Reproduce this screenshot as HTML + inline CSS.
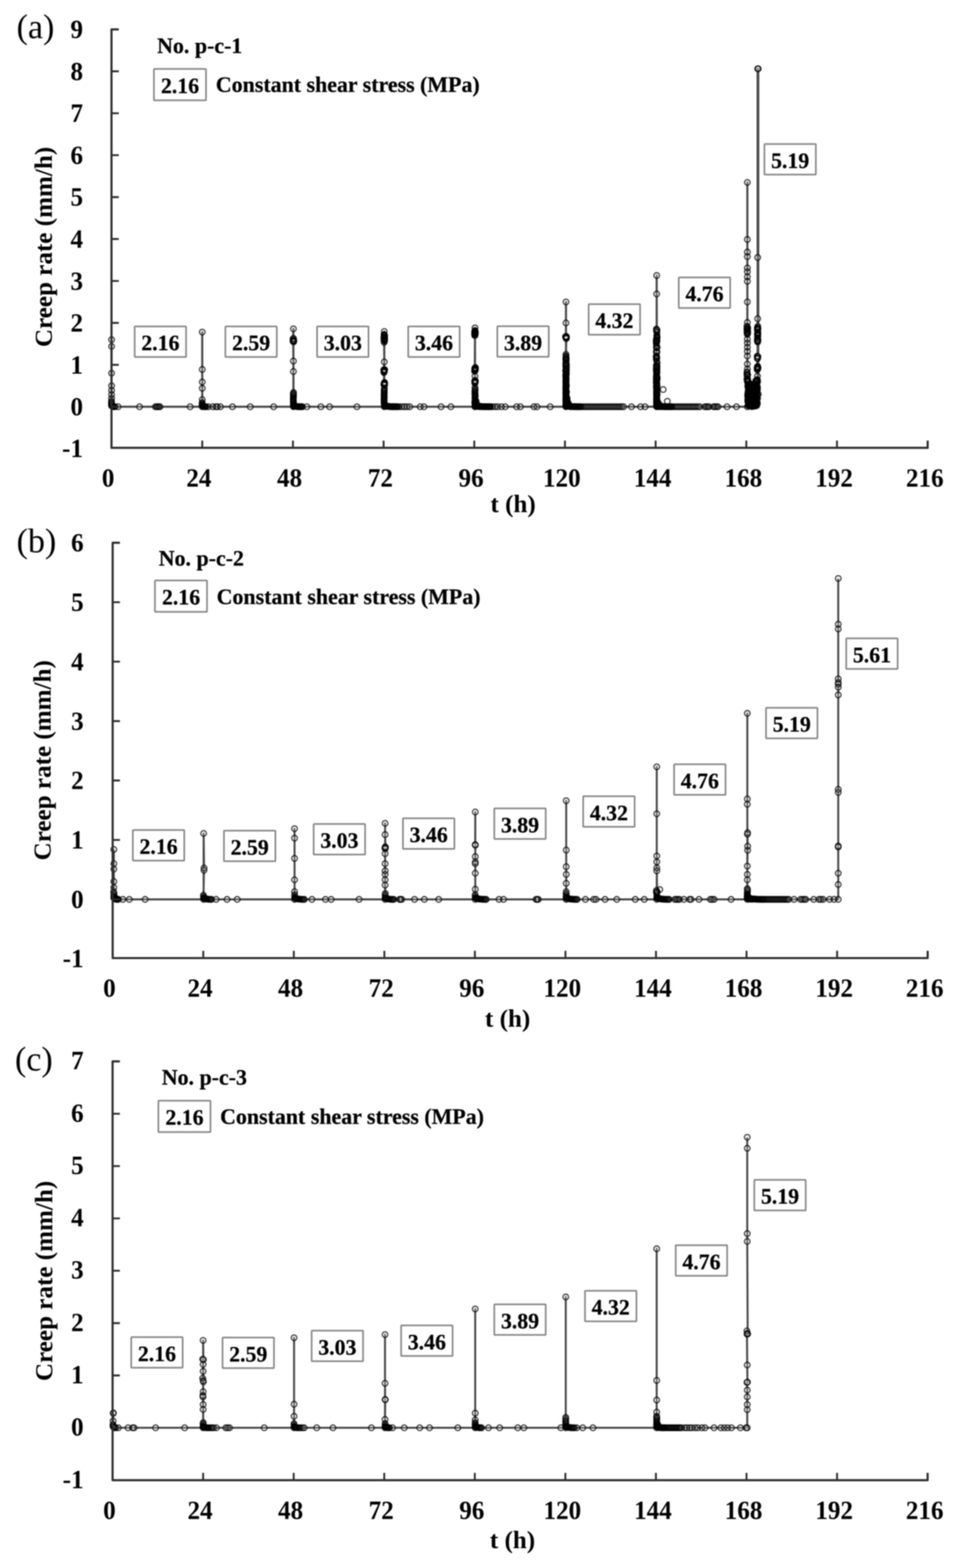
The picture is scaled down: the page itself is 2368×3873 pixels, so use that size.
<!DOCTYPE html>
<html lang="en"><head><meta charset="utf-8"><title>Creep rate curves</title>
<style>html,body{margin:0;padding:0;background:#fff}body{width:2368px;height:3873px;overflow:hidden}svg{display:block;filter:blur(1.35px);font-family:"Liberation Serif","DejaVu Serif",serif;fill:#000}.an{stroke:#000;stroke-width:0.5px}</style>
</head><body>
<svg width="2368" height="3873" viewBox="0 0 2368 3873">
<defs><filter id="db" x="-5%" y="-5%" width="110%" height="110%"><feGaussianBlur stdDeviation="0.7"/></filter></defs>
<rect width="2368" height="3873" fill="#fff"/>
<text transform="translate(205 1128.7) scale(1 1.05)" font-size="62" font-weight="bold" text-anchor="end">-1</text>
<text transform="translate(205 1026.2) scale(1 1.05)" font-size="62" font-weight="bold" text-anchor="end">0</text>
<text transform="translate(205 922.6) scale(1 1.05)" font-size="62" font-weight="bold" text-anchor="end">1</text>
<text transform="translate(205 819.1) scale(1 1.05)" font-size="62" font-weight="bold" text-anchor="end">2</text>
<text transform="translate(205 715.5) scale(1 1.05)" font-size="62" font-weight="bold" text-anchor="end">3</text>
<text transform="translate(205 611.9) scale(1 1.05)" font-size="62" font-weight="bold" text-anchor="end">4</text>
<text transform="translate(205 508.4) scale(1 1.05)" font-size="62" font-weight="bold" text-anchor="end">5</text>
<text transform="translate(205 404.8) scale(1 1.05)" font-size="62" font-weight="bold" text-anchor="end">6</text>
<text transform="translate(205 301.2) scale(1 1.05)" font-size="62" font-weight="bold" text-anchor="end">7</text>
<text transform="translate(205 197.6) scale(1 1.05)" font-size="62" font-weight="bold" text-anchor="end">8</text>
<text transform="translate(205 94.1) scale(1 1.05)" font-size="62" font-weight="bold" text-anchor="end">9</text>
<text transform="translate(267 1202) scale(1 1.05)" font-size="62" font-weight="bold" text-anchor="middle">0</text>
<text transform="translate(491.1 1202) scale(1 1.05)" font-size="62" font-weight="bold" text-anchor="middle">24</text>
<text transform="translate(715.1 1202) scale(1 1.05)" font-size="62" font-weight="bold" text-anchor="middle">48</text>
<text transform="translate(939.2 1202) scale(1 1.05)" font-size="62" font-weight="bold" text-anchor="middle">72</text>
<text transform="translate(1163.2 1202) scale(1 1.05)" font-size="62" font-weight="bold" text-anchor="middle">96</text>
<text transform="translate(1387.3 1202) scale(1 1.05)" font-size="62" font-weight="bold" text-anchor="middle">120</text>
<text transform="translate(1611.4 1202) scale(1 1.05)" font-size="62" font-weight="bold" text-anchor="middle">144</text>
<text transform="translate(1835.4 1202) scale(1 1.05)" font-size="62" font-weight="bold" text-anchor="middle">168</text>
<text transform="translate(2059.5 1202) scale(1 1.05)" font-size="62" font-weight="bold" text-anchor="middle">192</text>
<text transform="translate(2283.5 1202) scale(1 1.05)" font-size="62" font-weight="bold" text-anchor="middle">216</text>
<text transform="translate(1267 1265)" font-size="62" font-weight="bold" text-anchor="middle">t (h)</text>
<text transform="translate(128 610) rotate(-90)" font-size="62" font-weight="bold" text-anchor="middle">Creep rate (mm/h)</text>
<text transform="translate(41 94)" font-size="84">(a)</text>
<text class="an" transform="translate(388 131) scale(1 1.02)" font-size="54.099999999999994" font-weight="bold">No. p-c-1</text>
<text class="an" transform="translate(533 227) scale(1 1.02)" font-size="54.099999999999994" font-weight="bold">Constant shear stress (MPa)</text>
<g filter="url(#db)">
<polyline points="275.5,839 275.5,855.6 275.5,921.8 275.5,952.9 275.5,964.3 275.5,974.7 275.5,984 275.3,991.2 275.2,993.9 275.6,996.6 275.1,999.3 275.5,1002 276,1002.5 276.9,1003.3 278.3,1003.9 279.9,1004.4 281.8,1004.6 283.9,1004.7 291.4,1004.7 344.5,1004.7 383.7,1004.7 386.5,1004.7 389.3,1004.7 392.1,1004.7 394.9,1004.7 469.5,1004.7 499.4,1004.7 499.4,820.3 499.4,912.5 499.4,943.6 499.4,959.1 499.4,987.1 499.3,994.3 499,996.9 499.4,999.5 499,1002.1 499.7,1002.3 500.4,1003 501.3,1003.5 502.5,1003.9 503.8,1004.3 505.3,1004.5 506.9,1004.7 508.7,1004.7 514.3,1004.7 525.5,1004.7 533,1004.7 536.7,1004.7 544.2,1004.7 574,1004.7 617.9,1004.7 675.7,1004.7 724.5,1004.7 724.5,812.1 723.5,840.6 724.3,843.8 723.7,837 724.8,842.6 724.7,835.9 725.6,841 725.3,844.3 723.7,842 724.1,843.6 724.5,891.8 724.5,917.7 724.8,969.5 724.2,972 724.6,974.5 724.6,977 724.4,979.5 724.5,982.1 724.1,984.6 724.1,987.1 724.2,989.6 724.7,992.1 724.4,994.6 724.3,997.2 724.6,999.7 724.5,1002.2 724.7,1001.9 725,1002.1 725.4,1002.4 726,1002.6 726.6,1002.8 727.3,1003.1 728,1003.3 728.9,1003.4 729.8,1003.6 730.8,1003.8 731.8,1003.9 732.9,1004.1 734,1004.2 735.2,1004.3 736.5,1004.4 737.8,1004.5 739.1,1004.5 740.5,1004.6 742,1004.6 743.5,1004.7 745,1004.7 746.6,1004.7 757.8,1004.7 792.3,1004.7 813.8,1004.7 881.4,1004.7 948.9,1004.7 948.9,818.8 949.5,829 948.3,826.2 948.9,827.1 949.4,828.2 949.9,832.4 948.7,833.7 948.1,832.4 947.8,834.3 949.5,833 949.7,837 949.3,838.9 949,836.9 949.6,841.2 948.8,837.6 947.9,839.7 949.2,842.7 949.6,840.6 948.6,845.7 948.9,893.9 947.8,915.1 948.1,917 947.9,920.2 948,914.2 948.6,919 947.9,913.2 949,917.1 949.6,913.1 948.4,913.3 948.6,917.5 949.9,913.1 948.1,919.9 948.3,949.7 949.1,947.4 947.8,949.4 948.6,948 949.9,946.6 948.9,945.4 949.3,946.1 949.8,951.4 949.7,944.6 949.1,959.1 948.8,961.7 948.8,964.2 948.5,966.7 949,969.3 948.5,971.8 948.5,974.3 948.6,976.9 948.6,979.4 948.7,981.9 948.4,984.4 948.4,987 948.5,989.5 948.5,992 948.7,994.6 948.4,997.1 949.2,999.6 949,1002.2 949,1001.8 949.2,1001.9 949.5,1002.1 949.9,1002.3 950.4,1002.4 950.9,1002.6 951.5,1002.7 952.1,1002.9 952.8,1003 953.5,1003.2 954.3,1003.3 955.1,1003.4 955.9,1003.5 956.8,1003.6 957.7,1003.7 958.7,1003.8 959.7,1003.9 960.7,1004 961.8,1004.1 962.9,1004.2 964.1,1004.2 965.2,1004.3 966.4,1004.4 967.7,1004.4 968.9,1004.5 970.2,1004.5 971.6,1004.6 972.9,1004.6 974.3,1004.6 975.7,1004.7 977.2,1004.7 978.7,1004.7 980.2,1004.7 981.7,1004.7 985.4,1004.7 992,1004.7 998.5,1004.7 1005,1004.7 1011.6,1004.7 1037.7,1004.7 1047,1004.7 1089,1004.7 1113.2,1004.7 1172.9,1004.7 1172.9,810 1172.3,819.8 1172.6,818.3 1173.6,820 1172.8,816.3 1171.9,819.9 1172.5,822.7 1173.6,824.1 1171.8,824.9 1172.9,819.1 1173,827.6 1172.9,828.4 1173.7,821.5 1172.3,826.2 1172.1,828.6 1172.9,825.6 1172.5,909.9 1173.6,915.1 1173.6,908 1173.6,909.7 1172.2,910.3 1172.5,912.4 1171.8,916.9 1172.3,914.6 1173.9,910.7 1173.8,913 1173.9,908 1172.2,913.8 1172.9,929.1 1172.2,946.1 1173.1,946.3 1173.6,939.9 1173.2,943.8 1171.9,940.8 1173.8,942.1 1172.9,957.1 1173.1,961.2 1173.1,963.8 1172.8,966.3 1172.6,968.9 1173.1,971.4 1172.7,974 1173.1,976.6 1173.3,979.1 1172.8,981.7 1172.8,984.2 1173.3,986.8 1173.1,989.3 1172.5,991.9 1172.5,994.5 1172.5,997 1173.2,999.6 1173.1,1002.1 1173.1,975.2 1184.5,1004.3 1174.3,992.1 1173.1,1004.2 1184.3,1004.3 1176.2,993.7 1175.1,989.6 1181.1,1004.3 1173.6,996 1173.6,986.8 1173,1001.7 1173.2,1001.9 1173.5,1002 1173.8,1002.2 1174.2,1002.3 1174.7,1002.5 1175.2,1002.6 1175.8,1002.7 1176.4,1002.8 1177,1003 1177.7,1003.1 1178.4,1003.2 1179.2,1003.3 1180,1003.4 1180.8,1003.5 1181.7,1003.6 1182.6,1003.7 1183.5,1003.8 1184.5,1003.8 1185.5,1003.9 1186.5,1004 1187.6,1004.1 1188.7,1004.1 1189.8,1004.2 1190.9,1004.3 1192.1,1004.3 1193.3,1004.4 1194.5,1004.4 1195.8,1004.5 1197.1,1004.5 1198.4,1004.5 1199.7,1004.6 1201,1004.6 1202.4,1004.6 1203.8,1004.7 1205.3,1004.7 1206.7,1004.7 1208.2,1004.7 1209.7,1004.7 1211.2,1004.7 1215.9,1004.7 1222.4,1004.7 1228.9,1004.7 1238.3,1004.7 1247.6,1004.7 1275.6,1004.7 1284.9,1004.7 1318.5,1004.7 1325.9,1004.7 1358.6,1004.7 1397.5,1004.7 1397.5,745.8 1397.5,797.6 1397.3,834 1398.4,835.2 1397.4,833.1 1398.4,831 1398.4,832.5 1397.6,831.7 1396.4,831.5 1396.8,832.3 1398.2,836.4 1397.5,875.2 1397.4,882.8 1397.6,878.8 1397.5,881.7 1398.1,885.2 1397.6,888.5 1397,887.4 1397.5,888.8 1398.1,890.3 1397.4,887.8 1397.5,895.1 1397.9,895.9 1397.6,896.3 1398.5,901.3 1398.3,899.7 1397,897.9 1398.5,905.9 1396.7,903.8 1397.4,909.1 1396.9,914.6 1397.9,914.6 1398.4,909.4 1398,919.2 1396.7,915.5 1398.5,913.9 1398.5,923.9 1397.5,922.6 1398.2,918.3 1397.3,929.5 1397.1,926.9 1397.1,929.2 1397.7,923.9 1397.1,925.3 1397.5,926.6 1397.4,928 1397,929.3 1397.3,930.6 1397.6,932 1397.5,933.3 1397.1,934.7 1398,936 1397.8,937.4 1397.9,938.7 1397.1,940.1 1397.3,941.4 1397.1,942.8 1397.8,944.1 1397.3,945.5 1397.2,946.8 1397.4,948.2 1397.9,949.5 1397.8,950.8 1397.3,952.2 1397.2,953.5 1397.9,954.9 1397.6,956.2 1397.7,957.6 1397.1,958.9 1397.1,960.3 1397.7,961.6 1397.4,963 1397.1,964.3 1397.9,965.7 1397.6,967 1397.8,968.3 1397.1,969.7 1397.8,971 1397.1,972.4 1397.8,973.7 1397.5,975.1 1397.3,976.4 1397.5,977.8 1397.9,979.1 1397.3,980.5 1397.2,981.8 1397.5,983.2 1397.3,984.5 1397.1,985.9 1397.2,987.2 1397.1,988.5 1397.2,989.9 1397.3,991.2 1397.3,992.6 1397.7,993.9 1397.3,995.3 1397.5,996.6 1397.2,998 1397.4,999.3 1397,1000.7 1397.3,1002 1397,1003.4 1404,1000.8 1397.9,975.2 1408.1,1004.5 1405.6,1003 1400.5,983.7 1399.4,985.8 1403.2,995.5 1398.9,968.3 1403.6,999.4 1399.5,992.3 1397.5,995.4 1397.6,952 1398.3,995.8 1397.6,945.4 1406.7,1002.9 1398.5,992.2 1398.5,981.7 1397.8,975.6 1398.3,952.9 1409,1004 1398.2,950.5 1398.7,987.6 1397.5,977 1400.2,990.9 1398,973.9 1397.5,985.5 1397.6,976.6 1397.5,1003.1 1398.6,993.4 1401.7,996 1397.6,1001.8 1397.9,1001.9 1398.3,1002.1 1398.7,1002.3 1399.2,1002.4 1399.8,1002.6 1400.4,1002.7 1401.1,1002.9 1401.9,1003 1402.7,1003.2 1403.5,1003.3 1404.4,1003.4 1405.4,1003.5 1406.4,1003.6 1407.4,1003.7 1408.5,1003.8 1409.6,1003.9 1410.8,1004 1411.9,1004.1 1413.2,1004.2 1414.5,1004.2 1415.8,1004.3 1417.1,1004.4 1418.5,1004.4 1419.9,1004.5 1421.4,1004.5 1422.9,1004.6 1424.4,1004.6 1425.9,1004.6 1427.5,1004.7 1429.1,1004.7 1430.8,1004.7 1432.5,1004.7 1434.2,1004.7 1437.9,1004.7 1442.7,1004.7 1447.6,1004.7 1452.4,1004.7 1457.3,1004.7 1462.1,1004.7 1467,1004.7 1471.9,1004.7 1476.7,1004.7 1481.6,1004.7 1486.4,1004.7 1491.3,1004.7 1496.1,1004.7 1501,1004.7 1505.8,1004.7 1510.7,1004.7 1515.5,1004.7 1520.4,1004.7 1525.2,1004.7 1530.1,1004.7 1534.9,1004.7 1539.8,1004.7 1559.2,1004.7 1581.6,1004.7 1592.8,1004.7 1621.5,1004.7 1621.5,680.5 1621.5,726.1 1621.8,814.9 1622.3,815.2 1621.1,818.3 1620.7,812.7 1621.8,815.1 1622.2,821.5 1621.8,828.9 1622.2,830 1621.5,834.4 1622.2,834.6 1622.2,832.4 1622.4,834 1621.9,836.1 1620.4,839.4 1621.2,840.1 1622.2,843.1 1621.8,839.9 1621.9,839.4 1620.4,843.2 1622,841 1621.6,843.1 1620.5,848.2 1620.9,847.6 1621,852.4 1620.8,858 1622.6,858 1621.2,859.7 1621.9,870.2 1621.8,868.1 1620.5,869 1620.9,883 1621.1,878.7 1620.4,879.9 1621,889.7 1621.9,884 1621,884 1621.4,885.4 1620.6,885.9 1620.8,881.9 1622.5,895.6 1621.4,902.6 1622.5,896.7 1621,903.1 1622.5,904.8 1621.7,904.8 1621.5,908.9 1620.7,903 1621.5,904 1621.9,907.1 1622.4,911.9 1620.4,910 1621.5,917.2 1621,913.9 1621.1,916.2 1622.2,918.5 1622,920.8 1620.6,914.7 1622,917.7 1621,917.9 1621.2,921.7 1621.7,923.4 1621.3,928 1620.5,928.7 1622.2,933.6 1622.5,932.3 1621,932.5 1620.8,934.3 1622.5,935.3 1622.2,931.6 1622.4,937.2 1621.6,934.9 1620.5,936.5 1621.4,940.1 1621.8,940 1620.5,943.4 1620.7,942.4 1621.1,945.7 1622,947 1621,945.8 1621,948.1 1621.3,948.8 1620.7,955.3 1622.4,955 1620.9,952.9 1621.9,950.8 1622,951.9 1621.4,953 1621.2,954.1 1621.2,955.2 1621.1,956.2 1621.3,957.3 1621.1,958.4 1621.2,959.5 1621.3,960.5 1621.6,961.6 1621.8,962.7 1621.7,963.8 1621.4,964.8 1621.4,965.9 1621.5,967 1621.4,968.1 1621.3,969.2 1621.1,970.2 1621.3,971.3 1621.9,972.4 1621.1,973.5 1621.5,974.5 1621.6,975.6 1621.8,976.7 1621.2,977.8 1621.3,978.8 1621.3,979.9 1621.4,981 1621.4,982.1 1621.9,983.2 1621.8,984.2 1621.8,985.3 1621,986.4 1621.1,987.5 1621.7,988.5 1621.9,989.6 1621.5,990.7 1621.6,991.8 1621,992.9 1621.4,993.9 1621.9,995 1621.8,996.1 1621.8,997.2 1621.9,998.2 1621.3,999.3 1621.1,1000.4 1621.2,1001.5 1621.5,1002.5 1621.7,1003.6 1632.2,1003.9 1626.6,998.7 1624,993.9 1621.5,967 1622.1,969.4 1626.5,1002.3 1621.7,993.3 1626.4,998.8 1621.6,1001.5 1624.8,996.1 1623.3,999.1 1625.9,1004.6 1622.6,989.6 1632.6,1004.1 1631,1003.9 1622.2,995.3 1632.7,1004.1 1622.6,1004 1624.5,993.6 1623.6,998.9 1626.9,998.2 1622.1,1003.4 1622.9,992.3 1627.1,1003.4 1629.2,1002.4 1624.6,1001.4 1632.9,1004.4 1629.6,1004.1 1622.1,974.9 1622.5,973 1624.5,1001.6 1622.1,988.4 1626.9,997.9 1621.7,987.3 1622,965.9 1621.7,1002.4 1621.5,985.9 1631.3,1003.4 1628,1000 1632,1004.3 1621.6,1001.7 1621.8,1001.9 1622.1,1002 1622.4,1002.2 1622.8,1002.3 1623.3,1002.5 1623.8,1002.6 1624.3,1002.7 1624.9,1002.8 1625.6,1003 1626.2,1003.1 1627,1003.2 1627.7,1003.3 1628.5,1003.4 1629.3,1003.5 1630.1,1003.6 1631,1003.7 1631.9,1003.8 1632.9,1003.8 1633.9,1003.9 1634.9,1004 1635.9,1004.1 1637,1004.1 1638,1004.2 1639.2,1004.3 1640.3,1004.3 1641.5,1004.4 1642.7,1004.4 1643.9,1004.5 1645.2,1004.5 1646.4,1004.5 1647.7,1004.6 1649.1,1004.6 1650.4,1004.6 1651.8,1004.7 1653.2,1004.7 1654.6,1004.7 1656,1004.7 1657.5,1004.7 1659,1004.7 1662.7,1004.7 1667.4,1004.7 1672.1,1004.7 1676.7,1004.7 1681.4,1004.7 1686,1004.7 1690.7,1004.7 1695.4,1004.7 1700,1004.7 1704.7,1004.7 1709.4,1004.7 1714,1004.7 1718.7,1004.7 1723.4,1004.7 1728,1004.7 1740.2,1004.7 1743.9,1004.7 1747.6,1004.7 1750.4,1004.7 1761.6,1004.7 1765.3,1004.7 1769.1,1004.7 1772.8,1004.7 1795.2,1004.7 1818.5,1004.7 1845.4,1004.7 1845.4,450.6 1845.4,591.5 1845.4,622.5 1845.4,633.9 1845.4,661.9 1845.4,671.2 1845.4,683.6 1845.4,695 1845.4,745.8 1845.4,796.5 1846.4,810.2 1844.3,806.1 1845.1,806.7 1845,812.7 1844.3,814.2 1845.1,813.4 1844.5,812.4 1844.7,812.3 1846.1,816.7 1845.2,817.2 1845.3,822.8 1846.3,820.5 1845.1,825.7 1844.3,820.6 1846.1,824.1 1845.4,838 1845.4,847.3 1845.4,857.6 1845.4,868 1845.4,879.4 1845.4,899.1 1845.4,911.5 1844.4,919.9 1844.4,925.2 1844.8,918.8 1846.3,926.3 1844.9,929.2 1845.6,924.7 1845.9,936 1844.9,935.6 1846,937.9 1845.7,937.5 1844.3,937.3 1845.3,942.4 1845.9,938.8 1845.9,939.4 1846,978.4 1846.1,987.7 1846.2,975.7 1846.3,971.6 1846.4,942.8 1846.5,992.6 1846.6,951.7 1846.7,956.1 1846.8,950.8 1846.9,954.3 1847,965.3 1847.1,983.5 1847.2,984.1 1847.3,981.5 1847.4,954.8 1847.5,999.7 1847.6,992.2 1847.7,957.2 1847.8,989.2 1847.9,1000.6 1848,1002.6 1848.1,970.3 1848.2,984.5 1848.3,944.2 1848.4,950.3 1848.4,944.1 1848.5,988.5 1848.6,999.6 1848.7,998.8 1848.8,974.5 1848.9,961.8 1849,977.8 1849.1,990.6 1849.2,979.7 1849.3,967.6 1849.4,964.5 1849.5,960.2 1849.6,954.4 1849.7,965.3 1849.8,997.5 1849.9,955.1 1850,987.4 1850.1,971.4 1850.2,982.9 1850.3,961.6 1850.4,993.1 1850.5,990.3 1850.6,990.4 1850.7,995.8 1850.8,953.5 1850.9,971.3 1850.9,985.9 1851,981.9 1851.1,947.6 1851.2,975.6 1851.3,991.4 1851.4,958.4 1851.5,967.3 1851.6,948.1 1851.7,998.9 1851.8,977.7 1851.9,958.1 1852,956.9 1852.1,952.8 1852.2,1002.4 1852.3,988.1 1852.4,998 1852.5,994 1852.6,949.8 1852.7,971.8 1852.8,952.3 1852.9,983.7 1853,956 1853.1,979.5 1853.2,990.1 1853.3,961 1853.4,951.7 1853.4,998.8 1853.5,971.3 1853.6,970 1853.7,992.5 1853.8,984.1 1853.9,996.8 1854,993.3 1854.1,990.5 1854.2,971.2 1854.3,968.3 1854.4,993.4 1854.5,1004.1 1854.6,986.5 1854.7,966.9 1854.8,994.4 1854.9,987.3 1855,993.4 1855.1,960.4 1855.2,974.2 1855.3,1001.2 1855.4,999.1 1855.5,982.7 1855.6,974.1 1855.7,969.1 1855.8,999.6 1855.9,995.6 1855.9,966 1856,981.9 1856.1,988.9 1856.2,987.6 1856.3,951.6 1856.4,987.3 1856.5,973.2 1856.6,984.8 1856.7,981.5 1856.8,956.5 1856.9,949.1 1857,984.4 1857.1,993.7 1857.2,964.1 1857.3,993.3 1857.4,1004.4 1857.5,954.3 1857.6,981 1857.7,958.8 1857.8,982 1857.9,955.3 1858,978.9 1858.1,995.6 1858.2,1003.9 1858.3,973.8 1858.4,968.7 1858.4,953.6 1858.5,999.7 1858.6,969.7 1858.7,983.8 1858.8,976.3 1858.9,996.5 1859,988.7 1859.1,975.3 1859.2,952.4 1859.3,998.5 1859.4,976.9 1859.5,959.1 1859.6,949.9 1859.7,993.5 1859.8,997.5 1859.9,951.1 1860,949.2 1860.1,977.2 1860.2,1001.7 1860.3,951.8 1860.4,982.5 1860.5,952.9 1860.6,969.2 1860.7,957.4 1860.8,995.5 1860.9,959.5 1860.9,991.9 1861,981.4 1861.1,955.8 1861.2,956.8 1861.3,994.1 1861.4,992.1 1861.5,981.5 1861.6,974.6 1861.7,982.4 1861.8,997.5 1861.9,990.3 1862,962.3 1862.1,952.2 1862.2,1002.3 1862.3,971.7 1862.4,960.1 1862.5,1002.5 1862.6,955.2 1862.7,997.7 1862.8,969.2 1862.9,972.1 1863,967.4 1863.1,986.5 1863.2,979.6 1863.3,969.9 1863.4,979.2 1863.4,965.1 1863.5,977.8 1863.6,978.3 1863.7,1003.3 1863.8,967.2 1863.9,975 1864,990.4 1864.1,958.2 1864.2,957.1 1864.3,976.7 1864.4,993.7 1864.5,975.6 1864.6,998.1 1864.7,996.8 1864.8,978 1864.9,999 1865,977.2 1865.1,972.9 1865.2,1002.2 1865.3,964.8 1865.4,999.5 1865.5,958.5 1865.6,955.6 1865.7,972.3 1865.8,1001.3 1865.9,972.6 1866,980.6 1866,943.8 1866.1,996 1866.2,949.5 1866.3,940.3 1866.4,957.2 1866.5,951.7 1866.6,992.1 1866.7,940.5 1866.8,972.4 1866.9,941.7 1867,944.2 1867.1,993.8 1867.2,952.3 1867.3,942.6 1867.4,1000.3 1867.5,981.1 1867.6,953.7 1867.7,994 1867.8,943.8 1867.9,986 1868,948.9 1868.1,994.8 1868.2,970.1 1868.3,941.1 1868.4,990.2 1868.5,986.4 1868.5,969.3 1868.6,982.3 1868.7,1002.1 1868.8,991.8 1868.9,993.2 1869,937.8 1869.1,955.9 1869.2,940.2 1869.3,992.5 1869.4,947.6 1869.5,996.3 1869.6,965.8 1869.7,957.8 1869.8,978.1 1869.9,939.8 1870,963.2 1870.1,961.2 1870.2,938.1 1870.3,996.8 1870.4,929.1 1870.5,956.5 1870.6,974.4 1870.7,943 1870.8,984.1 1870.9,904.8 1871.4,910.7 1870,910 1869.7,907.1 1870.2,906.4 1871.8,908.1 1871.1,908.6 1869.6,911.2 1870,913.8 1870.6,880.4 1871.6,881.3 1870.1,884.9 1869.7,880 1870.4,886.1 1870.4,885.1 1870.9,845.1 1870.1,842.5 1870.7,842.2 1871.7,840.7 1870,840 1871.1,841 1871.4,830.4 1870.2,833.8 1871.1,836.6 1870.4,827.6 1870.6,827 1871.3,824.9 1871.7,824.8 1870.8,826.3 1870.2,823.7 1871.4,821.2 1870.9,821.5 1870,814.8 1871,815.1 1871.1,812.9 1870,810.7 1870.3,809.3 1871.6,811.2 1871.2,805.9 1870.8,787.2 1870.8,636 1870.8,169.9 1870.8,169.9 1872.3,169.9 1872.3,973.6" fill="none" stroke="#484848" stroke-width="5.2" stroke-linejoin="round"/>
<g fill="#fff" fill-opacity="0.2" stroke="none"><circle cx="275.5" cy="839" r="7.0"/><circle cx="275.5" cy="855.6" r="7.0"/><circle cx="275.5" cy="921.8" r="7.0"/><circle cx="275.5" cy="952.9" r="7.0"/><circle cx="275.5" cy="964.3" r="7.0"/><circle cx="275.5" cy="974.7" r="7.0"/><circle cx="275.5" cy="984" r="7.0"/><circle cx="275.3" cy="991.2" r="7.0"/><circle cx="275.2" cy="993.9" r="7.0"/><circle cx="275.6" cy="996.6" r="7.0"/><circle cx="275.1" cy="999.3" r="7.0"/><circle cx="275.5" cy="1002" r="7.0"/><circle cx="276" cy="1002.5" r="7.0"/><circle cx="276.9" cy="1003.3" r="7.0"/><circle cx="278.3" cy="1003.9" r="7.0"/><circle cx="279.9" cy="1004.4" r="7.0"/><circle cx="281.8" cy="1004.6" r="7.0"/><circle cx="283.9" cy="1004.7" r="7.0"/><circle cx="291.4" cy="1004.7" r="7.0"/><circle cx="344.5" cy="1004.7" r="7.0"/><circle cx="383.7" cy="1004.7" r="7.0"/><circle cx="386.5" cy="1004.7" r="7.0"/><circle cx="389.3" cy="1004.7" r="7.0"/><circle cx="392.1" cy="1004.7" r="7.0"/><circle cx="394.9" cy="1004.7" r="7.0"/><circle cx="469.5" cy="1004.7" r="7.0"/><circle cx="499.4" cy="1004.7" r="7.0"/><circle cx="499.4" cy="820.3" r="7.0"/><circle cx="499.4" cy="912.5" r="7.0"/><circle cx="499.4" cy="943.6" r="7.0"/><circle cx="499.4" cy="959.1" r="7.0"/><circle cx="499.4" cy="987.1" r="7.0"/><circle cx="499.3" cy="994.3" r="7.0"/><circle cx="499" cy="996.9" r="7.0"/><circle cx="499.4" cy="999.5" r="7.0"/><circle cx="499" cy="1002.1" r="7.0"/><circle cx="499.7" cy="1002.3" r="7.0"/><circle cx="500.4" cy="1003" r="7.0"/><circle cx="501.3" cy="1003.5" r="7.0"/><circle cx="502.5" cy="1003.9" r="7.0"/><circle cx="503.8" cy="1004.3" r="7.0"/><circle cx="505.3" cy="1004.5" r="7.0"/><circle cx="506.9" cy="1004.7" r="7.0"/><circle cx="508.7" cy="1004.7" r="7.0"/><circle cx="514.3" cy="1004.7" r="7.0"/><circle cx="525.5" cy="1004.7" r="7.0"/><circle cx="533" cy="1004.7" r="7.0"/><circle cx="536.7" cy="1004.7" r="7.0"/><circle cx="544.2" cy="1004.7" r="7.0"/><circle cx="574" cy="1004.7" r="7.0"/><circle cx="617.9" cy="1004.7" r="7.0"/><circle cx="675.7" cy="1004.7" r="7.0"/><circle cx="724.5" cy="1004.7" r="7.0"/><circle cx="724.5" cy="812.1" r="7.0"/><circle cx="723.5" cy="840.6" r="7.0"/><circle cx="724.3" cy="843.8" r="7.0"/><circle cx="723.7" cy="837" r="7.0"/><circle cx="724.8" cy="842.6" r="7.0"/><circle cx="724.7" cy="835.9" r="7.0"/><circle cx="725.6" cy="841" r="7.0"/><circle cx="725.3" cy="844.3" r="7.0"/><circle cx="723.7" cy="842" r="7.0"/><circle cx="724.1" cy="843.6" r="7.0"/><circle cx="724.5" cy="891.8" r="7.0"/><circle cx="724.5" cy="917.7" r="7.0"/><circle cx="724.8" cy="969.5" r="7.0"/><circle cx="724.2" cy="972" r="7.0"/><circle cx="724.6" cy="974.5" r="7.0"/><circle cx="724.6" cy="977" r="7.0"/><circle cx="724.4" cy="979.5" r="7.0"/><circle cx="724.5" cy="982.1" r="7.0"/><circle cx="724.1" cy="984.6" r="7.0"/><circle cx="724.1" cy="987.1" r="7.0"/><circle cx="724.2" cy="989.6" r="7.0"/><circle cx="724.7" cy="992.1" r="7.0"/><circle cx="724.4" cy="994.6" r="7.0"/><circle cx="724.3" cy="997.2" r="7.0"/><circle cx="724.6" cy="999.7" r="7.0"/><circle cx="724.5" cy="1002.2" r="7.0"/><circle cx="725" cy="1002.1" r="7.0"/><circle cx="725.4" cy="1002.4" r="7.0"/><circle cx="726" cy="1002.6" r="7.0"/><circle cx="726.6" cy="1002.8" r="7.0"/><circle cx="727.3" cy="1003.1" r="7.0"/><circle cx="728" cy="1003.3" r="7.0"/><circle cx="728.9" cy="1003.4" r="7.0"/><circle cx="729.8" cy="1003.6" r="7.0"/><circle cx="730.8" cy="1003.8" r="7.0"/><circle cx="731.8" cy="1003.9" r="7.0"/><circle cx="732.9" cy="1004.1" r="7.0"/><circle cx="734" cy="1004.2" r="7.0"/><circle cx="735.2" cy="1004.3" r="7.0"/><circle cx="736.5" cy="1004.4" r="7.0"/><circle cx="737.8" cy="1004.5" r="7.0"/><circle cx="739.1" cy="1004.5" r="7.0"/><circle cx="740.5" cy="1004.6" r="7.0"/><circle cx="742" cy="1004.6" r="7.0"/><circle cx="743.5" cy="1004.7" r="7.0"/><circle cx="745" cy="1004.7" r="7.0"/><circle cx="746.6" cy="1004.7" r="7.0"/><circle cx="757.8" cy="1004.7" r="7.0"/><circle cx="792.3" cy="1004.7" r="7.0"/><circle cx="813.8" cy="1004.7" r="7.0"/><circle cx="881.4" cy="1004.7" r="7.0"/><circle cx="948.9" cy="1004.7" r="7.0"/><circle cx="948.9" cy="818.8" r="7.0"/><circle cx="949.5" cy="829" r="7.0"/><circle cx="948.3" cy="826.2" r="7.0"/><circle cx="948.9" cy="827.1" r="7.0"/><circle cx="949.4" cy="828.2" r="7.0"/><circle cx="949.9" cy="832.4" r="7.0"/><circle cx="948.7" cy="833.7" r="7.0"/><circle cx="948.1" cy="832.4" r="7.0"/><circle cx="947.8" cy="834.3" r="7.0"/><circle cx="949.5" cy="833" r="7.0"/><circle cx="949.7" cy="837" r="7.0"/><circle cx="949.3" cy="838.9" r="7.0"/><circle cx="949" cy="836.9" r="7.0"/><circle cx="949.6" cy="841.2" r="7.0"/><circle cx="948.8" cy="837.6" r="7.0"/><circle cx="947.9" cy="839.7" r="7.0"/><circle cx="949.2" cy="842.7" r="7.0"/><circle cx="949.6" cy="840.6" r="7.0"/><circle cx="948.6" cy="845.7" r="7.0"/><circle cx="948.9" cy="893.9" r="7.0"/><circle cx="947.8" cy="915.1" r="7.0"/><circle cx="948.1" cy="917" r="7.0"/><circle cx="947.9" cy="920.2" r="7.0"/><circle cx="948" cy="914.2" r="7.0"/><circle cx="948.6" cy="919" r="7.0"/><circle cx="947.9" cy="913.2" r="7.0"/><circle cx="949" cy="917.1" r="7.0"/><circle cx="949.6" cy="913.1" r="7.0"/><circle cx="948.4" cy="913.3" r="7.0"/><circle cx="948.6" cy="917.5" r="7.0"/><circle cx="949.9" cy="913.1" r="7.0"/><circle cx="948.3" cy="949.7" r="7.0"/><circle cx="949.1" cy="947.4" r="7.0"/><circle cx="947.8" cy="949.4" r="7.0"/><circle cx="948.6" cy="948" r="7.0"/><circle cx="949.9" cy="946.6" r="7.0"/><circle cx="948.9" cy="945.4" r="7.0"/><circle cx="949.3" cy="946.1" r="7.0"/><circle cx="949.8" cy="951.4" r="7.0"/><circle cx="949.7" cy="944.6" r="7.0"/><circle cx="949.1" cy="959.1" r="7.0"/><circle cx="948.8" cy="961.7" r="7.0"/><circle cx="948.8" cy="964.2" r="7.0"/><circle cx="948.5" cy="966.7" r="7.0"/><circle cx="949" cy="969.3" r="7.0"/><circle cx="948.5" cy="971.8" r="7.0"/><circle cx="948.5" cy="974.3" r="7.0"/><circle cx="948.6" cy="976.9" r="7.0"/><circle cx="948.6" cy="979.4" r="7.0"/><circle cx="948.7" cy="981.9" r="7.0"/><circle cx="948.4" cy="984.4" r="7.0"/><circle cx="948.4" cy="987" r="7.0"/><circle cx="948.5" cy="989.5" r="7.0"/><circle cx="948.5" cy="992" r="7.0"/><circle cx="948.7" cy="994.6" r="7.0"/><circle cx="948.4" cy="997.1" r="7.0"/><circle cx="949.2" cy="999.6" r="7.0"/><circle cx="949" cy="1002.2" r="7.0"/><circle cx="949.5" cy="1002.1" r="7.0"/><circle cx="949.9" cy="1002.3" r="7.0"/><circle cx="950.4" cy="1002.4" r="7.0"/><circle cx="950.9" cy="1002.6" r="7.0"/><circle cx="951.5" cy="1002.7" r="7.0"/><circle cx="952.1" cy="1002.9" r="7.0"/><circle cx="952.8" cy="1003" r="7.0"/><circle cx="953.5" cy="1003.2" r="7.0"/><circle cx="954.3" cy="1003.3" r="7.0"/><circle cx="955.1" cy="1003.4" r="7.0"/><circle cx="955.9" cy="1003.5" r="7.0"/><circle cx="956.8" cy="1003.6" r="7.0"/><circle cx="957.7" cy="1003.7" r="7.0"/><circle cx="958.7" cy="1003.8" r="7.0"/><circle cx="959.7" cy="1003.9" r="7.0"/><circle cx="960.7" cy="1004" r="7.0"/><circle cx="961.8" cy="1004.1" r="7.0"/><circle cx="962.9" cy="1004.2" r="7.0"/><circle cx="964.1" cy="1004.2" r="7.0"/><circle cx="965.2" cy="1004.3" r="7.0"/><circle cx="966.4" cy="1004.4" r="7.0"/><circle cx="967.7" cy="1004.4" r="7.0"/><circle cx="968.9" cy="1004.5" r="7.0"/><circle cx="970.2" cy="1004.5" r="7.0"/><circle cx="971.6" cy="1004.6" r="7.0"/><circle cx="972.9" cy="1004.6" r="7.0"/><circle cx="974.3" cy="1004.6" r="7.0"/><circle cx="975.7" cy="1004.7" r="7.0"/><circle cx="977.2" cy="1004.7" r="7.0"/><circle cx="978.7" cy="1004.7" r="7.0"/><circle cx="980.2" cy="1004.7" r="7.0"/><circle cx="981.7" cy="1004.7" r="7.0"/><circle cx="985.4" cy="1004.7" r="7.0"/><circle cx="992" cy="1004.7" r="7.0"/><circle cx="998.5" cy="1004.7" r="7.0"/><circle cx="1005" cy="1004.7" r="7.0"/><circle cx="1011.6" cy="1004.7" r="7.0"/><circle cx="1037.7" cy="1004.7" r="7.0"/><circle cx="1047" cy="1004.7" r="7.0"/><circle cx="1089" cy="1004.7" r="7.0"/><circle cx="1113.2" cy="1004.7" r="7.0"/><circle cx="1172.9" cy="1004.7" r="7.0"/><circle cx="1172.9" cy="810" r="7.0"/><circle cx="1172.3" cy="819.8" r="7.0"/><circle cx="1172.6" cy="818.3" r="7.0"/><circle cx="1173.6" cy="820" r="7.0"/><circle cx="1172.8" cy="816.3" r="7.0"/><circle cx="1171.9" cy="819.9" r="7.0"/><circle cx="1172.5" cy="822.7" r="7.0"/><circle cx="1173.6" cy="824.1" r="7.0"/><circle cx="1171.8" cy="824.9" r="7.0"/><circle cx="1172.9" cy="819.1" r="7.0"/><circle cx="1173" cy="827.6" r="7.0"/><circle cx="1172.9" cy="828.4" r="7.0"/><circle cx="1173.7" cy="821.5" r="7.0"/><circle cx="1172.3" cy="826.2" r="7.0"/><circle cx="1172.1" cy="828.6" r="7.0"/><circle cx="1172.9" cy="825.6" r="7.0"/><circle cx="1172.5" cy="909.9" r="7.0"/><circle cx="1173.6" cy="915.1" r="7.0"/><circle cx="1173.6" cy="908" r="7.0"/><circle cx="1173.6" cy="909.7" r="7.0"/><circle cx="1172.2" cy="910.3" r="7.0"/><circle cx="1172.5" cy="912.4" r="7.0"/><circle cx="1171.8" cy="916.9" r="7.0"/><circle cx="1172.3" cy="914.6" r="7.0"/><circle cx="1173.9" cy="910.7" r="7.0"/><circle cx="1173.8" cy="913" r="7.0"/><circle cx="1173.9" cy="908" r="7.0"/><circle cx="1172.2" cy="913.8" r="7.0"/><circle cx="1172.9" cy="929.1" r="7.0"/><circle cx="1172.2" cy="946.1" r="7.0"/><circle cx="1173.1" cy="946.3" r="7.0"/><circle cx="1173.6" cy="939.9" r="7.0"/><circle cx="1173.2" cy="943.8" r="7.0"/><circle cx="1171.9" cy="940.8" r="7.0"/><circle cx="1173.8" cy="942.1" r="7.0"/><circle cx="1172.9" cy="957.1" r="7.0"/><circle cx="1173.1" cy="961.2" r="7.0"/><circle cx="1173.1" cy="963.8" r="7.0"/><circle cx="1172.8" cy="966.3" r="7.0"/><circle cx="1172.6" cy="968.9" r="7.0"/><circle cx="1173.1" cy="971.4" r="7.0"/><circle cx="1172.7" cy="974" r="7.0"/><circle cx="1173.1" cy="976.6" r="7.0"/><circle cx="1173.3" cy="979.1" r="7.0"/><circle cx="1172.8" cy="981.7" r="7.0"/><circle cx="1172.8" cy="984.2" r="7.0"/><circle cx="1173.3" cy="986.8" r="7.0"/><circle cx="1173.1" cy="989.3" r="7.0"/><circle cx="1172.5" cy="991.9" r="7.0"/><circle cx="1172.5" cy="994.5" r="7.0"/><circle cx="1172.5" cy="997" r="7.0"/><circle cx="1173.2" cy="999.6" r="7.0"/><circle cx="1173.1" cy="1002.1" r="7.0"/><circle cx="1173.1" cy="975.2" r="7.0"/><circle cx="1184.5" cy="1004.3" r="7.0"/><circle cx="1174.3" cy="992.1" r="7.0"/><circle cx="1173.1" cy="1004.2" r="7.0"/><circle cx="1176.2" cy="993.7" r="7.0"/><circle cx="1175.1" cy="989.6" r="7.0"/><circle cx="1181.1" cy="1004.3" r="7.0"/><circle cx="1173.6" cy="996" r="7.0"/><circle cx="1173" cy="1001.7" r="7.0"/><circle cx="1173.5" cy="1002" r="7.0"/><circle cx="1173.8" cy="1002.2" r="7.0"/><circle cx="1174.2" cy="1002.3" r="7.0"/><circle cx="1174.7" cy="1002.5" r="7.0"/><circle cx="1175.2" cy="1002.6" r="7.0"/><circle cx="1175.8" cy="1002.7" r="7.0"/><circle cx="1176.4" cy="1002.8" r="7.0"/><circle cx="1177" cy="1003" r="7.0"/><circle cx="1177.7" cy="1003.1" r="7.0"/><circle cx="1178.4" cy="1003.2" r="7.0"/><circle cx="1179.2" cy="1003.3" r="7.0"/><circle cx="1180" cy="1003.4" r="7.0"/><circle cx="1180.8" cy="1003.5" r="7.0"/><circle cx="1181.7" cy="1003.6" r="7.0"/><circle cx="1182.6" cy="1003.7" r="7.0"/><circle cx="1183.5" cy="1003.8" r="7.0"/><circle cx="1184.5" cy="1003.8" r="7.0"/><circle cx="1185.5" cy="1003.9" r="7.0"/><circle cx="1186.5" cy="1004" r="7.0"/><circle cx="1187.6" cy="1004.1" r="7.0"/><circle cx="1188.7" cy="1004.1" r="7.0"/><circle cx="1189.8" cy="1004.2" r="7.0"/><circle cx="1190.9" cy="1004.3" r="7.0"/><circle cx="1192.1" cy="1004.3" r="7.0"/><circle cx="1193.3" cy="1004.4" r="7.0"/><circle cx="1194.5" cy="1004.4" r="7.0"/><circle cx="1195.8" cy="1004.5" r="7.0"/><circle cx="1197.1" cy="1004.5" r="7.0"/><circle cx="1198.4" cy="1004.5" r="7.0"/><circle cx="1199.7" cy="1004.6" r="7.0"/><circle cx="1201" cy="1004.6" r="7.0"/><circle cx="1202.4" cy="1004.6" r="7.0"/><circle cx="1203.8" cy="1004.7" r="7.0"/><circle cx="1205.3" cy="1004.7" r="7.0"/><circle cx="1206.7" cy="1004.7" r="7.0"/><circle cx="1208.2" cy="1004.7" r="7.0"/><circle cx="1209.7" cy="1004.7" r="7.0"/><circle cx="1211.2" cy="1004.7" r="7.0"/><circle cx="1215.9" cy="1004.7" r="7.0"/><circle cx="1222.4" cy="1004.7" r="7.0"/><circle cx="1228.9" cy="1004.7" r="7.0"/><circle cx="1238.3" cy="1004.7" r="7.0"/><circle cx="1247.6" cy="1004.7" r="7.0"/><circle cx="1275.6" cy="1004.7" r="7.0"/><circle cx="1284.9" cy="1004.7" r="7.0"/><circle cx="1318.5" cy="1004.7" r="7.0"/><circle cx="1325.9" cy="1004.7" r="7.0"/><circle cx="1358.6" cy="1004.7" r="7.0"/><circle cx="1397.5" cy="1004.7" r="7.0"/><circle cx="1397.5" cy="745.8" r="7.0"/><circle cx="1397.5" cy="797.6" r="7.0"/><circle cx="1397.3" cy="834" r="7.0"/><circle cx="1398.4" cy="835.2" r="7.0"/><circle cx="1397.4" cy="833.1" r="7.0"/><circle cx="1398.4" cy="831" r="7.0"/><circle cx="1398.4" cy="832.5" r="7.0"/><circle cx="1397.6" cy="831.7" r="7.0"/><circle cx="1396.4" cy="831.5" r="7.0"/><circle cx="1396.8" cy="832.3" r="7.0"/><circle cx="1398.2" cy="836.4" r="7.0"/><circle cx="1397.5" cy="875.2" r="7.0"/><circle cx="1397.4" cy="882.8" r="7.0"/><circle cx="1397.6" cy="878.8" r="7.0"/><circle cx="1397.5" cy="881.7" r="7.0"/><circle cx="1398.1" cy="885.2" r="7.0"/><circle cx="1397.6" cy="888.5" r="7.0"/><circle cx="1397" cy="887.4" r="7.0"/><circle cx="1397.5" cy="888.8" r="7.0"/><circle cx="1398.1" cy="890.3" r="7.0"/><circle cx="1397.4" cy="887.8" r="7.0"/><circle cx="1397.5" cy="895.1" r="7.0"/><circle cx="1397.9" cy="895.9" r="7.0"/><circle cx="1397.6" cy="896.3" r="7.0"/><circle cx="1398.5" cy="901.3" r="7.0"/><circle cx="1398.3" cy="899.7" r="7.0"/><circle cx="1397" cy="897.9" r="7.0"/><circle cx="1398.5" cy="905.9" r="7.0"/><circle cx="1396.7" cy="903.8" r="7.0"/><circle cx="1397.4" cy="909.1" r="7.0"/><circle cx="1396.9" cy="914.6" r="7.0"/><circle cx="1397.9" cy="914.6" r="7.0"/><circle cx="1398.4" cy="909.4" r="7.0"/><circle cx="1398" cy="919.2" r="7.0"/><circle cx="1396.7" cy="915.5" r="7.0"/><circle cx="1398.5" cy="913.9" r="7.0"/><circle cx="1398.5" cy="923.9" r="7.0"/><circle cx="1397.5" cy="922.6" r="7.0"/><circle cx="1398.2" cy="918.3" r="7.0"/><circle cx="1397.3" cy="929.5" r="7.0"/><circle cx="1397.1" cy="926.9" r="7.0"/><circle cx="1397.1" cy="929.2" r="7.0"/><circle cx="1397.7" cy="923.9" r="7.0"/><circle cx="1397.1" cy="925.3" r="7.0"/><circle cx="1397.5" cy="926.6" r="7.0"/><circle cx="1397.4" cy="928" r="7.0"/><circle cx="1397" cy="929.3" r="7.0"/><circle cx="1397.3" cy="930.6" r="7.0"/><circle cx="1397.6" cy="932" r="7.0"/><circle cx="1397.5" cy="933.3" r="7.0"/><circle cx="1397.1" cy="934.7" r="7.0"/><circle cx="1398" cy="936" r="7.0"/><circle cx="1397.8" cy="937.4" r="7.0"/><circle cx="1397.9" cy="938.7" r="7.0"/><circle cx="1397.1" cy="940.1" r="7.0"/><circle cx="1397.3" cy="941.4" r="7.0"/><circle cx="1397.1" cy="942.8" r="7.0"/><circle cx="1397.8" cy="944.1" r="7.0"/><circle cx="1397.3" cy="945.5" r="7.0"/><circle cx="1397.2" cy="946.8" r="7.0"/><circle cx="1397.4" cy="948.2" r="7.0"/><circle cx="1397.9" cy="949.5" r="7.0"/><circle cx="1397.8" cy="950.8" r="7.0"/><circle cx="1397.3" cy="952.2" r="7.0"/><circle cx="1397.2" cy="953.5" r="7.0"/><circle cx="1397.9" cy="954.9" r="7.0"/><circle cx="1397.6" cy="956.2" r="7.0"/><circle cx="1397.7" cy="957.6" r="7.0"/><circle cx="1397.1" cy="958.9" r="7.0"/><circle cx="1397.1" cy="960.3" r="7.0"/><circle cx="1397.7" cy="961.6" r="7.0"/><circle cx="1397.4" cy="963" r="7.0"/><circle cx="1397.1" cy="964.3" r="7.0"/><circle cx="1397.9" cy="965.7" r="7.0"/><circle cx="1397.6" cy="967" r="7.0"/><circle cx="1397.8" cy="968.3" r="7.0"/><circle cx="1397.1" cy="969.7" r="7.0"/><circle cx="1397.8" cy="971" r="7.0"/><circle cx="1397.1" cy="972.4" r="7.0"/><circle cx="1397.8" cy="973.7" r="7.0"/><circle cx="1397.5" cy="975.1" r="7.0"/><circle cx="1397.3" cy="976.4" r="7.0"/><circle cx="1397.5" cy="977.8" r="7.0"/><circle cx="1397.9" cy="979.1" r="7.0"/><circle cx="1397.3" cy="980.5" r="7.0"/><circle cx="1397.2" cy="981.8" r="7.0"/><circle cx="1397.5" cy="983.2" r="7.0"/><circle cx="1397.3" cy="984.5" r="7.0"/><circle cx="1397.1" cy="985.9" r="7.0"/><circle cx="1397.2" cy="987.2" r="7.0"/><circle cx="1397.1" cy="988.5" r="7.0"/><circle cx="1397.2" cy="989.9" r="7.0"/><circle cx="1397.3" cy="991.2" r="7.0"/><circle cx="1397.3" cy="992.6" r="7.0"/><circle cx="1397.7" cy="993.9" r="7.0"/><circle cx="1397.3" cy="995.3" r="7.0"/><circle cx="1397.5" cy="996.6" r="7.0"/><circle cx="1397.2" cy="998" r="7.0"/><circle cx="1397.4" cy="999.3" r="7.0"/><circle cx="1397" cy="1000.7" r="7.0"/><circle cx="1397.3" cy="1002" r="7.0"/><circle cx="1397" cy="1003.4" r="7.0"/><circle cx="1404" cy="1000.8" r="7.0"/><circle cx="1397.9" cy="975.2" r="7.0"/><circle cx="1408.1" cy="1004.5" r="7.0"/><circle cx="1405.6" cy="1003" r="7.0"/><circle cx="1400.5" cy="983.7" r="7.0"/><circle cx="1399.4" cy="985.8" r="7.0"/><circle cx="1403.2" cy="995.5" r="7.0"/><circle cx="1398.9" cy="968.3" r="7.0"/><circle cx="1403.6" cy="999.4" r="7.0"/><circle cx="1399.5" cy="992.3" r="7.0"/><circle cx="1398.3" cy="995.8" r="7.0"/><circle cx="1406.7" cy="1002.9" r="7.0"/><circle cx="1398.5" cy="992.2" r="7.0"/><circle cx="1398.5" cy="981.7" r="7.0"/><circle cx="1397.8" cy="975.6" r="7.0"/><circle cx="1398.3" cy="952.9" r="7.0"/><circle cx="1409" cy="1004" r="7.0"/><circle cx="1398.2" cy="950.5" r="7.0"/><circle cx="1398.7" cy="987.6" r="7.0"/><circle cx="1397.5" cy="977" r="7.0"/><circle cx="1400.2" cy="990.9" r="7.0"/><circle cx="1398" cy="973.9" r="7.0"/><circle cx="1397.5" cy="985.5" r="7.0"/><circle cx="1397.5" cy="1003.1" r="7.0"/><circle cx="1398.6" cy="993.4" r="7.0"/><circle cx="1401.7" cy="996" r="7.0"/><circle cx="1397.9" cy="1001.9" r="7.0"/><circle cx="1398.3" cy="1002.1" r="7.0"/><circle cx="1398.7" cy="1002.3" r="7.0"/><circle cx="1399.2" cy="1002.4" r="7.0"/><circle cx="1399.8" cy="1002.6" r="7.0"/><circle cx="1400.4" cy="1002.7" r="7.0"/><circle cx="1401.1" cy="1002.9" r="7.0"/><circle cx="1401.9" cy="1003" r="7.0"/><circle cx="1402.7" cy="1003.2" r="7.0"/><circle cx="1403.5" cy="1003.3" r="7.0"/><circle cx="1404.4" cy="1003.4" r="7.0"/><circle cx="1405.4" cy="1003.5" r="7.0"/><circle cx="1406.4" cy="1003.6" r="7.0"/><circle cx="1407.4" cy="1003.7" r="7.0"/><circle cx="1408.5" cy="1003.8" r="7.0"/><circle cx="1409.6" cy="1003.9" r="7.0"/><circle cx="1410.8" cy="1004" r="7.0"/><circle cx="1411.9" cy="1004.1" r="7.0"/><circle cx="1413.2" cy="1004.2" r="7.0"/><circle cx="1414.5" cy="1004.2" r="7.0"/><circle cx="1415.8" cy="1004.3" r="7.0"/><circle cx="1417.1" cy="1004.4" r="7.0"/><circle cx="1418.5" cy="1004.4" r="7.0"/><circle cx="1419.9" cy="1004.5" r="7.0"/><circle cx="1421.4" cy="1004.5" r="7.0"/><circle cx="1422.9" cy="1004.6" r="7.0"/><circle cx="1424.4" cy="1004.6" r="7.0"/><circle cx="1425.9" cy="1004.6" r="7.0"/><circle cx="1427.5" cy="1004.7" r="7.0"/><circle cx="1429.1" cy="1004.7" r="7.0"/><circle cx="1430.8" cy="1004.7" r="7.0"/><circle cx="1432.5" cy="1004.7" r="7.0"/><circle cx="1434.2" cy="1004.7" r="7.0"/><circle cx="1437.9" cy="1004.7" r="7.0"/><circle cx="1442.7" cy="1004.7" r="7.0"/><circle cx="1447.6" cy="1004.7" r="7.0"/><circle cx="1452.4" cy="1004.7" r="7.0"/><circle cx="1457.3" cy="1004.7" r="7.0"/><circle cx="1462.1" cy="1004.7" r="7.0"/><circle cx="1467" cy="1004.7" r="7.0"/><circle cx="1471.9" cy="1004.7" r="7.0"/><circle cx="1476.7" cy="1004.7" r="7.0"/><circle cx="1481.6" cy="1004.7" r="7.0"/><circle cx="1486.4" cy="1004.7" r="7.0"/><circle cx="1491.3" cy="1004.7" r="7.0"/><circle cx="1496.1" cy="1004.7" r="7.0"/><circle cx="1501" cy="1004.7" r="7.0"/><circle cx="1505.8" cy="1004.7" r="7.0"/><circle cx="1510.7" cy="1004.7" r="7.0"/><circle cx="1515.5" cy="1004.7" r="7.0"/><circle cx="1520.4" cy="1004.7" r="7.0"/><circle cx="1525.2" cy="1004.7" r="7.0"/><circle cx="1530.1" cy="1004.7" r="7.0"/><circle cx="1534.9" cy="1004.7" r="7.0"/><circle cx="1539.8" cy="1004.7" r="7.0"/><circle cx="1559.2" cy="1004.7" r="7.0"/><circle cx="1581.6" cy="1004.7" r="7.0"/><circle cx="1592.8" cy="1004.7" r="7.0"/><circle cx="1621.5" cy="1004.7" r="7.0"/><circle cx="1621.5" cy="680.5" r="7.0"/><circle cx="1621.5" cy="726.1" r="7.0"/><circle cx="1621.8" cy="814.9" r="7.0"/><circle cx="1622.3" cy="815.2" r="7.0"/><circle cx="1621.1" cy="818.3" r="7.0"/><circle cx="1620.7" cy="812.7" r="7.0"/><circle cx="1622.2" cy="821.5" r="7.0"/><circle cx="1621.8" cy="828.9" r="7.0"/><circle cx="1622.2" cy="830" r="7.0"/><circle cx="1621.5" cy="834.4" r="7.0"/><circle cx="1622.2" cy="834.6" r="7.0"/><circle cx="1622.2" cy="832.4" r="7.0"/><circle cx="1622.4" cy="834" r="7.0"/><circle cx="1621.9" cy="836.1" r="7.0"/><circle cx="1620.4" cy="839.4" r="7.0"/><circle cx="1621.2" cy="840.1" r="7.0"/><circle cx="1622.2" cy="843.1" r="7.0"/><circle cx="1621.8" cy="839.9" r="7.0"/><circle cx="1621.9" cy="839.4" r="7.0"/><circle cx="1620.4" cy="843.2" r="7.0"/><circle cx="1622" cy="841" r="7.0"/><circle cx="1621.6" cy="843.1" r="7.0"/><circle cx="1620.5" cy="848.2" r="7.0"/><circle cx="1620.9" cy="847.6" r="7.0"/><circle cx="1621" cy="852.4" r="7.0"/><circle cx="1620.8" cy="858" r="7.0"/><circle cx="1622.6" cy="858" r="7.0"/><circle cx="1621.2" cy="859.7" r="7.0"/><circle cx="1621.9" cy="870.2" r="7.0"/><circle cx="1621.8" cy="868.1" r="7.0"/><circle cx="1620.5" cy="869" r="7.0"/><circle cx="1620.9" cy="883" r="7.0"/><circle cx="1621.1" cy="878.7" r="7.0"/><circle cx="1620.4" cy="879.9" r="7.0"/><circle cx="1621" cy="889.7" r="7.0"/><circle cx="1621.9" cy="884" r="7.0"/><circle cx="1621" cy="884" r="7.0"/><circle cx="1621.4" cy="885.4" r="7.0"/><circle cx="1620.6" cy="885.9" r="7.0"/><circle cx="1620.8" cy="881.9" r="7.0"/><circle cx="1622.5" cy="895.6" r="7.0"/><circle cx="1621.4" cy="902.6" r="7.0"/><circle cx="1622.5" cy="896.7" r="7.0"/><circle cx="1621" cy="903.1" r="7.0"/><circle cx="1622.5" cy="904.8" r="7.0"/><circle cx="1621.7" cy="904.8" r="7.0"/><circle cx="1621.5" cy="908.9" r="7.0"/><circle cx="1620.7" cy="903" r="7.0"/><circle cx="1621.5" cy="904" r="7.0"/><circle cx="1621.9" cy="907.1" r="7.0"/><circle cx="1622.4" cy="911.9" r="7.0"/><circle cx="1620.4" cy="910" r="7.0"/><circle cx="1621.5" cy="917.2" r="7.0"/><circle cx="1621" cy="913.9" r="7.0"/><circle cx="1621.1" cy="916.2" r="7.0"/><circle cx="1622.2" cy="918.5" r="7.0"/><circle cx="1622" cy="920.8" r="7.0"/><circle cx="1620.6" cy="914.7" r="7.0"/><circle cx="1622" cy="917.7" r="7.0"/><circle cx="1621" cy="917.9" r="7.0"/><circle cx="1621.2" cy="921.7" r="7.0"/><circle cx="1621.7" cy="923.4" r="7.0"/><circle cx="1621.3" cy="928" r="7.0"/><circle cx="1620.5" cy="928.7" r="7.0"/><circle cx="1622.2" cy="933.6" r="7.0"/><circle cx="1622.5" cy="932.3" r="7.0"/><circle cx="1621" cy="932.5" r="7.0"/><circle cx="1620.8" cy="934.3" r="7.0"/><circle cx="1622.5" cy="935.3" r="7.0"/><circle cx="1622.2" cy="931.6" r="7.0"/><circle cx="1622.4" cy="937.2" r="7.0"/><circle cx="1621.6" cy="934.9" r="7.0"/><circle cx="1620.5" cy="936.5" r="7.0"/><circle cx="1621.4" cy="940.1" r="7.0"/><circle cx="1621.8" cy="940" r="7.0"/><circle cx="1620.5" cy="943.4" r="7.0"/><circle cx="1620.7" cy="942.4" r="7.0"/><circle cx="1621.1" cy="945.7" r="7.0"/><circle cx="1622" cy="947" r="7.0"/><circle cx="1621" cy="945.8" r="7.0"/><circle cx="1621" cy="948.1" r="7.0"/><circle cx="1621.3" cy="948.8" r="7.0"/><circle cx="1620.7" cy="955.3" r="7.0"/><circle cx="1622.4" cy="955" r="7.0"/><circle cx="1620.9" cy="952.9" r="7.0"/><circle cx="1621.9" cy="950.8" r="7.0"/><circle cx="1622" cy="951.9" r="7.0"/><circle cx="1621.4" cy="953" r="7.0"/><circle cx="1621.2" cy="954.1" r="7.0"/><circle cx="1621.2" cy="955.2" r="7.0"/><circle cx="1621.1" cy="956.2" r="7.0"/><circle cx="1621.3" cy="957.3" r="7.0"/><circle cx="1621.1" cy="958.4" r="7.0"/><circle cx="1621.2" cy="959.5" r="7.0"/><circle cx="1621.3" cy="960.5" r="7.0"/><circle cx="1621.6" cy="961.6" r="7.0"/><circle cx="1621.8" cy="962.7" r="7.0"/><circle cx="1621.7" cy="963.8" r="7.0"/><circle cx="1621.4" cy="964.8" r="7.0"/><circle cx="1621.4" cy="965.9" r="7.0"/><circle cx="1621.5" cy="967" r="7.0"/><circle cx="1621.4" cy="968.1" r="7.0"/><circle cx="1621.3" cy="969.2" r="7.0"/><circle cx="1621.1" cy="970.2" r="7.0"/><circle cx="1621.3" cy="971.3" r="7.0"/><circle cx="1621.9" cy="972.4" r="7.0"/><circle cx="1621.1" cy="973.5" r="7.0"/><circle cx="1621.5" cy="974.5" r="7.0"/><circle cx="1621.6" cy="975.6" r="7.0"/><circle cx="1621.8" cy="976.7" r="7.0"/><circle cx="1621.2" cy="977.8" r="7.0"/><circle cx="1621.3" cy="978.8" r="7.0"/><circle cx="1621.3" cy="979.9" r="7.0"/><circle cx="1621.4" cy="981" r="7.0"/><circle cx="1621.4" cy="982.1" r="7.0"/><circle cx="1621.9" cy="983.2" r="7.0"/><circle cx="1621.8" cy="984.2" r="7.0"/><circle cx="1621.8" cy="985.3" r="7.0"/><circle cx="1621" cy="986.4" r="7.0"/><circle cx="1621.1" cy="987.5" r="7.0"/><circle cx="1621.7" cy="988.5" r="7.0"/><circle cx="1621.9" cy="989.6" r="7.0"/><circle cx="1621.5" cy="990.7" r="7.0"/><circle cx="1621.6" cy="991.8" r="7.0"/><circle cx="1621" cy="992.9" r="7.0"/><circle cx="1621.4" cy="993.9" r="7.0"/><circle cx="1621.9" cy="995" r="7.0"/><circle cx="1621.8" cy="996.1" r="7.0"/><circle cx="1621.8" cy="997.2" r="7.0"/><circle cx="1621.9" cy="998.2" r="7.0"/><circle cx="1621.3" cy="999.3" r="7.0"/><circle cx="1621.1" cy="1000.4" r="7.0"/><circle cx="1621.2" cy="1001.5" r="7.0"/><circle cx="1621.5" cy="1002.5" r="7.0"/><circle cx="1621.7" cy="1003.6" r="7.0"/><circle cx="1632.2" cy="1003.9" r="7.0"/><circle cx="1626.6" cy="998.7" r="7.0"/><circle cx="1624" cy="993.9" r="7.0"/><circle cx="1622.1" cy="969.4" r="7.0"/><circle cx="1626.5" cy="1002.3" r="7.0"/><circle cx="1621.7" cy="993.3" r="7.0"/><circle cx="1626.4" cy="998.8" r="7.0"/><circle cx="1621.6" cy="1001.5" r="7.0"/><circle cx="1624.8" cy="996.1" r="7.0"/><circle cx="1623.3" cy="999.1" r="7.0"/><circle cx="1625.9" cy="1004.6" r="7.0"/><circle cx="1622.6" cy="989.6" r="7.0"/><circle cx="1632.6" cy="1004.1" r="7.0"/><circle cx="1631" cy="1003.9" r="7.0"/><circle cx="1622.2" cy="995.3" r="7.0"/><circle cx="1622.6" cy="1004" r="7.0"/><circle cx="1624.5" cy="993.6" r="7.0"/><circle cx="1626.9" cy="998.2" r="7.0"/><circle cx="1622.1" cy="1003.4" r="7.0"/><circle cx="1622.9" cy="992.3" r="7.0"/><circle cx="1627.1" cy="1003.4" r="7.0"/><circle cx="1629.2" cy="1002.4" r="7.0"/><circle cx="1624.6" cy="1001.4" r="7.0"/><circle cx="1632.9" cy="1004.4" r="7.0"/><circle cx="1629.6" cy="1004.1" r="7.0"/><circle cx="1622.1" cy="974.9" r="7.0"/><circle cx="1622.5" cy="973" r="7.0"/><circle cx="1622.1" cy="988.4" r="7.0"/><circle cx="1621.7" cy="987.3" r="7.0"/><circle cx="1622" cy="965.9" r="7.0"/><circle cx="1621.5" cy="985.9" r="7.0"/><circle cx="1631.3" cy="1003.4" r="7.0"/><circle cx="1628" cy="1000" r="7.0"/><circle cx="1632" cy="1004.3" r="7.0"/><circle cx="1621.8" cy="1001.9" r="7.0"/><circle cx="1622.4" cy="1002.2" r="7.0"/><circle cx="1622.8" cy="1002.3" r="7.0"/><circle cx="1623.3" cy="1002.5" r="7.0"/><circle cx="1623.8" cy="1002.6" r="7.0"/><circle cx="1624.3" cy="1002.7" r="7.0"/><circle cx="1624.9" cy="1002.8" r="7.0"/><circle cx="1625.6" cy="1003" r="7.0"/><circle cx="1626.2" cy="1003.1" r="7.0"/><circle cx="1627" cy="1003.2" r="7.0"/><circle cx="1627.7" cy="1003.3" r="7.0"/><circle cx="1628.5" cy="1003.4" r="7.0"/><circle cx="1629.3" cy="1003.5" r="7.0"/><circle cx="1630.1" cy="1003.6" r="7.0"/><circle cx="1631" cy="1003.7" r="7.0"/><circle cx="1632.9" cy="1003.8" r="7.0"/><circle cx="1633.9" cy="1003.9" r="7.0"/><circle cx="1634.9" cy="1004" r="7.0"/><circle cx="1635.9" cy="1004.1" r="7.0"/><circle cx="1637" cy="1004.1" r="7.0"/><circle cx="1638" cy="1004.2" r="7.0"/><circle cx="1639.2" cy="1004.3" r="7.0"/><circle cx="1640.3" cy="1004.3" r="7.0"/><circle cx="1641.5" cy="1004.4" r="7.0"/><circle cx="1642.7" cy="1004.4" r="7.0"/><circle cx="1643.9" cy="1004.5" r="7.0"/><circle cx="1645.2" cy="1004.5" r="7.0"/><circle cx="1646.4" cy="1004.5" r="7.0"/><circle cx="1647.7" cy="1004.6" r="7.0"/><circle cx="1649.1" cy="1004.6" r="7.0"/><circle cx="1650.4" cy="1004.6" r="7.0"/><circle cx="1651.8" cy="1004.7" r="7.0"/><circle cx="1653.2" cy="1004.7" r="7.0"/><circle cx="1654.6" cy="1004.7" r="7.0"/><circle cx="1656" cy="1004.7" r="7.0"/><circle cx="1657.5" cy="1004.7" r="7.0"/><circle cx="1659" cy="1004.7" r="7.0"/><circle cx="1662.7" cy="1004.7" r="7.0"/><circle cx="1667.4" cy="1004.7" r="7.0"/><circle cx="1672.1" cy="1004.7" r="7.0"/><circle cx="1676.7" cy="1004.7" r="7.0"/><circle cx="1681.4" cy="1004.7" r="7.0"/><circle cx="1686" cy="1004.7" r="7.0"/><circle cx="1690.7" cy="1004.7" r="7.0"/><circle cx="1695.4" cy="1004.7" r="7.0"/><circle cx="1700" cy="1004.7" r="7.0"/><circle cx="1704.7" cy="1004.7" r="7.0"/><circle cx="1709.4" cy="1004.7" r="7.0"/><circle cx="1714" cy="1004.7" r="7.0"/><circle cx="1718.7" cy="1004.7" r="7.0"/><circle cx="1723.4" cy="1004.7" r="7.0"/><circle cx="1728" cy="1004.7" r="7.0"/><circle cx="1740.2" cy="1004.7" r="7.0"/><circle cx="1743.9" cy="1004.7" r="7.0"/><circle cx="1747.6" cy="1004.7" r="7.0"/><circle cx="1750.4" cy="1004.7" r="7.0"/><circle cx="1761.6" cy="1004.7" r="7.0"/><circle cx="1765.3" cy="1004.7" r="7.0"/><circle cx="1769.1" cy="1004.7" r="7.0"/><circle cx="1772.8" cy="1004.7" r="7.0"/><circle cx="1795.2" cy="1004.7" r="7.0"/><circle cx="1818.5" cy="1004.7" r="7.0"/><circle cx="1845.4" cy="1004.7" r="7.0"/><circle cx="1845.4" cy="450.6" r="7.0"/><circle cx="1845.4" cy="591.5" r="7.0"/><circle cx="1845.4" cy="622.5" r="7.0"/><circle cx="1845.4" cy="633.9" r="7.0"/><circle cx="1845.4" cy="661.9" r="7.0"/><circle cx="1845.4" cy="671.2" r="7.0"/><circle cx="1845.4" cy="683.6" r="7.0"/><circle cx="1845.4" cy="695" r="7.0"/><circle cx="1845.4" cy="745.8" r="7.0"/><circle cx="1845.4" cy="796.5" r="7.0"/><circle cx="1846.4" cy="810.2" r="7.0"/><circle cx="1844.3" cy="806.1" r="7.0"/><circle cx="1845.1" cy="806.7" r="7.0"/><circle cx="1845" cy="812.7" r="7.0"/><circle cx="1844.3" cy="814.2" r="7.0"/><circle cx="1845.1" cy="813.4" r="7.0"/><circle cx="1844.5" cy="812.4" r="7.0"/><circle cx="1846.1" cy="816.7" r="7.0"/><circle cx="1845.2" cy="817.2" r="7.0"/><circle cx="1845.3" cy="822.8" r="7.0"/><circle cx="1846.3" cy="820.5" r="7.0"/><circle cx="1845.1" cy="825.7" r="7.0"/><circle cx="1844.3" cy="820.6" r="7.0"/><circle cx="1846.1" cy="824.1" r="7.0"/><circle cx="1845.4" cy="838" r="7.0"/><circle cx="1845.4" cy="847.3" r="7.0"/><circle cx="1845.4" cy="857.6" r="7.0"/><circle cx="1845.4" cy="868" r="7.0"/><circle cx="1845.4" cy="879.4" r="7.0"/><circle cx="1845.4" cy="899.1" r="7.0"/><circle cx="1845.4" cy="911.5" r="7.0"/><circle cx="1844.4" cy="919.9" r="7.0"/><circle cx="1844.4" cy="925.2" r="7.0"/><circle cx="1844.8" cy="918.8" r="7.0"/><circle cx="1846.3" cy="926.3" r="7.0"/><circle cx="1844.9" cy="929.2" r="7.0"/><circle cx="1845.6" cy="924.7" r="7.0"/><circle cx="1845.9" cy="936" r="7.0"/><circle cx="1844.9" cy="935.6" r="7.0"/><circle cx="1846" cy="937.9" r="7.0"/><circle cx="1845.7" cy="937.5" r="7.0"/><circle cx="1844.3" cy="937.3" r="7.0"/><circle cx="1845.3" cy="942.4" r="7.0"/><circle cx="1845.9" cy="938.8" r="7.0"/><circle cx="1845.9" cy="939.4" r="7.0"/><circle cx="1846" cy="978.4" r="7.0"/><circle cx="1846.1" cy="987.7" r="7.0"/><circle cx="1846.2" cy="975.7" r="7.0"/><circle cx="1846.3" cy="971.6" r="7.0"/><circle cx="1846.4" cy="942.8" r="7.0"/><circle cx="1846.5" cy="992.6" r="7.0"/><circle cx="1846.6" cy="951.7" r="7.0"/><circle cx="1846.7" cy="956.1" r="7.0"/><circle cx="1846.8" cy="950.8" r="7.0"/><circle cx="1846.9" cy="954.3" r="7.0"/><circle cx="1847" cy="965.3" r="7.0"/><circle cx="1847.1" cy="983.5" r="7.0"/><circle cx="1847.2" cy="984.1" r="7.0"/><circle cx="1847.3" cy="981.5" r="7.0"/><circle cx="1847.4" cy="954.8" r="7.0"/><circle cx="1847.5" cy="999.7" r="7.0"/><circle cx="1847.6" cy="992.2" r="7.0"/><circle cx="1847.7" cy="957.2" r="7.0"/><circle cx="1847.8" cy="989.2" r="7.0"/><circle cx="1847.9" cy="1000.6" r="7.0"/><circle cx="1848" cy="1002.6" r="7.0"/><circle cx="1848.1" cy="970.3" r="7.0"/><circle cx="1848.2" cy="984.5" r="7.0"/><circle cx="1848.3" cy="944.2" r="7.0"/><circle cx="1848.4" cy="950.3" r="7.0"/><circle cx="1848.5" cy="988.5" r="7.0"/><circle cx="1848.6" cy="999.6" r="7.0"/><circle cx="1848.7" cy="998.8" r="7.0"/><circle cx="1848.8" cy="974.5" r="7.0"/><circle cx="1848.9" cy="961.8" r="7.0"/><circle cx="1849" cy="977.8" r="7.0"/><circle cx="1849.1" cy="990.6" r="7.0"/><circle cx="1849.2" cy="979.7" r="7.0"/><circle cx="1849.3" cy="967.6" r="7.0"/><circle cx="1849.4" cy="964.5" r="7.0"/><circle cx="1849.5" cy="960.2" r="7.0"/><circle cx="1849.6" cy="954.4" r="7.0"/><circle cx="1849.7" cy="965.3" r="7.0"/><circle cx="1849.8" cy="997.5" r="7.0"/><circle cx="1849.9" cy="955.1" r="7.0"/><circle cx="1850" cy="987.4" r="7.0"/><circle cx="1850.1" cy="971.4" r="7.0"/><circle cx="1850.2" cy="982.9" r="7.0"/><circle cx="1850.3" cy="961.6" r="7.0"/><circle cx="1850.4" cy="993.1" r="7.0"/><circle cx="1850.5" cy="990.3" r="7.0"/><circle cx="1850.7" cy="995.8" r="7.0"/><circle cx="1850.8" cy="953.5" r="7.0"/><circle cx="1850.9" cy="971.3" r="7.0"/><circle cx="1850.9" cy="985.9" r="7.0"/><circle cx="1851" cy="981.9" r="7.0"/><circle cx="1851.1" cy="947.6" r="7.0"/><circle cx="1851.2" cy="975.6" r="7.0"/><circle cx="1851.3" cy="991.4" r="7.0"/><circle cx="1851.4" cy="958.4" r="7.0"/><circle cx="1851.5" cy="967.3" r="7.0"/><circle cx="1851.6" cy="948.1" r="7.0"/><circle cx="1851.7" cy="998.9" r="7.0"/><circle cx="1851.8" cy="977.7" r="7.0"/><circle cx="1851.9" cy="958.1" r="7.0"/><circle cx="1852" cy="956.9" r="7.0"/><circle cx="1852.1" cy="952.8" r="7.0"/><circle cx="1852.2" cy="1002.4" r="7.0"/><circle cx="1852.3" cy="988.1" r="7.0"/><circle cx="1852.4" cy="998" r="7.0"/><circle cx="1852.5" cy="994" r="7.0"/><circle cx="1852.6" cy="949.8" r="7.0"/><circle cx="1852.7" cy="971.8" r="7.0"/><circle cx="1852.8" cy="952.3" r="7.0"/><circle cx="1852.9" cy="983.7" r="7.0"/><circle cx="1853" cy="956" r="7.0"/><circle cx="1853.1" cy="979.5" r="7.0"/><circle cx="1853.2" cy="990.1" r="7.0"/><circle cx="1853.3" cy="961" r="7.0"/><circle cx="1853.4" cy="951.7" r="7.0"/><circle cx="1853.4" cy="998.8" r="7.0"/><circle cx="1853.5" cy="971.3" r="7.0"/><circle cx="1853.6" cy="970" r="7.0"/><circle cx="1853.7" cy="992.5" r="7.0"/><circle cx="1853.8" cy="984.1" r="7.0"/><circle cx="1853.9" cy="996.8" r="7.0"/><circle cx="1854" cy="993.3" r="7.0"/><circle cx="1854.1" cy="990.5" r="7.0"/><circle cx="1854.2" cy="971.2" r="7.0"/><circle cx="1854.3" cy="968.3" r="7.0"/><circle cx="1854.4" cy="993.4" r="7.0"/><circle cx="1854.5" cy="1004.1" r="7.0"/><circle cx="1854.6" cy="986.5" r="7.0"/><circle cx="1854.7" cy="966.9" r="7.0"/><circle cx="1854.8" cy="994.4" r="7.0"/><circle cx="1854.9" cy="987.3" r="7.0"/><circle cx="1855" cy="993.4" r="7.0"/><circle cx="1855.1" cy="960.4" r="7.0"/><circle cx="1855.2" cy="974.2" r="7.0"/><circle cx="1855.3" cy="1001.2" r="7.0"/><circle cx="1855.4" cy="999.1" r="7.0"/><circle cx="1855.5" cy="982.7" r="7.0"/><circle cx="1855.6" cy="974.1" r="7.0"/><circle cx="1855.7" cy="969.1" r="7.0"/><circle cx="1855.8" cy="999.6" r="7.0"/><circle cx="1855.9" cy="995.6" r="7.0"/><circle cx="1855.9" cy="966" r="7.0"/><circle cx="1856" cy="981.9" r="7.0"/><circle cx="1856.1" cy="988.9" r="7.0"/><circle cx="1856.2" cy="987.6" r="7.0"/><circle cx="1856.3" cy="951.6" r="7.0"/><circle cx="1856.4" cy="987.3" r="7.0"/><circle cx="1856.5" cy="973.2" r="7.0"/><circle cx="1856.6" cy="984.8" r="7.0"/><circle cx="1856.7" cy="981.5" r="7.0"/><circle cx="1856.8" cy="956.5" r="7.0"/><circle cx="1856.9" cy="949.1" r="7.0"/><circle cx="1857" cy="984.4" r="7.0"/><circle cx="1857.1" cy="993.7" r="7.0"/><circle cx="1857.2" cy="964.1" r="7.0"/><circle cx="1857.3" cy="993.3" r="7.0"/><circle cx="1857.4" cy="1004.4" r="7.0"/><circle cx="1857.5" cy="954.3" r="7.0"/><circle cx="1857.6" cy="981" r="7.0"/><circle cx="1857.7" cy="958.8" r="7.0"/><circle cx="1857.8" cy="982" r="7.0"/><circle cx="1857.9" cy="955.3" r="7.0"/><circle cx="1858" cy="978.9" r="7.0"/><circle cx="1858.1" cy="995.6" r="7.0"/><circle cx="1858.2" cy="1003.9" r="7.0"/><circle cx="1858.3" cy="973.8" r="7.0"/><circle cx="1858.4" cy="968.7" r="7.0"/><circle cx="1858.4" cy="953.6" r="7.0"/><circle cx="1858.5" cy="999.7" r="7.0"/><circle cx="1858.6" cy="969.7" r="7.0"/><circle cx="1858.7" cy="983.8" r="7.0"/><circle cx="1858.8" cy="976.3" r="7.0"/><circle cx="1858.9" cy="996.5" r="7.0"/><circle cx="1859" cy="988.7" r="7.0"/><circle cx="1859.1" cy="975.3" r="7.0"/><circle cx="1859.2" cy="952.4" r="7.0"/><circle cx="1859.3" cy="998.5" r="7.0"/><circle cx="1859.4" cy="976.9" r="7.0"/><circle cx="1859.5" cy="959.1" r="7.0"/><circle cx="1859.6" cy="949.9" r="7.0"/><circle cx="1859.7" cy="993.5" r="7.0"/><circle cx="1859.8" cy="997.5" r="7.0"/><circle cx="1859.9" cy="951.1" r="7.0"/><circle cx="1860" cy="949.2" r="7.0"/><circle cx="1860.1" cy="977.2" r="7.0"/><circle cx="1860.2" cy="1001.7" r="7.0"/><circle cx="1860.3" cy="951.8" r="7.0"/><circle cx="1860.4" cy="982.5" r="7.0"/><circle cx="1860.5" cy="952.9" r="7.0"/><circle cx="1860.6" cy="969.2" r="7.0"/><circle cx="1860.7" cy="957.4" r="7.0"/><circle cx="1860.8" cy="995.5" r="7.0"/><circle cx="1860.9" cy="959.5" r="7.0"/><circle cx="1860.9" cy="991.9" r="7.0"/><circle cx="1861" cy="981.4" r="7.0"/><circle cx="1861.1" cy="955.8" r="7.0"/><circle cx="1861.2" cy="956.8" r="7.0"/><circle cx="1861.3" cy="994.1" r="7.0"/><circle cx="1861.4" cy="992.1" r="7.0"/><circle cx="1861.5" cy="981.5" r="7.0"/><circle cx="1861.6" cy="974.6" r="7.0"/><circle cx="1861.7" cy="982.4" r="7.0"/><circle cx="1861.8" cy="997.5" r="7.0"/><circle cx="1861.9" cy="990.3" r="7.0"/><circle cx="1862" cy="962.3" r="7.0"/><circle cx="1862.1" cy="952.2" r="7.0"/><circle cx="1862.2" cy="1002.3" r="7.0"/><circle cx="1862.3" cy="971.7" r="7.0"/><circle cx="1862.4" cy="960.1" r="7.0"/><circle cx="1862.5" cy="1002.5" r="7.0"/><circle cx="1862.6" cy="955.2" r="7.0"/><circle cx="1862.7" cy="997.7" r="7.0"/><circle cx="1862.8" cy="969.2" r="7.0"/><circle cx="1862.9" cy="972.1" r="7.0"/><circle cx="1863" cy="967.4" r="7.0"/><circle cx="1863.1" cy="986.5" r="7.0"/><circle cx="1863.2" cy="979.6" r="7.0"/><circle cx="1863.3" cy="969.9" r="7.0"/><circle cx="1863.4" cy="979.2" r="7.0"/><circle cx="1863.4" cy="965.1" r="7.0"/><circle cx="1863.5" cy="977.8" r="7.0"/><circle cx="1863.6" cy="978.3" r="7.0"/><circle cx="1863.7" cy="1003.3" r="7.0"/><circle cx="1863.8" cy="967.2" r="7.0"/><circle cx="1863.9" cy="975" r="7.0"/><circle cx="1864" cy="990.4" r="7.0"/><circle cx="1864.1" cy="958.2" r="7.0"/><circle cx="1864.2" cy="957.1" r="7.0"/><circle cx="1864.3" cy="976.7" r="7.0"/><circle cx="1864.4" cy="993.7" r="7.0"/><circle cx="1864.5" cy="975.6" r="7.0"/><circle cx="1864.6" cy="998.1" r="7.0"/><circle cx="1864.7" cy="996.8" r="7.0"/><circle cx="1864.8" cy="978" r="7.0"/><circle cx="1864.9" cy="999" r="7.0"/><circle cx="1865" cy="977.2" r="7.0"/><circle cx="1865.1" cy="972.9" r="7.0"/><circle cx="1865.2" cy="1002.2" r="7.0"/><circle cx="1865.3" cy="964.8" r="7.0"/><circle cx="1865.4" cy="999.5" r="7.0"/><circle cx="1865.5" cy="958.5" r="7.0"/><circle cx="1865.6" cy="955.6" r="7.0"/><circle cx="1865.7" cy="972.3" r="7.0"/><circle cx="1865.8" cy="1001.3" r="7.0"/><circle cx="1865.9" cy="972.6" r="7.0"/><circle cx="1866" cy="980.6" r="7.0"/><circle cx="1866" cy="943.8" r="7.0"/><circle cx="1866.1" cy="996" r="7.0"/><circle cx="1866.2" cy="949.5" r="7.0"/><circle cx="1866.3" cy="940.3" r="7.0"/><circle cx="1866.4" cy="957.2" r="7.0"/><circle cx="1866.5" cy="951.7" r="7.0"/><circle cx="1866.6" cy="992.1" r="7.0"/><circle cx="1866.8" cy="972.4" r="7.0"/><circle cx="1866.9" cy="941.7" r="7.0"/><circle cx="1867" cy="944.2" r="7.0"/><circle cx="1867.1" cy="993.8" r="7.0"/><circle cx="1867.2" cy="952.3" r="7.0"/><circle cx="1867.3" cy="942.6" r="7.0"/><circle cx="1867.4" cy="1000.3" r="7.0"/><circle cx="1867.5" cy="981.1" r="7.0"/><circle cx="1867.6" cy="953.7" r="7.0"/><circle cx="1867.7" cy="994" r="7.0"/><circle cx="1867.8" cy="943.8" r="7.0"/><circle cx="1867.9" cy="986" r="7.0"/><circle cx="1868" cy="948.9" r="7.0"/><circle cx="1868.1" cy="994.8" r="7.0"/><circle cx="1868.2" cy="970.1" r="7.0"/><circle cx="1868.3" cy="941.1" r="7.0"/><circle cx="1868.4" cy="990.2" r="7.0"/><circle cx="1868.5" cy="986.4" r="7.0"/><circle cx="1868.5" cy="969.3" r="7.0"/><circle cx="1868.6" cy="982.3" r="7.0"/><circle cx="1868.7" cy="1002.1" r="7.0"/><circle cx="1868.8" cy="991.8" r="7.0"/><circle cx="1868.9" cy="993.2" r="7.0"/><circle cx="1869" cy="937.8" r="7.0"/><circle cx="1869.1" cy="955.9" r="7.0"/><circle cx="1869.2" cy="940.2" r="7.0"/><circle cx="1869.3" cy="992.5" r="7.0"/><circle cx="1869.4" cy="947.6" r="7.0"/><circle cx="1869.5" cy="996.3" r="7.0"/><circle cx="1869.6" cy="965.8" r="7.0"/><circle cx="1869.7" cy="957.8" r="7.0"/><circle cx="1869.8" cy="978.1" r="7.0"/><circle cx="1869.9" cy="939.8" r="7.0"/><circle cx="1870" cy="963.2" r="7.0"/><circle cx="1870.1" cy="961.2" r="7.0"/><circle cx="1870.2" cy="938.1" r="7.0"/><circle cx="1870.3" cy="996.8" r="7.0"/><circle cx="1870.4" cy="929.1" r="7.0"/><circle cx="1870.5" cy="956.5" r="7.0"/><circle cx="1870.6" cy="974.4" r="7.0"/><circle cx="1870.7" cy="943" r="7.0"/><circle cx="1870.8" cy="984.1" r="7.0"/><circle cx="1870.9" cy="904.8" r="7.0"/><circle cx="1871.4" cy="910.7" r="7.0"/><circle cx="1870" cy="910" r="7.0"/><circle cx="1869.7" cy="907.1" r="7.0"/><circle cx="1870.2" cy="906.4" r="7.0"/><circle cx="1871.8" cy="908.1" r="7.0"/><circle cx="1871.1" cy="908.6" r="7.0"/><circle cx="1869.6" cy="911.2" r="7.0"/><circle cx="1870" cy="913.8" r="7.0"/><circle cx="1870.6" cy="880.4" r="7.0"/><circle cx="1871.6" cy="881.3" r="7.0"/><circle cx="1870.1" cy="884.9" r="7.0"/><circle cx="1869.7" cy="880" r="7.0"/><circle cx="1870.4" cy="886.1" r="7.0"/><circle cx="1870.4" cy="885.1" r="7.0"/><circle cx="1870.9" cy="845.1" r="7.0"/><circle cx="1870.1" cy="842.5" r="7.0"/><circle cx="1870.7" cy="842.2" r="7.0"/><circle cx="1871.7" cy="840.7" r="7.0"/><circle cx="1870" cy="840" r="7.0"/><circle cx="1871.1" cy="841" r="7.0"/><circle cx="1871.4" cy="830.4" r="7.0"/><circle cx="1870.2" cy="833.8" r="7.0"/><circle cx="1871.1" cy="836.6" r="7.0"/><circle cx="1870.4" cy="827.6" r="7.0"/><circle cx="1870.6" cy="827" r="7.0"/><circle cx="1871.3" cy="824.9" r="7.0"/><circle cx="1870.8" cy="826.3" r="7.0"/><circle cx="1870.2" cy="823.7" r="7.0"/><circle cx="1871.4" cy="821.2" r="7.0"/><circle cx="1870.9" cy="821.5" r="7.0"/><circle cx="1870" cy="814.8" r="7.0"/><circle cx="1871" cy="815.1" r="7.0"/><circle cx="1871.1" cy="812.9" r="7.0"/><circle cx="1870" cy="810.7" r="7.0"/><circle cx="1870.3" cy="809.3" r="7.0"/><circle cx="1871.6" cy="811.2" r="7.0"/><circle cx="1871.2" cy="805.9" r="7.0"/><circle cx="1870.8" cy="787.2" r="7.0"/><circle cx="1870.8" cy="636" r="7.0"/><circle cx="1870.8" cy="169.9" r="7.0"/><circle cx="1872.3" cy="169.9" r="7.0"/><circle cx="1872.3" cy="973.6" r="7.0"/><circle cx="1637.5" cy="962.2" r="7.0"/><circle cx="1647.8" cy="991.2" r="7.0"/></g>
<g fill="none" stroke="#000" stroke-opacity="0.8" stroke-width="2.8"><circle cx="275.5" cy="839" r="7.0"/><circle cx="275.5" cy="855.6" r="7.0"/><circle cx="275.5" cy="921.8" r="7.0"/><circle cx="275.5" cy="952.9" r="7.0"/><circle cx="275.5" cy="964.3" r="7.0"/><circle cx="275.5" cy="974.7" r="7.0"/><circle cx="275.5" cy="984" r="7.0"/><circle cx="275.3" cy="991.2" r="7.0"/><circle cx="275.2" cy="993.9" r="7.0"/><circle cx="275.6" cy="996.6" r="7.0"/><circle cx="275.1" cy="999.3" r="7.0"/><circle cx="275.5" cy="1002" r="7.0"/><circle cx="276" cy="1002.5" r="7.0"/><circle cx="276.9" cy="1003.3" r="7.0"/><circle cx="278.3" cy="1003.9" r="7.0"/><circle cx="279.9" cy="1004.4" r="7.0"/><circle cx="281.8" cy="1004.6" r="7.0"/><circle cx="283.9" cy="1004.7" r="7.0"/><circle cx="291.4" cy="1004.7" r="7.0"/><circle cx="344.5" cy="1004.7" r="7.0"/><circle cx="383.7" cy="1004.7" r="7.0"/><circle cx="386.5" cy="1004.7" r="7.0"/><circle cx="389.3" cy="1004.7" r="7.0"/><circle cx="392.1" cy="1004.7" r="7.0"/><circle cx="394.9" cy="1004.7" r="7.0"/><circle cx="469.5" cy="1004.7" r="7.0"/><circle cx="499.4" cy="1004.7" r="7.0"/><circle cx="499.4" cy="820.3" r="7.0"/><circle cx="499.4" cy="912.5" r="7.0"/><circle cx="499.4" cy="943.6" r="7.0"/><circle cx="499.4" cy="959.1" r="7.0"/><circle cx="499.4" cy="987.1" r="7.0"/><circle cx="499.3" cy="994.3" r="7.0"/><circle cx="499" cy="996.9" r="7.0"/><circle cx="499.4" cy="999.5" r="7.0"/><circle cx="499" cy="1002.1" r="7.0"/><circle cx="499.7" cy="1002.3" r="7.0"/><circle cx="500.4" cy="1003" r="7.0"/><circle cx="501.3" cy="1003.5" r="7.0"/><circle cx="502.5" cy="1003.9" r="7.0"/><circle cx="503.8" cy="1004.3" r="7.0"/><circle cx="505.3" cy="1004.5" r="7.0"/><circle cx="506.9" cy="1004.7" r="7.0"/><circle cx="508.7" cy="1004.7" r="7.0"/><circle cx="514.3" cy="1004.7" r="7.0"/><circle cx="525.5" cy="1004.7" r="7.0"/><circle cx="533" cy="1004.7" r="7.0"/><circle cx="536.7" cy="1004.7" r="7.0"/><circle cx="544.2" cy="1004.7" r="7.0"/><circle cx="574" cy="1004.7" r="7.0"/><circle cx="617.9" cy="1004.7" r="7.0"/><circle cx="675.7" cy="1004.7" r="7.0"/><circle cx="724.5" cy="1004.7" r="7.0"/><circle cx="724.5" cy="812.1" r="7.0"/><circle cx="723.5" cy="840.6" r="7.0"/><circle cx="724.3" cy="843.8" r="7.0"/><circle cx="723.7" cy="837" r="7.0"/><circle cx="724.8" cy="842.6" r="7.0"/><circle cx="724.7" cy="835.9" r="7.0"/><circle cx="725.6" cy="841" r="7.0"/><circle cx="725.3" cy="844.3" r="7.0"/><circle cx="723.7" cy="842" r="7.0"/><circle cx="724.1" cy="843.6" r="7.0"/><circle cx="724.5" cy="891.8" r="7.0"/><circle cx="724.5" cy="917.7" r="7.0"/><circle cx="724.8" cy="969.5" r="7.0"/><circle cx="724.2" cy="972" r="7.0"/><circle cx="724.6" cy="974.5" r="7.0"/><circle cx="724.6" cy="977" r="7.0"/><circle cx="724.4" cy="979.5" r="7.0"/><circle cx="724.5" cy="982.1" r="7.0"/><circle cx="724.1" cy="984.6" r="7.0"/><circle cx="724.1" cy="987.1" r="7.0"/><circle cx="724.2" cy="989.6" r="7.0"/><circle cx="724.7" cy="992.1" r="7.0"/><circle cx="724.4" cy="994.6" r="7.0"/><circle cx="724.3" cy="997.2" r="7.0"/><circle cx="724.6" cy="999.7" r="7.0"/><circle cx="724.5" cy="1002.2" r="7.0"/><circle cx="725" cy="1002.1" r="7.0"/><circle cx="725.4" cy="1002.4" r="7.0"/><circle cx="726" cy="1002.6" r="7.0"/><circle cx="726.6" cy="1002.8" r="7.0"/><circle cx="727.3" cy="1003.1" r="7.0"/><circle cx="728" cy="1003.3" r="7.0"/><circle cx="728.9" cy="1003.4" r="7.0"/><circle cx="729.8" cy="1003.6" r="7.0"/><circle cx="730.8" cy="1003.8" r="7.0"/><circle cx="731.8" cy="1003.9" r="7.0"/><circle cx="732.9" cy="1004.1" r="7.0"/><circle cx="734" cy="1004.2" r="7.0"/><circle cx="735.2" cy="1004.3" r="7.0"/><circle cx="736.5" cy="1004.4" r="7.0"/><circle cx="737.8" cy="1004.5" r="7.0"/><circle cx="739.1" cy="1004.5" r="7.0"/><circle cx="740.5" cy="1004.6" r="7.0"/><circle cx="742" cy="1004.6" r="7.0"/><circle cx="743.5" cy="1004.7" r="7.0"/><circle cx="745" cy="1004.7" r="7.0"/><circle cx="746.6" cy="1004.7" r="7.0"/><circle cx="757.8" cy="1004.7" r="7.0"/><circle cx="792.3" cy="1004.7" r="7.0"/><circle cx="813.8" cy="1004.7" r="7.0"/><circle cx="881.4" cy="1004.7" r="7.0"/><circle cx="948.9" cy="1004.7" r="7.0"/><circle cx="948.9" cy="818.8" r="7.0"/><circle cx="949.5" cy="829" r="7.0"/><circle cx="948.3" cy="826.2" r="7.0"/><circle cx="948.9" cy="827.1" r="7.0"/><circle cx="949.4" cy="828.2" r="7.0"/><circle cx="949.9" cy="832.4" r="7.0"/><circle cx="948.7" cy="833.7" r="7.0"/><circle cx="948.1" cy="832.4" r="7.0"/><circle cx="947.8" cy="834.3" r="7.0"/><circle cx="949.5" cy="833" r="7.0"/><circle cx="949.7" cy="837" r="7.0"/><circle cx="949.3" cy="838.9" r="7.0"/><circle cx="949" cy="836.9" r="7.0"/><circle cx="949.6" cy="841.2" r="7.0"/><circle cx="948.8" cy="837.6" r="7.0"/><circle cx="947.9" cy="839.7" r="7.0"/><circle cx="949.2" cy="842.7" r="7.0"/><circle cx="949.6" cy="840.6" r="7.0"/><circle cx="948.6" cy="845.7" r="7.0"/><circle cx="948.9" cy="893.9" r="7.0"/><circle cx="947.8" cy="915.1" r="7.0"/><circle cx="948.1" cy="917" r="7.0"/><circle cx="947.9" cy="920.2" r="7.0"/><circle cx="948" cy="914.2" r="7.0"/><circle cx="948.6" cy="919" r="7.0"/><circle cx="947.9" cy="913.2" r="7.0"/><circle cx="949" cy="917.1" r="7.0"/><circle cx="949.6" cy="913.1" r="7.0"/><circle cx="948.4" cy="913.3" r="7.0"/><circle cx="948.6" cy="917.5" r="7.0"/><circle cx="949.9" cy="913.1" r="7.0"/><circle cx="948.3" cy="949.7" r="7.0"/><circle cx="949.1" cy="947.4" r="7.0"/><circle cx="947.8" cy="949.4" r="7.0"/><circle cx="948.6" cy="948" r="7.0"/><circle cx="949.9" cy="946.6" r="7.0"/><circle cx="948.9" cy="945.4" r="7.0"/><circle cx="949.3" cy="946.1" r="7.0"/><circle cx="949.8" cy="951.4" r="7.0"/><circle cx="949.7" cy="944.6" r="7.0"/><circle cx="949.1" cy="959.1" r="7.0"/><circle cx="948.8" cy="961.7" r="7.0"/><circle cx="948.8" cy="964.2" r="7.0"/><circle cx="948.5" cy="966.7" r="7.0"/><circle cx="949" cy="969.3" r="7.0"/><circle cx="948.5" cy="971.8" r="7.0"/><circle cx="948.5" cy="974.3" r="7.0"/><circle cx="948.6" cy="976.9" r="7.0"/><circle cx="948.6" cy="979.4" r="7.0"/><circle cx="948.7" cy="981.9" r="7.0"/><circle cx="948.4" cy="984.4" r="7.0"/><circle cx="948.4" cy="987" r="7.0"/><circle cx="948.5" cy="989.5" r="7.0"/><circle cx="948.5" cy="992" r="7.0"/><circle cx="948.7" cy="994.6" r="7.0"/><circle cx="948.4" cy="997.1" r="7.0"/><circle cx="949.2" cy="999.6" r="7.0"/><circle cx="949" cy="1002.2" r="7.0"/><circle cx="949.5" cy="1002.1" r="7.0"/><circle cx="949.9" cy="1002.3" r="7.0"/><circle cx="950.4" cy="1002.4" r="7.0"/><circle cx="950.9" cy="1002.6" r="7.0"/><circle cx="951.5" cy="1002.7" r="7.0"/><circle cx="952.1" cy="1002.9" r="7.0"/><circle cx="952.8" cy="1003" r="7.0"/><circle cx="953.5" cy="1003.2" r="7.0"/><circle cx="954.3" cy="1003.3" r="7.0"/><circle cx="955.1" cy="1003.4" r="7.0"/><circle cx="955.9" cy="1003.5" r="7.0"/><circle cx="956.8" cy="1003.6" r="7.0"/><circle cx="957.7" cy="1003.7" r="7.0"/><circle cx="958.7" cy="1003.8" r="7.0"/><circle cx="959.7" cy="1003.9" r="7.0"/><circle cx="960.7" cy="1004" r="7.0"/><circle cx="961.8" cy="1004.1" r="7.0"/><circle cx="962.9" cy="1004.2" r="7.0"/><circle cx="964.1" cy="1004.2" r="7.0"/><circle cx="965.2" cy="1004.3" r="7.0"/><circle cx="966.4" cy="1004.4" r="7.0"/><circle cx="967.7" cy="1004.4" r="7.0"/><circle cx="968.9" cy="1004.5" r="7.0"/><circle cx="970.2" cy="1004.5" r="7.0"/><circle cx="971.6" cy="1004.6" r="7.0"/><circle cx="972.9" cy="1004.6" r="7.0"/><circle cx="974.3" cy="1004.6" r="7.0"/><circle cx="975.7" cy="1004.7" r="7.0"/><circle cx="977.2" cy="1004.7" r="7.0"/><circle cx="978.7" cy="1004.7" r="7.0"/><circle cx="980.2" cy="1004.7" r="7.0"/><circle cx="981.7" cy="1004.7" r="7.0"/><circle cx="985.4" cy="1004.7" r="7.0"/><circle cx="992" cy="1004.7" r="7.0"/><circle cx="998.5" cy="1004.7" r="7.0"/><circle cx="1005" cy="1004.7" r="7.0"/><circle cx="1011.6" cy="1004.7" r="7.0"/><circle cx="1037.7" cy="1004.7" r="7.0"/><circle cx="1047" cy="1004.7" r="7.0"/><circle cx="1089" cy="1004.7" r="7.0"/><circle cx="1113.2" cy="1004.7" r="7.0"/><circle cx="1172.9" cy="1004.7" r="7.0"/><circle cx="1172.9" cy="810" r="7.0"/><circle cx="1172.3" cy="819.8" r="7.0"/><circle cx="1172.6" cy="818.3" r="7.0"/><circle cx="1173.6" cy="820" r="7.0"/><circle cx="1172.8" cy="816.3" r="7.0"/><circle cx="1171.9" cy="819.9" r="7.0"/><circle cx="1172.5" cy="822.7" r="7.0"/><circle cx="1173.6" cy="824.1" r="7.0"/><circle cx="1171.8" cy="824.9" r="7.0"/><circle cx="1172.9" cy="819.1" r="7.0"/><circle cx="1173" cy="827.6" r="7.0"/><circle cx="1172.9" cy="828.4" r="7.0"/><circle cx="1173.7" cy="821.5" r="7.0"/><circle cx="1172.3" cy="826.2" r="7.0"/><circle cx="1172.1" cy="828.6" r="7.0"/><circle cx="1172.9" cy="825.6" r="7.0"/><circle cx="1172.5" cy="909.9" r="7.0"/><circle cx="1173.6" cy="915.1" r="7.0"/><circle cx="1173.6" cy="908" r="7.0"/><circle cx="1173.6" cy="909.7" r="7.0"/><circle cx="1172.2" cy="910.3" r="7.0"/><circle cx="1172.5" cy="912.4" r="7.0"/><circle cx="1171.8" cy="916.9" r="7.0"/><circle cx="1172.3" cy="914.6" r="7.0"/><circle cx="1173.9" cy="910.7" r="7.0"/><circle cx="1173.8" cy="913" r="7.0"/><circle cx="1173.9" cy="908" r="7.0"/><circle cx="1172.2" cy="913.8" r="7.0"/><circle cx="1172.9" cy="929.1" r="7.0"/><circle cx="1172.2" cy="946.1" r="7.0"/><circle cx="1173.1" cy="946.3" r="7.0"/><circle cx="1173.6" cy="939.9" r="7.0"/><circle cx="1173.2" cy="943.8" r="7.0"/><circle cx="1171.9" cy="940.8" r="7.0"/><circle cx="1173.8" cy="942.1" r="7.0"/><circle cx="1172.9" cy="957.1" r="7.0"/><circle cx="1173.1" cy="961.2" r="7.0"/><circle cx="1173.1" cy="963.8" r="7.0"/><circle cx="1172.8" cy="966.3" r="7.0"/><circle cx="1172.6" cy="968.9" r="7.0"/><circle cx="1173.1" cy="971.4" r="7.0"/><circle cx="1172.7" cy="974" r="7.0"/><circle cx="1173.1" cy="976.6" r="7.0"/><circle cx="1173.3" cy="979.1" r="7.0"/><circle cx="1172.8" cy="981.7" r="7.0"/><circle cx="1172.8" cy="984.2" r="7.0"/><circle cx="1173.3" cy="986.8" r="7.0"/><circle cx="1173.1" cy="989.3" r="7.0"/><circle cx="1172.5" cy="991.9" r="7.0"/><circle cx="1172.5" cy="994.5" r="7.0"/><circle cx="1172.5" cy="997" r="7.0"/><circle cx="1173.2" cy="999.6" r="7.0"/><circle cx="1173.1" cy="1002.1" r="7.0"/><circle cx="1173.1" cy="975.2" r="7.0"/><circle cx="1184.5" cy="1004.3" r="7.0"/><circle cx="1174.3" cy="992.1" r="7.0"/><circle cx="1173.1" cy="1004.2" r="7.0"/><circle cx="1176.2" cy="993.7" r="7.0"/><circle cx="1175.1" cy="989.6" r="7.0"/><circle cx="1181.1" cy="1004.3" r="7.0"/><circle cx="1173.6" cy="996" r="7.0"/><circle cx="1173" cy="1001.7" r="7.0"/><circle cx="1173.5" cy="1002" r="7.0"/><circle cx="1173.8" cy="1002.2" r="7.0"/><circle cx="1174.2" cy="1002.3" r="7.0"/><circle cx="1174.7" cy="1002.5" r="7.0"/><circle cx="1175.2" cy="1002.6" r="7.0"/><circle cx="1175.8" cy="1002.7" r="7.0"/><circle cx="1176.4" cy="1002.8" r="7.0"/><circle cx="1177" cy="1003" r="7.0"/><circle cx="1177.7" cy="1003.1" r="7.0"/><circle cx="1178.4" cy="1003.2" r="7.0"/><circle cx="1179.2" cy="1003.3" r="7.0"/><circle cx="1180" cy="1003.4" r="7.0"/><circle cx="1180.8" cy="1003.5" r="7.0"/><circle cx="1181.7" cy="1003.6" r="7.0"/><circle cx="1182.6" cy="1003.7" r="7.0"/><circle cx="1183.5" cy="1003.8" r="7.0"/><circle cx="1184.5" cy="1003.8" r="7.0"/><circle cx="1185.5" cy="1003.9" r="7.0"/><circle cx="1186.5" cy="1004" r="7.0"/><circle cx="1187.6" cy="1004.1" r="7.0"/><circle cx="1188.7" cy="1004.1" r="7.0"/><circle cx="1189.8" cy="1004.2" r="7.0"/><circle cx="1190.9" cy="1004.3" r="7.0"/><circle cx="1192.1" cy="1004.3" r="7.0"/><circle cx="1193.3" cy="1004.4" r="7.0"/><circle cx="1194.5" cy="1004.4" r="7.0"/><circle cx="1195.8" cy="1004.5" r="7.0"/><circle cx="1197.1" cy="1004.5" r="7.0"/><circle cx="1198.4" cy="1004.5" r="7.0"/><circle cx="1199.7" cy="1004.6" r="7.0"/><circle cx="1201" cy="1004.6" r="7.0"/><circle cx="1202.4" cy="1004.6" r="7.0"/><circle cx="1203.8" cy="1004.7" r="7.0"/><circle cx="1205.3" cy="1004.7" r="7.0"/><circle cx="1206.7" cy="1004.7" r="7.0"/><circle cx="1208.2" cy="1004.7" r="7.0"/><circle cx="1209.7" cy="1004.7" r="7.0"/><circle cx="1211.2" cy="1004.7" r="7.0"/><circle cx="1215.9" cy="1004.7" r="7.0"/><circle cx="1222.4" cy="1004.7" r="7.0"/><circle cx="1228.9" cy="1004.7" r="7.0"/><circle cx="1238.3" cy="1004.7" r="7.0"/><circle cx="1247.6" cy="1004.7" r="7.0"/><circle cx="1275.6" cy="1004.7" r="7.0"/><circle cx="1284.9" cy="1004.7" r="7.0"/><circle cx="1318.5" cy="1004.7" r="7.0"/><circle cx="1325.9" cy="1004.7" r="7.0"/><circle cx="1358.6" cy="1004.7" r="7.0"/><circle cx="1397.5" cy="1004.7" r="7.0"/><circle cx="1397.5" cy="745.8" r="7.0"/><circle cx="1397.5" cy="797.6" r="7.0"/><circle cx="1397.3" cy="834" r="7.0"/><circle cx="1398.4" cy="835.2" r="7.0"/><circle cx="1397.4" cy="833.1" r="7.0"/><circle cx="1398.4" cy="831" r="7.0"/><circle cx="1398.4" cy="832.5" r="7.0"/><circle cx="1397.6" cy="831.7" r="7.0"/><circle cx="1396.4" cy="831.5" r="7.0"/><circle cx="1396.8" cy="832.3" r="7.0"/><circle cx="1398.2" cy="836.4" r="7.0"/><circle cx="1397.5" cy="875.2" r="7.0"/><circle cx="1397.4" cy="882.8" r="7.0"/><circle cx="1397.6" cy="878.8" r="7.0"/><circle cx="1397.5" cy="881.7" r="7.0"/><circle cx="1398.1" cy="885.2" r="7.0"/><circle cx="1397.6" cy="888.5" r="7.0"/><circle cx="1397" cy="887.4" r="7.0"/><circle cx="1397.5" cy="888.8" r="7.0"/><circle cx="1398.1" cy="890.3" r="7.0"/><circle cx="1397.4" cy="887.8" r="7.0"/><circle cx="1397.5" cy="895.1" r="7.0"/><circle cx="1397.9" cy="895.9" r="7.0"/><circle cx="1397.6" cy="896.3" r="7.0"/><circle cx="1398.5" cy="901.3" r="7.0"/><circle cx="1398.3" cy="899.7" r="7.0"/><circle cx="1397" cy="897.9" r="7.0"/><circle cx="1398.5" cy="905.9" r="7.0"/><circle cx="1396.7" cy="903.8" r="7.0"/><circle cx="1397.4" cy="909.1" r="7.0"/><circle cx="1396.9" cy="914.6" r="7.0"/><circle cx="1397.9" cy="914.6" r="7.0"/><circle cx="1398.4" cy="909.4" r="7.0"/><circle cx="1398" cy="919.2" r="7.0"/><circle cx="1396.7" cy="915.5" r="7.0"/><circle cx="1398.5" cy="913.9" r="7.0"/><circle cx="1398.5" cy="923.9" r="7.0"/><circle cx="1397.5" cy="922.6" r="7.0"/><circle cx="1398.2" cy="918.3" r="7.0"/><circle cx="1397.3" cy="929.5" r="7.0"/><circle cx="1397.1" cy="926.9" r="7.0"/><circle cx="1397.1" cy="929.2" r="7.0"/><circle cx="1397.7" cy="923.9" r="7.0"/><circle cx="1397.1" cy="925.3" r="7.0"/><circle cx="1397.5" cy="926.6" r="7.0"/><circle cx="1397.4" cy="928" r="7.0"/><circle cx="1397" cy="929.3" r="7.0"/><circle cx="1397.3" cy="930.6" r="7.0"/><circle cx="1397.6" cy="932" r="7.0"/><circle cx="1397.5" cy="933.3" r="7.0"/><circle cx="1397.1" cy="934.7" r="7.0"/><circle cx="1398" cy="936" r="7.0"/><circle cx="1397.8" cy="937.4" r="7.0"/><circle cx="1397.9" cy="938.7" r="7.0"/><circle cx="1397.1" cy="940.1" r="7.0"/><circle cx="1397.3" cy="941.4" r="7.0"/><circle cx="1397.1" cy="942.8" r="7.0"/><circle cx="1397.8" cy="944.1" r="7.0"/><circle cx="1397.3" cy="945.5" r="7.0"/><circle cx="1397.2" cy="946.8" r="7.0"/><circle cx="1397.4" cy="948.2" r="7.0"/><circle cx="1397.9" cy="949.5" r="7.0"/><circle cx="1397.8" cy="950.8" r="7.0"/><circle cx="1397.3" cy="952.2" r="7.0"/><circle cx="1397.2" cy="953.5" r="7.0"/><circle cx="1397.9" cy="954.9" r="7.0"/><circle cx="1397.6" cy="956.2" r="7.0"/><circle cx="1397.7" cy="957.6" r="7.0"/><circle cx="1397.1" cy="958.9" r="7.0"/><circle cx="1397.1" cy="960.3" r="7.0"/><circle cx="1397.7" cy="961.6" r="7.0"/><circle cx="1397.4" cy="963" r="7.0"/><circle cx="1397.1" cy="964.3" r="7.0"/><circle cx="1397.9" cy="965.7" r="7.0"/><circle cx="1397.6" cy="967" r="7.0"/><circle cx="1397.8" cy="968.3" r="7.0"/><circle cx="1397.1" cy="969.7" r="7.0"/><circle cx="1397.8" cy="971" r="7.0"/><circle cx="1397.1" cy="972.4" r="7.0"/><circle cx="1397.8" cy="973.7" r="7.0"/><circle cx="1397.5" cy="975.1" r="7.0"/><circle cx="1397.3" cy="976.4" r="7.0"/><circle cx="1397.5" cy="977.8" r="7.0"/><circle cx="1397.9" cy="979.1" r="7.0"/><circle cx="1397.3" cy="980.5" r="7.0"/><circle cx="1397.2" cy="981.8" r="7.0"/><circle cx="1397.5" cy="983.2" r="7.0"/><circle cx="1397.3" cy="984.5" r="7.0"/><circle cx="1397.1" cy="985.9" r="7.0"/><circle cx="1397.2" cy="987.2" r="7.0"/><circle cx="1397.1" cy="988.5" r="7.0"/><circle cx="1397.2" cy="989.9" r="7.0"/><circle cx="1397.3" cy="991.2" r="7.0"/><circle cx="1397.3" cy="992.6" r="7.0"/><circle cx="1397.7" cy="993.9" r="7.0"/><circle cx="1397.3" cy="995.3" r="7.0"/><circle cx="1397.5" cy="996.6" r="7.0"/><circle cx="1397.2" cy="998" r="7.0"/><circle cx="1397.4" cy="999.3" r="7.0"/><circle cx="1397" cy="1000.7" r="7.0"/><circle cx="1397.3" cy="1002" r="7.0"/><circle cx="1397" cy="1003.4" r="7.0"/><circle cx="1404" cy="1000.8" r="7.0"/><circle cx="1397.9" cy="975.2" r="7.0"/><circle cx="1408.1" cy="1004.5" r="7.0"/><circle cx="1405.6" cy="1003" r="7.0"/><circle cx="1400.5" cy="983.7" r="7.0"/><circle cx="1399.4" cy="985.8" r="7.0"/><circle cx="1403.2" cy="995.5" r="7.0"/><circle cx="1398.9" cy="968.3" r="7.0"/><circle cx="1403.6" cy="999.4" r="7.0"/><circle cx="1399.5" cy="992.3" r="7.0"/><circle cx="1398.3" cy="995.8" r="7.0"/><circle cx="1406.7" cy="1002.9" r="7.0"/><circle cx="1398.5" cy="992.2" r="7.0"/><circle cx="1398.5" cy="981.7" r="7.0"/><circle cx="1397.8" cy="975.6" r="7.0"/><circle cx="1398.3" cy="952.9" r="7.0"/><circle cx="1409" cy="1004" r="7.0"/><circle cx="1398.2" cy="950.5" r="7.0"/><circle cx="1398.7" cy="987.6" r="7.0"/><circle cx="1397.5" cy="977" r="7.0"/><circle cx="1400.2" cy="990.9" r="7.0"/><circle cx="1398" cy="973.9" r="7.0"/><circle cx="1397.5" cy="985.5" r="7.0"/><circle cx="1397.5" cy="1003.1" r="7.0"/><circle cx="1398.6" cy="993.4" r="7.0"/><circle cx="1401.7" cy="996" r="7.0"/><circle cx="1397.9" cy="1001.9" r="7.0"/><circle cx="1398.3" cy="1002.1" r="7.0"/><circle cx="1398.7" cy="1002.3" r="7.0"/><circle cx="1399.2" cy="1002.4" r="7.0"/><circle cx="1399.8" cy="1002.6" r="7.0"/><circle cx="1400.4" cy="1002.7" r="7.0"/><circle cx="1401.1" cy="1002.9" r="7.0"/><circle cx="1401.9" cy="1003" r="7.0"/><circle cx="1402.7" cy="1003.2" r="7.0"/><circle cx="1403.5" cy="1003.3" r="7.0"/><circle cx="1404.4" cy="1003.4" r="7.0"/><circle cx="1405.4" cy="1003.5" r="7.0"/><circle cx="1406.4" cy="1003.6" r="7.0"/><circle cx="1407.4" cy="1003.7" r="7.0"/><circle cx="1408.5" cy="1003.8" r="7.0"/><circle cx="1409.6" cy="1003.9" r="7.0"/><circle cx="1410.8" cy="1004" r="7.0"/><circle cx="1411.9" cy="1004.1" r="7.0"/><circle cx="1413.2" cy="1004.2" r="7.0"/><circle cx="1414.5" cy="1004.2" r="7.0"/><circle cx="1415.8" cy="1004.3" r="7.0"/><circle cx="1417.1" cy="1004.4" r="7.0"/><circle cx="1418.5" cy="1004.4" r="7.0"/><circle cx="1419.9" cy="1004.5" r="7.0"/><circle cx="1421.4" cy="1004.5" r="7.0"/><circle cx="1422.9" cy="1004.6" r="7.0"/><circle cx="1424.4" cy="1004.6" r="7.0"/><circle cx="1425.9" cy="1004.6" r="7.0"/><circle cx="1427.5" cy="1004.7" r="7.0"/><circle cx="1429.1" cy="1004.7" r="7.0"/><circle cx="1430.8" cy="1004.7" r="7.0"/><circle cx="1432.5" cy="1004.7" r="7.0"/><circle cx="1434.2" cy="1004.7" r="7.0"/><circle cx="1437.9" cy="1004.7" r="7.0"/><circle cx="1442.7" cy="1004.7" r="7.0"/><circle cx="1447.6" cy="1004.7" r="7.0"/><circle cx="1452.4" cy="1004.7" r="7.0"/><circle cx="1457.3" cy="1004.7" r="7.0"/><circle cx="1462.1" cy="1004.7" r="7.0"/><circle cx="1467" cy="1004.7" r="7.0"/><circle cx="1471.9" cy="1004.7" r="7.0"/><circle cx="1476.7" cy="1004.7" r="7.0"/><circle cx="1481.6" cy="1004.7" r="7.0"/><circle cx="1486.4" cy="1004.7" r="7.0"/><circle cx="1491.3" cy="1004.7" r="7.0"/><circle cx="1496.1" cy="1004.7" r="7.0"/><circle cx="1501" cy="1004.7" r="7.0"/><circle cx="1505.8" cy="1004.7" r="7.0"/><circle cx="1510.7" cy="1004.7" r="7.0"/><circle cx="1515.5" cy="1004.7" r="7.0"/><circle cx="1520.4" cy="1004.7" r="7.0"/><circle cx="1525.2" cy="1004.7" r="7.0"/><circle cx="1530.1" cy="1004.7" r="7.0"/><circle cx="1534.9" cy="1004.7" r="7.0"/><circle cx="1539.8" cy="1004.7" r="7.0"/><circle cx="1559.2" cy="1004.7" r="7.0"/><circle cx="1581.6" cy="1004.7" r="7.0"/><circle cx="1592.8" cy="1004.7" r="7.0"/><circle cx="1621.5" cy="1004.7" r="7.0"/><circle cx="1621.5" cy="680.5" r="7.0"/><circle cx="1621.5" cy="726.1" r="7.0"/><circle cx="1621.8" cy="814.9" r="7.0"/><circle cx="1622.3" cy="815.2" r="7.0"/><circle cx="1621.1" cy="818.3" r="7.0"/><circle cx="1620.7" cy="812.7" r="7.0"/><circle cx="1622.2" cy="821.5" r="7.0"/><circle cx="1621.8" cy="828.9" r="7.0"/><circle cx="1622.2" cy="830" r="7.0"/><circle cx="1621.5" cy="834.4" r="7.0"/><circle cx="1622.2" cy="834.6" r="7.0"/><circle cx="1622.2" cy="832.4" r="7.0"/><circle cx="1622.4" cy="834" r="7.0"/><circle cx="1621.9" cy="836.1" r="7.0"/><circle cx="1620.4" cy="839.4" r="7.0"/><circle cx="1621.2" cy="840.1" r="7.0"/><circle cx="1622.2" cy="843.1" r="7.0"/><circle cx="1621.8" cy="839.9" r="7.0"/><circle cx="1621.9" cy="839.4" r="7.0"/><circle cx="1620.4" cy="843.2" r="7.0"/><circle cx="1622" cy="841" r="7.0"/><circle cx="1621.6" cy="843.1" r="7.0"/><circle cx="1620.5" cy="848.2" r="7.0"/><circle cx="1620.9" cy="847.6" r="7.0"/><circle cx="1621" cy="852.4" r="7.0"/><circle cx="1620.8" cy="858" r="7.0"/><circle cx="1622.6" cy="858" r="7.0"/><circle cx="1621.2" cy="859.7" r="7.0"/><circle cx="1621.9" cy="870.2" r="7.0"/><circle cx="1621.8" cy="868.1" r="7.0"/><circle cx="1620.5" cy="869" r="7.0"/><circle cx="1620.9" cy="883" r="7.0"/><circle cx="1621.1" cy="878.7" r="7.0"/><circle cx="1620.4" cy="879.9" r="7.0"/><circle cx="1621" cy="889.7" r="7.0"/><circle cx="1621.9" cy="884" r="7.0"/><circle cx="1621" cy="884" r="7.0"/><circle cx="1621.4" cy="885.4" r="7.0"/><circle cx="1620.6" cy="885.9" r="7.0"/><circle cx="1620.8" cy="881.9" r="7.0"/><circle cx="1622.5" cy="895.6" r="7.0"/><circle cx="1621.4" cy="902.6" r="7.0"/><circle cx="1622.5" cy="896.7" r="7.0"/><circle cx="1621" cy="903.1" r="7.0"/><circle cx="1622.5" cy="904.8" r="7.0"/><circle cx="1621.7" cy="904.8" r="7.0"/><circle cx="1621.5" cy="908.9" r="7.0"/><circle cx="1620.7" cy="903" r="7.0"/><circle cx="1621.5" cy="904" r="7.0"/><circle cx="1621.9" cy="907.1" r="7.0"/><circle cx="1622.4" cy="911.9" r="7.0"/><circle cx="1620.4" cy="910" r="7.0"/><circle cx="1621.5" cy="917.2" r="7.0"/><circle cx="1621" cy="913.9" r="7.0"/><circle cx="1621.1" cy="916.2" r="7.0"/><circle cx="1622.2" cy="918.5" r="7.0"/><circle cx="1622" cy="920.8" r="7.0"/><circle cx="1620.6" cy="914.7" r="7.0"/><circle cx="1622" cy="917.7" r="7.0"/><circle cx="1621" cy="917.9" r="7.0"/><circle cx="1621.2" cy="921.7" r="7.0"/><circle cx="1621.7" cy="923.4" r="7.0"/><circle cx="1621.3" cy="928" r="7.0"/><circle cx="1620.5" cy="928.7" r="7.0"/><circle cx="1622.2" cy="933.6" r="7.0"/><circle cx="1622.5" cy="932.3" r="7.0"/><circle cx="1621" cy="932.5" r="7.0"/><circle cx="1620.8" cy="934.3" r="7.0"/><circle cx="1622.5" cy="935.3" r="7.0"/><circle cx="1622.2" cy="931.6" r="7.0"/><circle cx="1622.4" cy="937.2" r="7.0"/><circle cx="1621.6" cy="934.9" r="7.0"/><circle cx="1620.5" cy="936.5" r="7.0"/><circle cx="1621.4" cy="940.1" r="7.0"/><circle cx="1621.8" cy="940" r="7.0"/><circle cx="1620.5" cy="943.4" r="7.0"/><circle cx="1620.7" cy="942.4" r="7.0"/><circle cx="1621.1" cy="945.7" r="7.0"/><circle cx="1622" cy="947" r="7.0"/><circle cx="1621" cy="945.8" r="7.0"/><circle cx="1621" cy="948.1" r="7.0"/><circle cx="1621.3" cy="948.8" r="7.0"/><circle cx="1620.7" cy="955.3" r="7.0"/><circle cx="1622.4" cy="955" r="7.0"/><circle cx="1620.9" cy="952.9" r="7.0"/><circle cx="1621.9" cy="950.8" r="7.0"/><circle cx="1622" cy="951.9" r="7.0"/><circle cx="1621.4" cy="953" r="7.0"/><circle cx="1621.2" cy="954.1" r="7.0"/><circle cx="1621.2" cy="955.2" r="7.0"/><circle cx="1621.1" cy="956.2" r="7.0"/><circle cx="1621.3" cy="957.3" r="7.0"/><circle cx="1621.1" cy="958.4" r="7.0"/><circle cx="1621.2" cy="959.5" r="7.0"/><circle cx="1621.3" cy="960.5" r="7.0"/><circle cx="1621.6" cy="961.6" r="7.0"/><circle cx="1621.8" cy="962.7" r="7.0"/><circle cx="1621.7" cy="963.8" r="7.0"/><circle cx="1621.4" cy="964.8" r="7.0"/><circle cx="1621.4" cy="965.9" r="7.0"/><circle cx="1621.5" cy="967" r="7.0"/><circle cx="1621.4" cy="968.1" r="7.0"/><circle cx="1621.3" cy="969.2" r="7.0"/><circle cx="1621.1" cy="970.2" r="7.0"/><circle cx="1621.3" cy="971.3" r="7.0"/><circle cx="1621.9" cy="972.4" r="7.0"/><circle cx="1621.1" cy="973.5" r="7.0"/><circle cx="1621.5" cy="974.5" r="7.0"/><circle cx="1621.6" cy="975.6" r="7.0"/><circle cx="1621.8" cy="976.7" r="7.0"/><circle cx="1621.2" cy="977.8" r="7.0"/><circle cx="1621.3" cy="978.8" r="7.0"/><circle cx="1621.3" cy="979.9" r="7.0"/><circle cx="1621.4" cy="981" r="7.0"/><circle cx="1621.4" cy="982.1" r="7.0"/><circle cx="1621.9" cy="983.2" r="7.0"/><circle cx="1621.8" cy="984.2" r="7.0"/><circle cx="1621.8" cy="985.3" r="7.0"/><circle cx="1621" cy="986.4" r="7.0"/><circle cx="1621.1" cy="987.5" r="7.0"/><circle cx="1621.7" cy="988.5" r="7.0"/><circle cx="1621.9" cy="989.6" r="7.0"/><circle cx="1621.5" cy="990.7" r="7.0"/><circle cx="1621.6" cy="991.8" r="7.0"/><circle cx="1621" cy="992.9" r="7.0"/><circle cx="1621.4" cy="993.9" r="7.0"/><circle cx="1621.9" cy="995" r="7.0"/><circle cx="1621.8" cy="996.1" r="7.0"/><circle cx="1621.8" cy="997.2" r="7.0"/><circle cx="1621.9" cy="998.2" r="7.0"/><circle cx="1621.3" cy="999.3" r="7.0"/><circle cx="1621.1" cy="1000.4" r="7.0"/><circle cx="1621.2" cy="1001.5" r="7.0"/><circle cx="1621.5" cy="1002.5" r="7.0"/><circle cx="1621.7" cy="1003.6" r="7.0"/><circle cx="1632.2" cy="1003.9" r="7.0"/><circle cx="1626.6" cy="998.7" r="7.0"/><circle cx="1624" cy="993.9" r="7.0"/><circle cx="1622.1" cy="969.4" r="7.0"/><circle cx="1626.5" cy="1002.3" r="7.0"/><circle cx="1621.7" cy="993.3" r="7.0"/><circle cx="1626.4" cy="998.8" r="7.0"/><circle cx="1621.6" cy="1001.5" r="7.0"/><circle cx="1624.8" cy="996.1" r="7.0"/><circle cx="1623.3" cy="999.1" r="7.0"/><circle cx="1625.9" cy="1004.6" r="7.0"/><circle cx="1622.6" cy="989.6" r="7.0"/><circle cx="1632.6" cy="1004.1" r="7.0"/><circle cx="1631" cy="1003.9" r="7.0"/><circle cx="1622.2" cy="995.3" r="7.0"/><circle cx="1622.6" cy="1004" r="7.0"/><circle cx="1624.5" cy="993.6" r="7.0"/><circle cx="1626.9" cy="998.2" r="7.0"/><circle cx="1622.1" cy="1003.4" r="7.0"/><circle cx="1622.9" cy="992.3" r="7.0"/><circle cx="1627.1" cy="1003.4" r="7.0"/><circle cx="1629.2" cy="1002.4" r="7.0"/><circle cx="1624.6" cy="1001.4" r="7.0"/><circle cx="1632.9" cy="1004.4" r="7.0"/><circle cx="1629.6" cy="1004.1" r="7.0"/><circle cx="1622.1" cy="974.9" r="7.0"/><circle cx="1622.5" cy="973" r="7.0"/><circle cx="1622.1" cy="988.4" r="7.0"/><circle cx="1621.7" cy="987.3" r="7.0"/><circle cx="1622" cy="965.9" r="7.0"/><circle cx="1621.5" cy="985.9" r="7.0"/><circle cx="1631.3" cy="1003.4" r="7.0"/><circle cx="1628" cy="1000" r="7.0"/><circle cx="1632" cy="1004.3" r="7.0"/><circle cx="1621.8" cy="1001.9" r="7.0"/><circle cx="1622.4" cy="1002.2" r="7.0"/><circle cx="1622.8" cy="1002.3" r="7.0"/><circle cx="1623.3" cy="1002.5" r="7.0"/><circle cx="1623.8" cy="1002.6" r="7.0"/><circle cx="1624.3" cy="1002.7" r="7.0"/><circle cx="1624.9" cy="1002.8" r="7.0"/><circle cx="1625.6" cy="1003" r="7.0"/><circle cx="1626.2" cy="1003.1" r="7.0"/><circle cx="1627" cy="1003.2" r="7.0"/><circle cx="1627.7" cy="1003.3" r="7.0"/><circle cx="1628.5" cy="1003.4" r="7.0"/><circle cx="1629.3" cy="1003.5" r="7.0"/><circle cx="1630.1" cy="1003.6" r="7.0"/><circle cx="1631" cy="1003.7" r="7.0"/><circle cx="1632.9" cy="1003.8" r="7.0"/><circle cx="1633.9" cy="1003.9" r="7.0"/><circle cx="1634.9" cy="1004" r="7.0"/><circle cx="1635.9" cy="1004.1" r="7.0"/><circle cx="1637" cy="1004.1" r="7.0"/><circle cx="1638" cy="1004.2" r="7.0"/><circle cx="1639.2" cy="1004.3" r="7.0"/><circle cx="1640.3" cy="1004.3" r="7.0"/><circle cx="1641.5" cy="1004.4" r="7.0"/><circle cx="1642.7" cy="1004.4" r="7.0"/><circle cx="1643.9" cy="1004.5" r="7.0"/><circle cx="1645.2" cy="1004.5" r="7.0"/><circle cx="1646.4" cy="1004.5" r="7.0"/><circle cx="1647.7" cy="1004.6" r="7.0"/><circle cx="1649.1" cy="1004.6" r="7.0"/><circle cx="1650.4" cy="1004.6" r="7.0"/><circle cx="1651.8" cy="1004.7" r="7.0"/><circle cx="1653.2" cy="1004.7" r="7.0"/><circle cx="1654.6" cy="1004.7" r="7.0"/><circle cx="1656" cy="1004.7" r="7.0"/><circle cx="1657.5" cy="1004.7" r="7.0"/><circle cx="1659" cy="1004.7" r="7.0"/><circle cx="1662.7" cy="1004.7" r="7.0"/><circle cx="1667.4" cy="1004.7" r="7.0"/><circle cx="1672.1" cy="1004.7" r="7.0"/><circle cx="1676.7" cy="1004.7" r="7.0"/><circle cx="1681.4" cy="1004.7" r="7.0"/><circle cx="1686" cy="1004.7" r="7.0"/><circle cx="1690.7" cy="1004.7" r="7.0"/><circle cx="1695.4" cy="1004.7" r="7.0"/><circle cx="1700" cy="1004.7" r="7.0"/><circle cx="1704.7" cy="1004.7" r="7.0"/><circle cx="1709.4" cy="1004.7" r="7.0"/><circle cx="1714" cy="1004.7" r="7.0"/><circle cx="1718.7" cy="1004.7" r="7.0"/><circle cx="1723.4" cy="1004.7" r="7.0"/><circle cx="1728" cy="1004.7" r="7.0"/><circle cx="1740.2" cy="1004.7" r="7.0"/><circle cx="1743.9" cy="1004.7" r="7.0"/><circle cx="1747.6" cy="1004.7" r="7.0"/><circle cx="1750.4" cy="1004.7" r="7.0"/><circle cx="1761.6" cy="1004.7" r="7.0"/><circle cx="1765.3" cy="1004.7" r="7.0"/><circle cx="1769.1" cy="1004.7" r="7.0"/><circle cx="1772.8" cy="1004.7" r="7.0"/><circle cx="1795.2" cy="1004.7" r="7.0"/><circle cx="1818.5" cy="1004.7" r="7.0"/><circle cx="1845.4" cy="1004.7" r="7.0"/><circle cx="1845.4" cy="450.6" r="7.0"/><circle cx="1845.4" cy="591.5" r="7.0"/><circle cx="1845.4" cy="622.5" r="7.0"/><circle cx="1845.4" cy="633.9" r="7.0"/><circle cx="1845.4" cy="661.9" r="7.0"/><circle cx="1845.4" cy="671.2" r="7.0"/><circle cx="1845.4" cy="683.6" r="7.0"/><circle cx="1845.4" cy="695" r="7.0"/><circle cx="1845.4" cy="745.8" r="7.0"/><circle cx="1845.4" cy="796.5" r="7.0"/><circle cx="1846.4" cy="810.2" r="7.0"/><circle cx="1844.3" cy="806.1" r="7.0"/><circle cx="1845.1" cy="806.7" r="7.0"/><circle cx="1845" cy="812.7" r="7.0"/><circle cx="1844.3" cy="814.2" r="7.0"/><circle cx="1845.1" cy="813.4" r="7.0"/><circle cx="1844.5" cy="812.4" r="7.0"/><circle cx="1846.1" cy="816.7" r="7.0"/><circle cx="1845.2" cy="817.2" r="7.0"/><circle cx="1845.3" cy="822.8" r="7.0"/><circle cx="1846.3" cy="820.5" r="7.0"/><circle cx="1845.1" cy="825.7" r="7.0"/><circle cx="1844.3" cy="820.6" r="7.0"/><circle cx="1846.1" cy="824.1" r="7.0"/><circle cx="1845.4" cy="838" r="7.0"/><circle cx="1845.4" cy="847.3" r="7.0"/><circle cx="1845.4" cy="857.6" r="7.0"/><circle cx="1845.4" cy="868" r="7.0"/><circle cx="1845.4" cy="879.4" r="7.0"/><circle cx="1845.4" cy="899.1" r="7.0"/><circle cx="1845.4" cy="911.5" r="7.0"/><circle cx="1844.4" cy="919.9" r="7.0"/><circle cx="1844.4" cy="925.2" r="7.0"/><circle cx="1844.8" cy="918.8" r="7.0"/><circle cx="1846.3" cy="926.3" r="7.0"/><circle cx="1844.9" cy="929.2" r="7.0"/><circle cx="1845.6" cy="924.7" r="7.0"/><circle cx="1845.9" cy="936" r="7.0"/><circle cx="1844.9" cy="935.6" r="7.0"/><circle cx="1846" cy="937.9" r="7.0"/><circle cx="1845.7" cy="937.5" r="7.0"/><circle cx="1844.3" cy="937.3" r="7.0"/><circle cx="1845.3" cy="942.4" r="7.0"/><circle cx="1845.9" cy="938.8" r="7.0"/><circle cx="1845.9" cy="939.4" r="7.0"/><circle cx="1846" cy="978.4" r="7.0"/><circle cx="1846.1" cy="987.7" r="7.0"/><circle cx="1846.2" cy="975.7" r="7.0"/><circle cx="1846.3" cy="971.6" r="7.0"/><circle cx="1846.4" cy="942.8" r="7.0"/><circle cx="1846.5" cy="992.6" r="7.0"/><circle cx="1846.6" cy="951.7" r="7.0"/><circle cx="1846.7" cy="956.1" r="7.0"/><circle cx="1846.8" cy="950.8" r="7.0"/><circle cx="1846.9" cy="954.3" r="7.0"/><circle cx="1847" cy="965.3" r="7.0"/><circle cx="1847.1" cy="983.5" r="7.0"/><circle cx="1847.2" cy="984.1" r="7.0"/><circle cx="1847.3" cy="981.5" r="7.0"/><circle cx="1847.4" cy="954.8" r="7.0"/><circle cx="1847.5" cy="999.7" r="7.0"/><circle cx="1847.6" cy="992.2" r="7.0"/><circle cx="1847.7" cy="957.2" r="7.0"/><circle cx="1847.8" cy="989.2" r="7.0"/><circle cx="1847.9" cy="1000.6" r="7.0"/><circle cx="1848" cy="1002.6" r="7.0"/><circle cx="1848.1" cy="970.3" r="7.0"/><circle cx="1848.2" cy="984.5" r="7.0"/><circle cx="1848.3" cy="944.2" r="7.0"/><circle cx="1848.4" cy="950.3" r="7.0"/><circle cx="1848.5" cy="988.5" r="7.0"/><circle cx="1848.6" cy="999.6" r="7.0"/><circle cx="1848.7" cy="998.8" r="7.0"/><circle cx="1848.8" cy="974.5" r="7.0"/><circle cx="1848.9" cy="961.8" r="7.0"/><circle cx="1849" cy="977.8" r="7.0"/><circle cx="1849.1" cy="990.6" r="7.0"/><circle cx="1849.2" cy="979.7" r="7.0"/><circle cx="1849.3" cy="967.6" r="7.0"/><circle cx="1849.4" cy="964.5" r="7.0"/><circle cx="1849.5" cy="960.2" r="7.0"/><circle cx="1849.6" cy="954.4" r="7.0"/><circle cx="1849.7" cy="965.3" r="7.0"/><circle cx="1849.8" cy="997.5" r="7.0"/><circle cx="1849.9" cy="955.1" r="7.0"/><circle cx="1850" cy="987.4" r="7.0"/><circle cx="1850.1" cy="971.4" r="7.0"/><circle cx="1850.2" cy="982.9" r="7.0"/><circle cx="1850.3" cy="961.6" r="7.0"/><circle cx="1850.4" cy="993.1" r="7.0"/><circle cx="1850.5" cy="990.3" r="7.0"/><circle cx="1850.7" cy="995.8" r="7.0"/><circle cx="1850.8" cy="953.5" r="7.0"/><circle cx="1850.9" cy="971.3" r="7.0"/><circle cx="1850.9" cy="985.9" r="7.0"/><circle cx="1851" cy="981.9" r="7.0"/><circle cx="1851.1" cy="947.6" r="7.0"/><circle cx="1851.2" cy="975.6" r="7.0"/><circle cx="1851.3" cy="991.4" r="7.0"/><circle cx="1851.4" cy="958.4" r="7.0"/><circle cx="1851.5" cy="967.3" r="7.0"/><circle cx="1851.6" cy="948.1" r="7.0"/><circle cx="1851.7" cy="998.9" r="7.0"/><circle cx="1851.8" cy="977.7" r="7.0"/><circle cx="1851.9" cy="958.1" r="7.0"/><circle cx="1852" cy="956.9" r="7.0"/><circle cx="1852.1" cy="952.8" r="7.0"/><circle cx="1852.2" cy="1002.4" r="7.0"/><circle cx="1852.3" cy="988.1" r="7.0"/><circle cx="1852.4" cy="998" r="7.0"/><circle cx="1852.5" cy="994" r="7.0"/><circle cx="1852.6" cy="949.8" r="7.0"/><circle cx="1852.7" cy="971.8" r="7.0"/><circle cx="1852.8" cy="952.3" r="7.0"/><circle cx="1852.9" cy="983.7" r="7.0"/><circle cx="1853" cy="956" r="7.0"/><circle cx="1853.1" cy="979.5" r="7.0"/><circle cx="1853.2" cy="990.1" r="7.0"/><circle cx="1853.3" cy="961" r="7.0"/><circle cx="1853.4" cy="951.7" r="7.0"/><circle cx="1853.4" cy="998.8" r="7.0"/><circle cx="1853.5" cy="971.3" r="7.0"/><circle cx="1853.6" cy="970" r="7.0"/><circle cx="1853.7" cy="992.5" r="7.0"/><circle cx="1853.8" cy="984.1" r="7.0"/><circle cx="1853.9" cy="996.8" r="7.0"/><circle cx="1854" cy="993.3" r="7.0"/><circle cx="1854.1" cy="990.5" r="7.0"/><circle cx="1854.2" cy="971.2" r="7.0"/><circle cx="1854.3" cy="968.3" r="7.0"/><circle cx="1854.4" cy="993.4" r="7.0"/><circle cx="1854.5" cy="1004.1" r="7.0"/><circle cx="1854.6" cy="986.5" r="7.0"/><circle cx="1854.7" cy="966.9" r="7.0"/><circle cx="1854.8" cy="994.4" r="7.0"/><circle cx="1854.9" cy="987.3" r="7.0"/><circle cx="1855" cy="993.4" r="7.0"/><circle cx="1855.1" cy="960.4" r="7.0"/><circle cx="1855.2" cy="974.2" r="7.0"/><circle cx="1855.3" cy="1001.2" r="7.0"/><circle cx="1855.4" cy="999.1" r="7.0"/><circle cx="1855.5" cy="982.7" r="7.0"/><circle cx="1855.6" cy="974.1" r="7.0"/><circle cx="1855.7" cy="969.1" r="7.0"/><circle cx="1855.8" cy="999.6" r="7.0"/><circle cx="1855.9" cy="995.6" r="7.0"/><circle cx="1855.9" cy="966" r="7.0"/><circle cx="1856" cy="981.9" r="7.0"/><circle cx="1856.1" cy="988.9" r="7.0"/><circle cx="1856.2" cy="987.6" r="7.0"/><circle cx="1856.3" cy="951.6" r="7.0"/><circle cx="1856.4" cy="987.3" r="7.0"/><circle cx="1856.5" cy="973.2" r="7.0"/><circle cx="1856.6" cy="984.8" r="7.0"/><circle cx="1856.7" cy="981.5" r="7.0"/><circle cx="1856.8" cy="956.5" r="7.0"/><circle cx="1856.9" cy="949.1" r="7.0"/><circle cx="1857" cy="984.4" r="7.0"/><circle cx="1857.1" cy="993.7" r="7.0"/><circle cx="1857.2" cy="964.1" r="7.0"/><circle cx="1857.3" cy="993.3" r="7.0"/><circle cx="1857.4" cy="1004.4" r="7.0"/><circle cx="1857.5" cy="954.3" r="7.0"/><circle cx="1857.6" cy="981" r="7.0"/><circle cx="1857.7" cy="958.8" r="7.0"/><circle cx="1857.8" cy="982" r="7.0"/><circle cx="1857.9" cy="955.3" r="7.0"/><circle cx="1858" cy="978.9" r="7.0"/><circle cx="1858.1" cy="995.6" r="7.0"/><circle cx="1858.2" cy="1003.9" r="7.0"/><circle cx="1858.3" cy="973.8" r="7.0"/><circle cx="1858.4" cy="968.7" r="7.0"/><circle cx="1858.4" cy="953.6" r="7.0"/><circle cx="1858.5" cy="999.7" r="7.0"/><circle cx="1858.6" cy="969.7" r="7.0"/><circle cx="1858.7" cy="983.8" r="7.0"/><circle cx="1858.8" cy="976.3" r="7.0"/><circle cx="1858.9" cy="996.5" r="7.0"/><circle cx="1859" cy="988.7" r="7.0"/><circle cx="1859.1" cy="975.3" r="7.0"/><circle cx="1859.2" cy="952.4" r="7.0"/><circle cx="1859.3" cy="998.5" r="7.0"/><circle cx="1859.4" cy="976.9" r="7.0"/><circle cx="1859.5" cy="959.1" r="7.0"/><circle cx="1859.6" cy="949.9" r="7.0"/><circle cx="1859.7" cy="993.5" r="7.0"/><circle cx="1859.8" cy="997.5" r="7.0"/><circle cx="1859.9" cy="951.1" r="7.0"/><circle cx="1860" cy="949.2" r="7.0"/><circle cx="1860.1" cy="977.2" r="7.0"/><circle cx="1860.2" cy="1001.7" r="7.0"/><circle cx="1860.3" cy="951.8" r="7.0"/><circle cx="1860.4" cy="982.5" r="7.0"/><circle cx="1860.5" cy="952.9" r="7.0"/><circle cx="1860.6" cy="969.2" r="7.0"/><circle cx="1860.7" cy="957.4" r="7.0"/><circle cx="1860.8" cy="995.5" r="7.0"/><circle cx="1860.9" cy="959.5" r="7.0"/><circle cx="1860.9" cy="991.9" r="7.0"/><circle cx="1861" cy="981.4" r="7.0"/><circle cx="1861.1" cy="955.8" r="7.0"/><circle cx="1861.2" cy="956.8" r="7.0"/><circle cx="1861.3" cy="994.1" r="7.0"/><circle cx="1861.4" cy="992.1" r="7.0"/><circle cx="1861.5" cy="981.5" r="7.0"/><circle cx="1861.6" cy="974.6" r="7.0"/><circle cx="1861.7" cy="982.4" r="7.0"/><circle cx="1861.8" cy="997.5" r="7.0"/><circle cx="1861.9" cy="990.3" r="7.0"/><circle cx="1862" cy="962.3" r="7.0"/><circle cx="1862.1" cy="952.2" r="7.0"/><circle cx="1862.2" cy="1002.3" r="7.0"/><circle cx="1862.3" cy="971.7" r="7.0"/><circle cx="1862.4" cy="960.1" r="7.0"/><circle cx="1862.5" cy="1002.5" r="7.0"/><circle cx="1862.6" cy="955.2" r="7.0"/><circle cx="1862.7" cy="997.7" r="7.0"/><circle cx="1862.8" cy="969.2" r="7.0"/><circle cx="1862.9" cy="972.1" r="7.0"/><circle cx="1863" cy="967.4" r="7.0"/><circle cx="1863.1" cy="986.5" r="7.0"/><circle cx="1863.2" cy="979.6" r="7.0"/><circle cx="1863.3" cy="969.9" r="7.0"/><circle cx="1863.4" cy="979.2" r="7.0"/><circle cx="1863.4" cy="965.1" r="7.0"/><circle cx="1863.5" cy="977.8" r="7.0"/><circle cx="1863.6" cy="978.3" r="7.0"/><circle cx="1863.7" cy="1003.3" r="7.0"/><circle cx="1863.8" cy="967.2" r="7.0"/><circle cx="1863.9" cy="975" r="7.0"/><circle cx="1864" cy="990.4" r="7.0"/><circle cx="1864.1" cy="958.2" r="7.0"/><circle cx="1864.2" cy="957.1" r="7.0"/><circle cx="1864.3" cy="976.7" r="7.0"/><circle cx="1864.4" cy="993.7" r="7.0"/><circle cx="1864.5" cy="975.6" r="7.0"/><circle cx="1864.6" cy="998.1" r="7.0"/><circle cx="1864.7" cy="996.8" r="7.0"/><circle cx="1864.8" cy="978" r="7.0"/><circle cx="1864.9" cy="999" r="7.0"/><circle cx="1865" cy="977.2" r="7.0"/><circle cx="1865.1" cy="972.9" r="7.0"/><circle cx="1865.2" cy="1002.2" r="7.0"/><circle cx="1865.3" cy="964.8" r="7.0"/><circle cx="1865.4" cy="999.5" r="7.0"/><circle cx="1865.5" cy="958.5" r="7.0"/><circle cx="1865.6" cy="955.6" r="7.0"/><circle cx="1865.7" cy="972.3" r="7.0"/><circle cx="1865.8" cy="1001.3" r="7.0"/><circle cx="1865.9" cy="972.6" r="7.0"/><circle cx="1866" cy="980.6" r="7.0"/><circle cx="1866" cy="943.8" r="7.0"/><circle cx="1866.1" cy="996" r="7.0"/><circle cx="1866.2" cy="949.5" r="7.0"/><circle cx="1866.3" cy="940.3" r="7.0"/><circle cx="1866.4" cy="957.2" r="7.0"/><circle cx="1866.5" cy="951.7" r="7.0"/><circle cx="1866.6" cy="992.1" r="7.0"/><circle cx="1866.8" cy="972.4" r="7.0"/><circle cx="1866.9" cy="941.7" r="7.0"/><circle cx="1867" cy="944.2" r="7.0"/><circle cx="1867.1" cy="993.8" r="7.0"/><circle cx="1867.2" cy="952.3" r="7.0"/><circle cx="1867.3" cy="942.6" r="7.0"/><circle cx="1867.4" cy="1000.3" r="7.0"/><circle cx="1867.5" cy="981.1" r="7.0"/><circle cx="1867.6" cy="953.7" r="7.0"/><circle cx="1867.7" cy="994" r="7.0"/><circle cx="1867.8" cy="943.8" r="7.0"/><circle cx="1867.9" cy="986" r="7.0"/><circle cx="1868" cy="948.9" r="7.0"/><circle cx="1868.1" cy="994.8" r="7.0"/><circle cx="1868.2" cy="970.1" r="7.0"/><circle cx="1868.3" cy="941.1" r="7.0"/><circle cx="1868.4" cy="990.2" r="7.0"/><circle cx="1868.5" cy="986.4" r="7.0"/><circle cx="1868.5" cy="969.3" r="7.0"/><circle cx="1868.6" cy="982.3" r="7.0"/><circle cx="1868.7" cy="1002.1" r="7.0"/><circle cx="1868.8" cy="991.8" r="7.0"/><circle cx="1868.9" cy="993.2" r="7.0"/><circle cx="1869" cy="937.8" r="7.0"/><circle cx="1869.1" cy="955.9" r="7.0"/><circle cx="1869.2" cy="940.2" r="7.0"/><circle cx="1869.3" cy="992.5" r="7.0"/><circle cx="1869.4" cy="947.6" r="7.0"/><circle cx="1869.5" cy="996.3" r="7.0"/><circle cx="1869.6" cy="965.8" r="7.0"/><circle cx="1869.7" cy="957.8" r="7.0"/><circle cx="1869.8" cy="978.1" r="7.0"/><circle cx="1869.9" cy="939.8" r="7.0"/><circle cx="1870" cy="963.2" r="7.0"/><circle cx="1870.1" cy="961.2" r="7.0"/><circle cx="1870.2" cy="938.1" r="7.0"/><circle cx="1870.3" cy="996.8" r="7.0"/><circle cx="1870.4" cy="929.1" r="7.0"/><circle cx="1870.5" cy="956.5" r="7.0"/><circle cx="1870.6" cy="974.4" r="7.0"/><circle cx="1870.7" cy="943" r="7.0"/><circle cx="1870.8" cy="984.1" r="7.0"/><circle cx="1870.9" cy="904.8" r="7.0"/><circle cx="1871.4" cy="910.7" r="7.0"/><circle cx="1870" cy="910" r="7.0"/><circle cx="1869.7" cy="907.1" r="7.0"/><circle cx="1870.2" cy="906.4" r="7.0"/><circle cx="1871.8" cy="908.1" r="7.0"/><circle cx="1871.1" cy="908.6" r="7.0"/><circle cx="1869.6" cy="911.2" r="7.0"/><circle cx="1870" cy="913.8" r="7.0"/><circle cx="1870.6" cy="880.4" r="7.0"/><circle cx="1871.6" cy="881.3" r="7.0"/><circle cx="1870.1" cy="884.9" r="7.0"/><circle cx="1869.7" cy="880" r="7.0"/><circle cx="1870.4" cy="886.1" r="7.0"/><circle cx="1870.4" cy="885.1" r="7.0"/><circle cx="1870.9" cy="845.1" r="7.0"/><circle cx="1870.1" cy="842.5" r="7.0"/><circle cx="1870.7" cy="842.2" r="7.0"/><circle cx="1871.7" cy="840.7" r="7.0"/><circle cx="1870" cy="840" r="7.0"/><circle cx="1871.1" cy="841" r="7.0"/><circle cx="1871.4" cy="830.4" r="7.0"/><circle cx="1870.2" cy="833.8" r="7.0"/><circle cx="1871.1" cy="836.6" r="7.0"/><circle cx="1870.4" cy="827.6" r="7.0"/><circle cx="1870.6" cy="827" r="7.0"/><circle cx="1871.3" cy="824.9" r="7.0"/><circle cx="1870.8" cy="826.3" r="7.0"/><circle cx="1870.2" cy="823.7" r="7.0"/><circle cx="1871.4" cy="821.2" r="7.0"/><circle cx="1870.9" cy="821.5" r="7.0"/><circle cx="1870" cy="814.8" r="7.0"/><circle cx="1871" cy="815.1" r="7.0"/><circle cx="1871.1" cy="812.9" r="7.0"/><circle cx="1870" cy="810.7" r="7.0"/><circle cx="1870.3" cy="809.3" r="7.0"/><circle cx="1871.6" cy="811.2" r="7.0"/><circle cx="1871.2" cy="805.9" r="7.0"/><circle cx="1870.8" cy="787.2" r="7.0"/><circle cx="1870.8" cy="636" r="7.0"/><circle cx="1870.8" cy="169.9" r="7.0"/><circle cx="1872.3" cy="169.9" r="7.0"/><circle cx="1872.3" cy="973.6" r="7.0"/><circle cx="1637.5" cy="962.2" r="7.0"/><circle cx="1647.8" cy="991.2" r="7.0"/></g>
</g>
<g stroke="#2b2b2b" fill="none">
<path d="M293.3 72.6 H275.3 V1106.2 H2290.6 V1088.2" stroke-width="5.2" stroke-linejoin="round"/>
<path d="M275.3 1004.7h18M275.3 901.1h18M275.3 797.6h18M275.3 694h18M275.3 590.4h18M275.3 486.9h18M275.3 383.3h18M275.3 279.7h18M275.3 176.1h18M499.4 1106.2v-18M723.3 1106.2v-18M947.2 1106.2v-18M1171.1 1106.2v-18M1395 1106.2v-18M1618.9 1106.2v-18M1842.8 1106.2v-18M2066.7 1106.2v-18" stroke-width="4.6"/>
</g>
<rect x="380.1" y="170.2" width="128.6" height="77.5" rx="1.5" fill="#fff" stroke="#858585" stroke-width="4"/>
<text class="an" transform="translate(444.5 229.6) scale(1 1.04)" font-size="53.8" font-weight="bold" text-anchor="middle">2.16</text>
<rect x="332.5" y="806.3" width="127" height="75.5" rx="1.5" fill="#fff" stroke="#858585" stroke-width="4"/>
<text class="an" transform="translate(396 865.1) scale(1 1.04)" font-size="53.8" font-weight="bold" text-anchor="middle">2.16</text>
<rect x="556.5" y="806.3" width="127" height="75.5" rx="1.5" fill="#fff" stroke="#858585" stroke-width="4"/>
<text class="an" transform="translate(620 865.1) scale(1 1.04)" font-size="53.8" font-weight="bold" text-anchor="middle">2.59</text>
<rect x="783" y="806.3" width="127" height="75.5" rx="1.5" fill="#fff" stroke="#858585" stroke-width="4"/>
<text class="an" transform="translate(846.5 865.1) scale(1 1.04)" font-size="53.8" font-weight="bold" text-anchor="middle">3.03</text>
<rect x="1008" y="806.3" width="127" height="75.5" rx="1.5" fill="#fff" stroke="#858585" stroke-width="4"/>
<text class="an" transform="translate(1071.5 865.1) scale(1 1.04)" font-size="53.8" font-weight="bold" text-anchor="middle">3.46</text>
<rect x="1228" y="805.8" width="127" height="75.5" rx="1.5" fill="#fff" stroke="#858585" stroke-width="4"/>
<text class="an" transform="translate(1291.5 864.6) scale(1 1.04)" font-size="53.8" font-weight="bold" text-anchor="middle">3.89</text>
<rect x="1453.5" y="751.3" width="127" height="75.5" rx="1.5" fill="#fff" stroke="#858585" stroke-width="4"/>
<text class="an" transform="translate(1517 810.1) scale(1 1.04)" font-size="53.8" font-weight="bold" text-anchor="middle">4.32</text>
<rect x="1676" y="685.3" width="127" height="75.5" rx="1.5" fill="#fff" stroke="#858585" stroke-width="4"/>
<text class="an" transform="translate(1739.5 744.1) scale(1 1.04)" font-size="53.8" font-weight="bold" text-anchor="middle">4.76</text>
<rect x="1887.5" y="355.8" width="127" height="75.5" rx="1.5" fill="#fff" stroke="#858585" stroke-width="4"/>
<text class="an" transform="translate(1951 414.6) scale(1 1.04)" font-size="53.8" font-weight="bold" text-anchor="middle">5.19</text>
<text transform="translate(206.5 2388.9) scale(1 1.05)" font-size="62" font-weight="bold" text-anchor="end">-1</text>
<text transform="translate(206.5 2243) scale(1 1.05)" font-size="62" font-weight="bold" text-anchor="end">0</text>
<text transform="translate(206.5 2096.2) scale(1 1.05)" font-size="62" font-weight="bold" text-anchor="end">1</text>
<text transform="translate(206.5 1949.4) scale(1 1.05)" font-size="62" font-weight="bold" text-anchor="end">2</text>
<text transform="translate(206.5 1802.6) scale(1 1.05)" font-size="62" font-weight="bold" text-anchor="end">3</text>
<text transform="translate(206.5 1655.8) scale(1 1.05)" font-size="62" font-weight="bold" text-anchor="end">4</text>
<text transform="translate(206.5 1509) scale(1 1.05)" font-size="62" font-weight="bold" text-anchor="end">5</text>
<text transform="translate(206.5 1362.2) scale(1 1.05)" font-size="62" font-weight="bold" text-anchor="end">6</text>
<text transform="translate(270.3 2462) scale(1 1.05)" font-size="62" font-weight="bold" text-anchor="middle">0</text>
<text transform="translate(494 2462) scale(1 1.05)" font-size="62" font-weight="bold" text-anchor="middle">24</text>
<text transform="translate(717.6 2462) scale(1 1.05)" font-size="62" font-weight="bold" text-anchor="middle">48</text>
<text transform="translate(941.3 2462) scale(1 1.05)" font-size="62" font-weight="bold" text-anchor="middle">72</text>
<text transform="translate(1165 2462) scale(1 1.05)" font-size="62" font-weight="bold" text-anchor="middle">96</text>
<text transform="translate(1388.6 2462) scale(1 1.05)" font-size="62" font-weight="bold" text-anchor="middle">120</text>
<text transform="translate(1612.3 2462) scale(1 1.05)" font-size="62" font-weight="bold" text-anchor="middle">144</text>
<text transform="translate(1836 2462) scale(1 1.05)" font-size="62" font-weight="bold" text-anchor="middle">168</text>
<text transform="translate(2059.7 2462) scale(1 1.05)" font-size="62" font-weight="bold" text-anchor="middle">192</text>
<text transform="translate(2283.3 2462) scale(1 1.05)" font-size="62" font-weight="bold" text-anchor="middle">216</text>
<text transform="translate(1253.5 2536)" font-size="62" font-weight="bold" text-anchor="middle">t (h)</text>
<text transform="translate(125 1878) rotate(-90)" font-size="62" font-weight="bold" text-anchor="middle">Creep rate (mm/h)</text>
<text transform="translate(41 1364)" font-size="84">(b)</text>
<text class="an" transform="translate(392 1397) scale(1 1.02)" font-size="54.099999999999994" font-weight="bold">No. p-c-2</text>
<text class="an" transform="translate(535 1492) scale(1 1.02)" font-size="54.099999999999994" font-weight="bold">Constant shear stress (MPa)</text>
<g filter="url(#db)">
<polyline points="281.1,2098.2 281.1,2133.4 281.1,2146.6 281.1,2177.5 281.1,2192.1 280.6,2202.4 281.4,2206.2 281.3,2210 281.1,2213.9 281.3,2217.7 283.6,2219.9 281.2,2217.7 281.1,2215.8 287.9,2220.5 289.7,2220.9 282,2214.5 283.4,2215.6 284.4,2220.1 281.6,2218.4 282.5,2219.5 283.9,2220.4 285.5,2221 287.4,2221.4 289.5,2221.5 292.3,2221.5 303.5,2221.5 319.3,2221.5 358.4,2221.5 502.8,2221.5 502.8,2058.6 503.9,2144 503.7,2149.6 502.4,2211.2 502.6,2214.6 502.6,2218.1 503.2,2217.8 503.9,2218.4 504.9,2219 506.2,2219.5 507.6,2220 509.3,2220.4 511.1,2220.7 513,2221 515.2,2221.2 517.4,2221.4 519.8,2221.5 522.4,2221.5 533.6,2221.5 560.6,2221.5 585.7,2221.5 727.3,2221.5 727.3,2046.8 727.3,2070.3 727.3,2120.2 727.3,2173.1 727.3,2202.4 727.6,2209.8 727.7,2213.7 727.6,2217.6 727.7,2217.7 728.4,2218.3 729.4,2218.8 730.6,2219.3 732,2219.7 733.6,2220.1 735.3,2220.4 737.2,2220.7 739.3,2220.9 741.5,2221.1 743.8,2221.3 746.3,2221.4 748.8,2221.5 751.6,2221.5 770.2,2221.5 803.7,2221.5 817.7,2221.5 886.6,2221.5 950.9,2221.5 950.9,2033.6 950.9,2061.5 951.8,2092.6 950.3,2095.1 951.2,2091.6 951.3,2096.2 950.9,2108.5 950.9,2133.4 950.9,2151 950.9,2159.8 950.9,2173.1 950.9,2186.3 951.4,2206.8 950.9,2210.5 951.2,2214.2 951.1,2217.8 951.2,2217.7 951.9,2218.3 952.7,2218.8 953.8,2219.3 955,2219.7 956.4,2220.1 958,2220.4 959.7,2220.7 961.5,2220.9 963.4,2221.1 965.5,2221.3 967.7,2221.4 969.9,2221.5 972.3,2221.5 986.3,2221.5 989.1,2221.5 991.9,2221.5 1023.6,2221.5 1047.8,2221.5 1083.2,2221.5 1173.6,2221.5 1173.6,2005.7 1173.4,2086.1 1173.7,2087.9 1173.6,2115.8 1173.6,2129 1173.6,2133.4 1173.6,2156.9 1173.6,2196.5 1173.4,2209.8 1173.3,2213.7 1173.7,2217.6 1173.9,2217.6 1174.5,2218.1 1175.4,2218.6 1176.5,2219 1177.8,2219.4 1179.2,2219.8 1180.8,2220.1 1182.5,2220.4 1184.3,2220.7 1186.3,2220.9 1188.4,2221.1 1190.6,2221.2 1192.9,2221.3 1195.4,2221.4 1197.9,2221.5 1200.6,2221.5 1232.3,2221.5 1243.4,2221.5 1323.6,2221.5 1326.4,2221.5 1329.1,2221.5 1398.1,2221.5 1398.1,1977.8 1398.1,2099.7 1398.1,2140.8 1398.1,2159.8 1398.1,2181.9 1398.1,2202.4 1397.7,2206.8 1398.5,2210.5 1397.8,2214.2 1397.6,2217.8 1398.4,2217.6 1399.1,2218.1 1399.9,2218.6 1401,2219 1402.3,2219.4 1403.7,2219.8 1405.3,2220.1 1407,2220.4 1408.8,2220.7 1410.8,2220.9 1412.9,2221.1 1415.1,2221.2 1417.5,2221.3 1419.9,2221.4 1422.4,2221.5 1425.1,2221.5 1445.6,2221.5 1466.1,2221.5 1471.7,2221.5 1494,2221.5 1522.9,2221.5 1568.6,2221.5 1590.9,2221.5 1621.7,2221.5 1621.7,1894.1 1621.7,2010.1 1621.7,2114.3 1621.7,2129 1621.7,2143.7 1621.7,2151 1622.6,2202.5 1620.9,2199.3 1620.6,2203.5 1621.8,2203.9 1621.8,2208.3 1621.9,2212.7 1621.9,2217.1 1621.9,2217.5 1622.4,2217.9 1623.1,2218.3 1624,2218.7 1625,2219 1626.1,2219.3 1627.4,2219.6 1628.8,2219.9 1630.2,2220.2 1631.8,2220.4 1633.5,2220.6 1635.2,2220.8 1637.1,2221 1639,2221.1 1641.1,2221.2 1643.2,2221.3 1645.4,2221.4 1647.6,2221.5 1650,2221.5 1652.4,2221.5 1666.4,2221.5 1670.1,2221.5 1673.8,2221.5 1677.6,2221.5 1688.7,2221.5 1702.7,2221.5 1706.4,2221.5 1726,2221.5 1754,2221.5 1758.6,2221.5 1763.3,2221.5 1805.2,2221.5 1845.3,2221.5 1845.3,1762 1845.3,1973.4 1845.3,1986.6 1845.5,2060.6 1846,2056.7 1846.1,2090.3 1846.1,2100.3 1845.3,2139.3 1845.3,2159.8 1845.3,2173.1 1845.3,2195.1 1845.6,2198 1845.7,2201.9 1844.9,2205.8 1845,2209.8 1844.9,2213.7 1844.8,2217.6 1854,2220.7 1850.1,2218.4 1850.1,2220.4 1845.4,2219.5 1852.2,2221.1 1846.5,2215.7 1845.3,2216.1 1846.2,2210.8 1846.9,2217.7 1856.5,2221.3 1854,2220.9 1845.3,2212.8 1845.4,2217.4 1845.8,2217.7 1846.4,2218 1847,2218.3 1847.8,2218.5 1848.7,2218.8 1849.6,2219 1850.6,2219.3 1851.8,2219.5 1853,2219.7 1854.2,2219.9 1855.6,2220.1 1857,2220.2 1858.5,2220.4 1860,2220.6 1861.6,2220.7 1863.3,2220.8 1865,2220.9 1866.8,2221 1868.6,2221.1 1870.5,2221.2 1872.5,2221.3 1874.5,2221.4 1876.6,2221.4 1878.7,2221.4 1880.8,2221.5 1883,2221.5 1885.3,2221.5 1889,2221.5 1892.9,2221.5 1896.9,2221.5 1900.8,2221.5 1904.7,2221.5 1908.6,2221.5 1912.5,2221.5 1916.4,2221.5 1920.3,2221.5 1924.3,2221.5 1928.2,2221.5 1932.1,2221.5 1936,2221.5 1939.9,2221.5 1943.8,2221.5 1947.7,2221.5 1960.8,2221.5 1976.6,2221.5 1981.3,2221.5 1985.9,2221.5 1989.6,2221.5 2009.2,2221.5 2022.3,2221.5 2026.9,2221.5 2032.5,2221.5 2048.3,2221.5 2059.5,2221.5 2069.8,2221.5 2069.8,2184.8 2069.8,2156.9 2069.8,2092.3 2069.8,2089.4 2069.8,1957.3 2069.8,1949.9 2069.8,1716.5 2069.8,1697.4 2069.8,1690.1 2069.8,1685.7 2069.8,1676.9 2069.8,1553.6 2069.8,1541.8 2069.8,1428.8" fill="none" stroke="#444" stroke-width="4.8" stroke-linejoin="round"/>
<g fill="#fff" fill-opacity="0.2" stroke="none"><circle cx="281.1" cy="2098.2" r="7.0"/><circle cx="281.1" cy="2133.4" r="7.0"/><circle cx="281.1" cy="2146.6" r="7.0"/><circle cx="281.1" cy="2177.5" r="7.0"/><circle cx="281.1" cy="2192.1" r="7.0"/><circle cx="280.6" cy="2202.4" r="7.0"/><circle cx="281.4" cy="2206.2" r="7.0"/><circle cx="281.3" cy="2210" r="7.0"/><circle cx="281.1" cy="2213.9" r="7.0"/><circle cx="281.3" cy="2217.7" r="7.0"/><circle cx="283.6" cy="2219.9" r="7.0"/><circle cx="281.2" cy="2217.7" r="7.0"/><circle cx="281.1" cy="2215.8" r="7.0"/><circle cx="287.9" cy="2220.5" r="7.0"/><circle cx="289.7" cy="2220.9" r="7.0"/><circle cx="282" cy="2214.5" r="7.0"/><circle cx="283.4" cy="2215.6" r="7.0"/><circle cx="284.4" cy="2220.1" r="7.0"/><circle cx="281.6" cy="2218.4" r="7.0"/><circle cx="282.5" cy="2219.5" r="7.0"/><circle cx="283.9" cy="2220.4" r="7.0"/><circle cx="285.5" cy="2221" r="7.0"/><circle cx="287.4" cy="2221.4" r="7.0"/><circle cx="289.5" cy="2221.5" r="7.0"/><circle cx="292.3" cy="2221.5" r="7.0"/><circle cx="303.5" cy="2221.5" r="7.0"/><circle cx="319.3" cy="2221.5" r="7.0"/><circle cx="358.4" cy="2221.5" r="7.0"/><circle cx="502.8" cy="2221.5" r="7.0"/><circle cx="502.8" cy="2058.6" r="7.0"/><circle cx="503.9" cy="2144" r="7.0"/><circle cx="503.7" cy="2149.6" r="7.0"/><circle cx="502.4" cy="2211.2" r="7.0"/><circle cx="502.6" cy="2214.6" r="7.0"/><circle cx="502.6" cy="2218.1" r="7.0"/><circle cx="503.2" cy="2217.8" r="7.0"/><circle cx="503.9" cy="2218.4" r="7.0"/><circle cx="504.9" cy="2219" r="7.0"/><circle cx="506.2" cy="2219.5" r="7.0"/><circle cx="507.6" cy="2220" r="7.0"/><circle cx="509.3" cy="2220.4" r="7.0"/><circle cx="511.1" cy="2220.7" r="7.0"/><circle cx="513" cy="2221" r="7.0"/><circle cx="515.2" cy="2221.2" r="7.0"/><circle cx="517.4" cy="2221.4" r="7.0"/><circle cx="519.8" cy="2221.5" r="7.0"/><circle cx="522.4" cy="2221.5" r="7.0"/><circle cx="533.6" cy="2221.5" r="7.0"/><circle cx="560.6" cy="2221.5" r="7.0"/><circle cx="585.7" cy="2221.5" r="7.0"/><circle cx="727.3" cy="2221.5" r="7.0"/><circle cx="727.3" cy="2046.8" r="7.0"/><circle cx="727.3" cy="2070.3" r="7.0"/><circle cx="727.3" cy="2120.2" r="7.0"/><circle cx="727.3" cy="2173.1" r="7.0"/><circle cx="727.3" cy="2202.4" r="7.0"/><circle cx="727.6" cy="2209.8" r="7.0"/><circle cx="727.7" cy="2213.7" r="7.0"/><circle cx="727.6" cy="2217.6" r="7.0"/><circle cx="728.4" cy="2218.3" r="7.0"/><circle cx="729.4" cy="2218.8" r="7.0"/><circle cx="730.6" cy="2219.3" r="7.0"/><circle cx="732" cy="2219.7" r="7.0"/><circle cx="733.6" cy="2220.1" r="7.0"/><circle cx="735.3" cy="2220.4" r="7.0"/><circle cx="737.2" cy="2220.7" r="7.0"/><circle cx="739.3" cy="2220.9" r="7.0"/><circle cx="741.5" cy="2221.1" r="7.0"/><circle cx="743.8" cy="2221.3" r="7.0"/><circle cx="746.3" cy="2221.4" r="7.0"/><circle cx="748.8" cy="2221.5" r="7.0"/><circle cx="751.6" cy="2221.5" r="7.0"/><circle cx="770.2" cy="2221.5" r="7.0"/><circle cx="803.7" cy="2221.5" r="7.0"/><circle cx="817.7" cy="2221.5" r="7.0"/><circle cx="886.6" cy="2221.5" r="7.0"/><circle cx="950.9" cy="2221.5" r="7.0"/><circle cx="950.9" cy="2033.6" r="7.0"/><circle cx="950.9" cy="2061.5" r="7.0"/><circle cx="951.8" cy="2092.6" r="7.0"/><circle cx="950.3" cy="2095.1" r="7.0"/><circle cx="951.2" cy="2091.6" r="7.0"/><circle cx="951.3" cy="2096.2" r="7.0"/><circle cx="950.9" cy="2108.5" r="7.0"/><circle cx="950.9" cy="2133.4" r="7.0"/><circle cx="950.9" cy="2151" r="7.0"/><circle cx="950.9" cy="2159.8" r="7.0"/><circle cx="950.9" cy="2173.1" r="7.0"/><circle cx="950.9" cy="2186.3" r="7.0"/><circle cx="951.4" cy="2206.8" r="7.0"/><circle cx="950.9" cy="2210.5" r="7.0"/><circle cx="951.2" cy="2214.2" r="7.0"/><circle cx="951.1" cy="2217.8" r="7.0"/><circle cx="951.2" cy="2217.7" r="7.0"/><circle cx="951.9" cy="2218.3" r="7.0"/><circle cx="952.7" cy="2218.8" r="7.0"/><circle cx="953.8" cy="2219.3" r="7.0"/><circle cx="955" cy="2219.7" r="7.0"/><circle cx="956.4" cy="2220.1" r="7.0"/><circle cx="958" cy="2220.4" r="7.0"/><circle cx="959.7" cy="2220.7" r="7.0"/><circle cx="961.5" cy="2220.9" r="7.0"/><circle cx="963.4" cy="2221.1" r="7.0"/><circle cx="965.5" cy="2221.3" r="7.0"/><circle cx="967.7" cy="2221.4" r="7.0"/><circle cx="969.9" cy="2221.5" r="7.0"/><circle cx="972.3" cy="2221.5" r="7.0"/><circle cx="986.3" cy="2221.5" r="7.0"/><circle cx="989.1" cy="2221.5" r="7.0"/><circle cx="991.9" cy="2221.5" r="7.0"/><circle cx="1023.6" cy="2221.5" r="7.0"/><circle cx="1047.8" cy="2221.5" r="7.0"/><circle cx="1083.2" cy="2221.5" r="7.0"/><circle cx="1173.6" cy="2221.5" r="7.0"/><circle cx="1173.6" cy="2005.7" r="7.0"/><circle cx="1173.4" cy="2086.1" r="7.0"/><circle cx="1173.7" cy="2087.9" r="7.0"/><circle cx="1173.6" cy="2115.8" r="7.0"/><circle cx="1173.6" cy="2129" r="7.0"/><circle cx="1173.6" cy="2133.4" r="7.0"/><circle cx="1173.6" cy="2156.9" r="7.0"/><circle cx="1173.6" cy="2196.5" r="7.0"/><circle cx="1173.4" cy="2209.8" r="7.0"/><circle cx="1173.3" cy="2213.7" r="7.0"/><circle cx="1173.7" cy="2217.6" r="7.0"/><circle cx="1173.9" cy="2217.6" r="7.0"/><circle cx="1174.5" cy="2218.1" r="7.0"/><circle cx="1175.4" cy="2218.6" r="7.0"/><circle cx="1176.5" cy="2219" r="7.0"/><circle cx="1177.8" cy="2219.4" r="7.0"/><circle cx="1179.2" cy="2219.8" r="7.0"/><circle cx="1180.8" cy="2220.1" r="7.0"/><circle cx="1182.5" cy="2220.4" r="7.0"/><circle cx="1184.3" cy="2220.7" r="7.0"/><circle cx="1186.3" cy="2220.9" r="7.0"/><circle cx="1188.4" cy="2221.1" r="7.0"/><circle cx="1190.6" cy="2221.2" r="7.0"/><circle cx="1192.9" cy="2221.3" r="7.0"/><circle cx="1195.4" cy="2221.4" r="7.0"/><circle cx="1197.9" cy="2221.5" r="7.0"/><circle cx="1200.6" cy="2221.5" r="7.0"/><circle cx="1232.3" cy="2221.5" r="7.0"/><circle cx="1243.4" cy="2221.5" r="7.0"/><circle cx="1323.6" cy="2221.5" r="7.0"/><circle cx="1326.4" cy="2221.5" r="7.0"/><circle cx="1329.1" cy="2221.5" r="7.0"/><circle cx="1398.1" cy="2221.5" r="7.0"/><circle cx="1398.1" cy="1977.8" r="7.0"/><circle cx="1398.1" cy="2099.7" r="7.0"/><circle cx="1398.1" cy="2140.8" r="7.0"/><circle cx="1398.1" cy="2159.8" r="7.0"/><circle cx="1398.1" cy="2181.9" r="7.0"/><circle cx="1398.1" cy="2202.4" r="7.0"/><circle cx="1397.7" cy="2206.8" r="7.0"/><circle cx="1398.5" cy="2210.5" r="7.0"/><circle cx="1397.8" cy="2214.2" r="7.0"/><circle cx="1397.6" cy="2217.8" r="7.0"/><circle cx="1398.4" cy="2217.6" r="7.0"/><circle cx="1399.1" cy="2218.1" r="7.0"/><circle cx="1399.9" cy="2218.6" r="7.0"/><circle cx="1401" cy="2219" r="7.0"/><circle cx="1402.3" cy="2219.4" r="7.0"/><circle cx="1403.7" cy="2219.8" r="7.0"/><circle cx="1405.3" cy="2220.1" r="7.0"/><circle cx="1407" cy="2220.4" r="7.0"/><circle cx="1408.8" cy="2220.7" r="7.0"/><circle cx="1410.8" cy="2220.9" r="7.0"/><circle cx="1412.9" cy="2221.1" r="7.0"/><circle cx="1415.1" cy="2221.2" r="7.0"/><circle cx="1417.5" cy="2221.3" r="7.0"/><circle cx="1419.9" cy="2221.4" r="7.0"/><circle cx="1422.4" cy="2221.5" r="7.0"/><circle cx="1425.1" cy="2221.5" r="7.0"/><circle cx="1445.6" cy="2221.5" r="7.0"/><circle cx="1466.1" cy="2221.5" r="7.0"/><circle cx="1471.7" cy="2221.5" r="7.0"/><circle cx="1494" cy="2221.5" r="7.0"/><circle cx="1522.9" cy="2221.5" r="7.0"/><circle cx="1568.6" cy="2221.5" r="7.0"/><circle cx="1590.9" cy="2221.5" r="7.0"/><circle cx="1621.7" cy="2221.5" r="7.0"/><circle cx="1621.7" cy="1894.1" r="7.0"/><circle cx="1621.7" cy="2010.1" r="7.0"/><circle cx="1621.7" cy="2114.3" r="7.0"/><circle cx="1621.7" cy="2129" r="7.0"/><circle cx="1621.7" cy="2143.7" r="7.0"/><circle cx="1621.7" cy="2151" r="7.0"/><circle cx="1622.6" cy="2202.5" r="7.0"/><circle cx="1620.9" cy="2199.3" r="7.0"/><circle cx="1620.6" cy="2203.5" r="7.0"/><circle cx="1621.8" cy="2203.9" r="7.0"/><circle cx="1621.8" cy="2208.3" r="7.0"/><circle cx="1621.9" cy="2212.7" r="7.0"/><circle cx="1621.9" cy="2217.1" r="7.0"/><circle cx="1621.9" cy="2217.5" r="7.0"/><circle cx="1622.4" cy="2217.9" r="7.0"/><circle cx="1623.1" cy="2218.3" r="7.0"/><circle cx="1624" cy="2218.7" r="7.0"/><circle cx="1625" cy="2219" r="7.0"/><circle cx="1626.1" cy="2219.3" r="7.0"/><circle cx="1627.4" cy="2219.6" r="7.0"/><circle cx="1628.8" cy="2219.9" r="7.0"/><circle cx="1630.2" cy="2220.2" r="7.0"/><circle cx="1631.8" cy="2220.4" r="7.0"/><circle cx="1633.5" cy="2220.6" r="7.0"/><circle cx="1635.2" cy="2220.8" r="7.0"/><circle cx="1637.1" cy="2221" r="7.0"/><circle cx="1639" cy="2221.1" r="7.0"/><circle cx="1641.1" cy="2221.2" r="7.0"/><circle cx="1643.2" cy="2221.3" r="7.0"/><circle cx="1645.4" cy="2221.4" r="7.0"/><circle cx="1647.6" cy="2221.5" r="7.0"/><circle cx="1650" cy="2221.5" r="7.0"/><circle cx="1652.4" cy="2221.5" r="7.0"/><circle cx="1666.4" cy="2221.5" r="7.0"/><circle cx="1670.1" cy="2221.5" r="7.0"/><circle cx="1673.8" cy="2221.5" r="7.0"/><circle cx="1677.6" cy="2221.5" r="7.0"/><circle cx="1688.7" cy="2221.5" r="7.0"/><circle cx="1702.7" cy="2221.5" r="7.0"/><circle cx="1706.4" cy="2221.5" r="7.0"/><circle cx="1726" cy="2221.5" r="7.0"/><circle cx="1754" cy="2221.5" r="7.0"/><circle cx="1758.6" cy="2221.5" r="7.0"/><circle cx="1763.3" cy="2221.5" r="7.0"/><circle cx="1805.2" cy="2221.5" r="7.0"/><circle cx="1845.3" cy="2221.5" r="7.0"/><circle cx="1845.3" cy="1762" r="7.0"/><circle cx="1845.3" cy="1973.4" r="7.0"/><circle cx="1845.3" cy="1986.6" r="7.0"/><circle cx="1845.5" cy="2060.6" r="7.0"/><circle cx="1846" cy="2056.7" r="7.0"/><circle cx="1846.1" cy="2090.3" r="7.0"/><circle cx="1846.1" cy="2100.3" r="7.0"/><circle cx="1845.3" cy="2139.3" r="7.0"/><circle cx="1845.3" cy="2159.8" r="7.0"/><circle cx="1845.3" cy="2173.1" r="7.0"/><circle cx="1845.3" cy="2195.1" r="7.0"/><circle cx="1845.6" cy="2198" r="7.0"/><circle cx="1845.7" cy="2201.9" r="7.0"/><circle cx="1844.9" cy="2205.8" r="7.0"/><circle cx="1845" cy="2209.8" r="7.0"/><circle cx="1844.9" cy="2213.7" r="7.0"/><circle cx="1844.8" cy="2217.6" r="7.0"/><circle cx="1854" cy="2220.7" r="7.0"/><circle cx="1850.1" cy="2218.4" r="7.0"/><circle cx="1850.1" cy="2220.4" r="7.0"/><circle cx="1845.4" cy="2219.5" r="7.0"/><circle cx="1852.2" cy="2221.1" r="7.0"/><circle cx="1846.5" cy="2215.7" r="7.0"/><circle cx="1845.3" cy="2216.1" r="7.0"/><circle cx="1846.2" cy="2210.8" r="7.0"/><circle cx="1846.9" cy="2217.7" r="7.0"/><circle cx="1856.5" cy="2221.3" r="7.0"/><circle cx="1854" cy="2220.9" r="7.0"/><circle cx="1845.3" cy="2212.8" r="7.0"/><circle cx="1845.4" cy="2217.4" r="7.0"/><circle cx="1845.8" cy="2217.7" r="7.0"/><circle cx="1846.4" cy="2218" r="7.0"/><circle cx="1847" cy="2218.3" r="7.0"/><circle cx="1847.8" cy="2218.5" r="7.0"/><circle cx="1848.7" cy="2218.8" r="7.0"/><circle cx="1849.6" cy="2219" r="7.0"/><circle cx="1850.6" cy="2219.3" r="7.0"/><circle cx="1851.8" cy="2219.5" r="7.0"/><circle cx="1853" cy="2219.7" r="7.0"/><circle cx="1854.2" cy="2219.9" r="7.0"/><circle cx="1855.6" cy="2220.1" r="7.0"/><circle cx="1857" cy="2220.2" r="7.0"/><circle cx="1858.5" cy="2220.4" r="7.0"/><circle cx="1860" cy="2220.6" r="7.0"/><circle cx="1861.6" cy="2220.7" r="7.0"/><circle cx="1863.3" cy="2220.8" r="7.0"/><circle cx="1865" cy="2220.9" r="7.0"/><circle cx="1866.8" cy="2221" r="7.0"/><circle cx="1868.6" cy="2221.1" r="7.0"/><circle cx="1870.5" cy="2221.2" r="7.0"/><circle cx="1872.5" cy="2221.3" r="7.0"/><circle cx="1874.5" cy="2221.4" r="7.0"/><circle cx="1876.6" cy="2221.4" r="7.0"/><circle cx="1878.7" cy="2221.4" r="7.0"/><circle cx="1880.8" cy="2221.5" r="7.0"/><circle cx="1883" cy="2221.5" r="7.0"/><circle cx="1885.3" cy="2221.5" r="7.0"/><circle cx="1889" cy="2221.5" r="7.0"/><circle cx="1892.9" cy="2221.5" r="7.0"/><circle cx="1896.9" cy="2221.5" r="7.0"/><circle cx="1900.8" cy="2221.5" r="7.0"/><circle cx="1904.7" cy="2221.5" r="7.0"/><circle cx="1908.6" cy="2221.5" r="7.0"/><circle cx="1912.5" cy="2221.5" r="7.0"/><circle cx="1916.4" cy="2221.5" r="7.0"/><circle cx="1920.3" cy="2221.5" r="7.0"/><circle cx="1924.3" cy="2221.5" r="7.0"/><circle cx="1928.2" cy="2221.5" r="7.0"/><circle cx="1932.1" cy="2221.5" r="7.0"/><circle cx="1936" cy="2221.5" r="7.0"/><circle cx="1939.9" cy="2221.5" r="7.0"/><circle cx="1943.8" cy="2221.5" r="7.0"/><circle cx="1947.7" cy="2221.5" r="7.0"/><circle cx="1960.8" cy="2221.5" r="7.0"/><circle cx="1976.6" cy="2221.5" r="7.0"/><circle cx="1981.3" cy="2221.5" r="7.0"/><circle cx="1985.9" cy="2221.5" r="7.0"/><circle cx="1989.6" cy="2221.5" r="7.0"/><circle cx="2009.2" cy="2221.5" r="7.0"/><circle cx="2022.3" cy="2221.5" r="7.0"/><circle cx="2026.9" cy="2221.5" r="7.0"/><circle cx="2032.5" cy="2221.5" r="7.0"/><circle cx="2048.3" cy="2221.5" r="7.0"/><circle cx="2059.5" cy="2221.5" r="7.0"/><circle cx="2069.8" cy="2221.5" r="7.0"/><circle cx="2069.8" cy="2184.8" r="7.0"/><circle cx="2069.8" cy="2156.9" r="7.0"/><circle cx="2069.8" cy="2092.3" r="7.0"/><circle cx="2069.8" cy="2089.4" r="7.0"/><circle cx="2069.8" cy="1957.3" r="7.0"/><circle cx="2069.8" cy="1949.9" r="7.0"/><circle cx="2069.8" cy="1716.5" r="7.0"/><circle cx="2069.8" cy="1697.4" r="7.0"/><circle cx="2069.8" cy="1690.1" r="7.0"/><circle cx="2069.8" cy="1685.7" r="7.0"/><circle cx="2069.8" cy="1676.9" r="7.0"/><circle cx="2069.8" cy="1553.6" r="7.0"/><circle cx="2069.8" cy="1541.8" r="7.0"/><circle cx="2069.8" cy="1428.8" r="7.0"/><circle cx="1629.1" cy="2197.3" r="7.0"/></g>
<g fill="none" stroke="#000" stroke-opacity="0.8" stroke-width="2.8"><circle cx="281.1" cy="2098.2" r="7.0"/><circle cx="281.1" cy="2133.4" r="7.0"/><circle cx="281.1" cy="2146.6" r="7.0"/><circle cx="281.1" cy="2177.5" r="7.0"/><circle cx="281.1" cy="2192.1" r="7.0"/><circle cx="280.6" cy="2202.4" r="7.0"/><circle cx="281.4" cy="2206.2" r="7.0"/><circle cx="281.3" cy="2210" r="7.0"/><circle cx="281.1" cy="2213.9" r="7.0"/><circle cx="281.3" cy="2217.7" r="7.0"/><circle cx="283.6" cy="2219.9" r="7.0"/><circle cx="281.2" cy="2217.7" r="7.0"/><circle cx="281.1" cy="2215.8" r="7.0"/><circle cx="287.9" cy="2220.5" r="7.0"/><circle cx="289.7" cy="2220.9" r="7.0"/><circle cx="282" cy="2214.5" r="7.0"/><circle cx="283.4" cy="2215.6" r="7.0"/><circle cx="284.4" cy="2220.1" r="7.0"/><circle cx="281.6" cy="2218.4" r="7.0"/><circle cx="282.5" cy="2219.5" r="7.0"/><circle cx="283.9" cy="2220.4" r="7.0"/><circle cx="285.5" cy="2221" r="7.0"/><circle cx="287.4" cy="2221.4" r="7.0"/><circle cx="289.5" cy="2221.5" r="7.0"/><circle cx="292.3" cy="2221.5" r="7.0"/><circle cx="303.5" cy="2221.5" r="7.0"/><circle cx="319.3" cy="2221.5" r="7.0"/><circle cx="358.4" cy="2221.5" r="7.0"/><circle cx="502.8" cy="2221.5" r="7.0"/><circle cx="502.8" cy="2058.6" r="7.0"/><circle cx="503.9" cy="2144" r="7.0"/><circle cx="503.7" cy="2149.6" r="7.0"/><circle cx="502.4" cy="2211.2" r="7.0"/><circle cx="502.6" cy="2214.6" r="7.0"/><circle cx="502.6" cy="2218.1" r="7.0"/><circle cx="503.2" cy="2217.8" r="7.0"/><circle cx="503.9" cy="2218.4" r="7.0"/><circle cx="504.9" cy="2219" r="7.0"/><circle cx="506.2" cy="2219.5" r="7.0"/><circle cx="507.6" cy="2220" r="7.0"/><circle cx="509.3" cy="2220.4" r="7.0"/><circle cx="511.1" cy="2220.7" r="7.0"/><circle cx="513" cy="2221" r="7.0"/><circle cx="515.2" cy="2221.2" r="7.0"/><circle cx="517.4" cy="2221.4" r="7.0"/><circle cx="519.8" cy="2221.5" r="7.0"/><circle cx="522.4" cy="2221.5" r="7.0"/><circle cx="533.6" cy="2221.5" r="7.0"/><circle cx="560.6" cy="2221.5" r="7.0"/><circle cx="585.7" cy="2221.5" r="7.0"/><circle cx="727.3" cy="2221.5" r="7.0"/><circle cx="727.3" cy="2046.8" r="7.0"/><circle cx="727.3" cy="2070.3" r="7.0"/><circle cx="727.3" cy="2120.2" r="7.0"/><circle cx="727.3" cy="2173.1" r="7.0"/><circle cx="727.3" cy="2202.4" r="7.0"/><circle cx="727.6" cy="2209.8" r="7.0"/><circle cx="727.7" cy="2213.7" r="7.0"/><circle cx="727.6" cy="2217.6" r="7.0"/><circle cx="728.4" cy="2218.3" r="7.0"/><circle cx="729.4" cy="2218.8" r="7.0"/><circle cx="730.6" cy="2219.3" r="7.0"/><circle cx="732" cy="2219.7" r="7.0"/><circle cx="733.6" cy="2220.1" r="7.0"/><circle cx="735.3" cy="2220.4" r="7.0"/><circle cx="737.2" cy="2220.7" r="7.0"/><circle cx="739.3" cy="2220.9" r="7.0"/><circle cx="741.5" cy="2221.1" r="7.0"/><circle cx="743.8" cy="2221.3" r="7.0"/><circle cx="746.3" cy="2221.4" r="7.0"/><circle cx="748.8" cy="2221.5" r="7.0"/><circle cx="751.6" cy="2221.5" r="7.0"/><circle cx="770.2" cy="2221.5" r="7.0"/><circle cx="803.7" cy="2221.5" r="7.0"/><circle cx="817.7" cy="2221.5" r="7.0"/><circle cx="886.6" cy="2221.5" r="7.0"/><circle cx="950.9" cy="2221.5" r="7.0"/><circle cx="950.9" cy="2033.6" r="7.0"/><circle cx="950.9" cy="2061.5" r="7.0"/><circle cx="951.8" cy="2092.6" r="7.0"/><circle cx="950.3" cy="2095.1" r="7.0"/><circle cx="951.2" cy="2091.6" r="7.0"/><circle cx="951.3" cy="2096.2" r="7.0"/><circle cx="950.9" cy="2108.5" r="7.0"/><circle cx="950.9" cy="2133.4" r="7.0"/><circle cx="950.9" cy="2151" r="7.0"/><circle cx="950.9" cy="2159.8" r="7.0"/><circle cx="950.9" cy="2173.1" r="7.0"/><circle cx="950.9" cy="2186.3" r="7.0"/><circle cx="951.4" cy="2206.8" r="7.0"/><circle cx="950.9" cy="2210.5" r="7.0"/><circle cx="951.2" cy="2214.2" r="7.0"/><circle cx="951.1" cy="2217.8" r="7.0"/><circle cx="951.2" cy="2217.7" r="7.0"/><circle cx="951.9" cy="2218.3" r="7.0"/><circle cx="952.7" cy="2218.8" r="7.0"/><circle cx="953.8" cy="2219.3" r="7.0"/><circle cx="955" cy="2219.7" r="7.0"/><circle cx="956.4" cy="2220.1" r="7.0"/><circle cx="958" cy="2220.4" r="7.0"/><circle cx="959.7" cy="2220.7" r="7.0"/><circle cx="961.5" cy="2220.9" r="7.0"/><circle cx="963.4" cy="2221.1" r="7.0"/><circle cx="965.5" cy="2221.3" r="7.0"/><circle cx="967.7" cy="2221.4" r="7.0"/><circle cx="969.9" cy="2221.5" r="7.0"/><circle cx="972.3" cy="2221.5" r="7.0"/><circle cx="986.3" cy="2221.5" r="7.0"/><circle cx="989.1" cy="2221.5" r="7.0"/><circle cx="991.9" cy="2221.5" r="7.0"/><circle cx="1023.6" cy="2221.5" r="7.0"/><circle cx="1047.8" cy="2221.5" r="7.0"/><circle cx="1083.2" cy="2221.5" r="7.0"/><circle cx="1173.6" cy="2221.5" r="7.0"/><circle cx="1173.6" cy="2005.7" r="7.0"/><circle cx="1173.4" cy="2086.1" r="7.0"/><circle cx="1173.7" cy="2087.9" r="7.0"/><circle cx="1173.6" cy="2115.8" r="7.0"/><circle cx="1173.6" cy="2129" r="7.0"/><circle cx="1173.6" cy="2133.4" r="7.0"/><circle cx="1173.6" cy="2156.9" r="7.0"/><circle cx="1173.6" cy="2196.5" r="7.0"/><circle cx="1173.4" cy="2209.8" r="7.0"/><circle cx="1173.3" cy="2213.7" r="7.0"/><circle cx="1173.7" cy="2217.6" r="7.0"/><circle cx="1173.9" cy="2217.6" r="7.0"/><circle cx="1174.5" cy="2218.1" r="7.0"/><circle cx="1175.4" cy="2218.6" r="7.0"/><circle cx="1176.5" cy="2219" r="7.0"/><circle cx="1177.8" cy="2219.4" r="7.0"/><circle cx="1179.2" cy="2219.8" r="7.0"/><circle cx="1180.8" cy="2220.1" r="7.0"/><circle cx="1182.5" cy="2220.4" r="7.0"/><circle cx="1184.3" cy="2220.7" r="7.0"/><circle cx="1186.3" cy="2220.9" r="7.0"/><circle cx="1188.4" cy="2221.1" r="7.0"/><circle cx="1190.6" cy="2221.2" r="7.0"/><circle cx="1192.9" cy="2221.3" r="7.0"/><circle cx="1195.4" cy="2221.4" r="7.0"/><circle cx="1197.9" cy="2221.5" r="7.0"/><circle cx="1200.6" cy="2221.5" r="7.0"/><circle cx="1232.3" cy="2221.5" r="7.0"/><circle cx="1243.4" cy="2221.5" r="7.0"/><circle cx="1323.6" cy="2221.5" r="7.0"/><circle cx="1326.4" cy="2221.5" r="7.0"/><circle cx="1329.1" cy="2221.5" r="7.0"/><circle cx="1398.1" cy="2221.5" r="7.0"/><circle cx="1398.1" cy="1977.8" r="7.0"/><circle cx="1398.1" cy="2099.7" r="7.0"/><circle cx="1398.1" cy="2140.8" r="7.0"/><circle cx="1398.1" cy="2159.8" r="7.0"/><circle cx="1398.1" cy="2181.9" r="7.0"/><circle cx="1398.1" cy="2202.4" r="7.0"/><circle cx="1397.7" cy="2206.8" r="7.0"/><circle cx="1398.5" cy="2210.5" r="7.0"/><circle cx="1397.8" cy="2214.2" r="7.0"/><circle cx="1397.6" cy="2217.8" r="7.0"/><circle cx="1398.4" cy="2217.6" r="7.0"/><circle cx="1399.1" cy="2218.1" r="7.0"/><circle cx="1399.9" cy="2218.6" r="7.0"/><circle cx="1401" cy="2219" r="7.0"/><circle cx="1402.3" cy="2219.4" r="7.0"/><circle cx="1403.7" cy="2219.8" r="7.0"/><circle cx="1405.3" cy="2220.1" r="7.0"/><circle cx="1407" cy="2220.4" r="7.0"/><circle cx="1408.8" cy="2220.7" r="7.0"/><circle cx="1410.8" cy="2220.9" r="7.0"/><circle cx="1412.9" cy="2221.1" r="7.0"/><circle cx="1415.1" cy="2221.2" r="7.0"/><circle cx="1417.5" cy="2221.3" r="7.0"/><circle cx="1419.9" cy="2221.4" r="7.0"/><circle cx="1422.4" cy="2221.5" r="7.0"/><circle cx="1425.1" cy="2221.5" r="7.0"/><circle cx="1445.6" cy="2221.5" r="7.0"/><circle cx="1466.1" cy="2221.5" r="7.0"/><circle cx="1471.7" cy="2221.5" r="7.0"/><circle cx="1494" cy="2221.5" r="7.0"/><circle cx="1522.9" cy="2221.5" r="7.0"/><circle cx="1568.6" cy="2221.5" r="7.0"/><circle cx="1590.9" cy="2221.5" r="7.0"/><circle cx="1621.7" cy="2221.5" r="7.0"/><circle cx="1621.7" cy="1894.1" r="7.0"/><circle cx="1621.7" cy="2010.1" r="7.0"/><circle cx="1621.7" cy="2114.3" r="7.0"/><circle cx="1621.7" cy="2129" r="7.0"/><circle cx="1621.7" cy="2143.7" r="7.0"/><circle cx="1621.7" cy="2151" r="7.0"/><circle cx="1622.6" cy="2202.5" r="7.0"/><circle cx="1620.9" cy="2199.3" r="7.0"/><circle cx="1620.6" cy="2203.5" r="7.0"/><circle cx="1621.8" cy="2203.9" r="7.0"/><circle cx="1621.8" cy="2208.3" r="7.0"/><circle cx="1621.9" cy="2212.7" r="7.0"/><circle cx="1621.9" cy="2217.1" r="7.0"/><circle cx="1621.9" cy="2217.5" r="7.0"/><circle cx="1622.4" cy="2217.9" r="7.0"/><circle cx="1623.1" cy="2218.3" r="7.0"/><circle cx="1624" cy="2218.7" r="7.0"/><circle cx="1625" cy="2219" r="7.0"/><circle cx="1626.1" cy="2219.3" r="7.0"/><circle cx="1627.4" cy="2219.6" r="7.0"/><circle cx="1628.8" cy="2219.9" r="7.0"/><circle cx="1630.2" cy="2220.2" r="7.0"/><circle cx="1631.8" cy="2220.4" r="7.0"/><circle cx="1633.5" cy="2220.6" r="7.0"/><circle cx="1635.2" cy="2220.8" r="7.0"/><circle cx="1637.1" cy="2221" r="7.0"/><circle cx="1639" cy="2221.1" r="7.0"/><circle cx="1641.1" cy="2221.2" r="7.0"/><circle cx="1643.2" cy="2221.3" r="7.0"/><circle cx="1645.4" cy="2221.4" r="7.0"/><circle cx="1647.6" cy="2221.5" r="7.0"/><circle cx="1650" cy="2221.5" r="7.0"/><circle cx="1652.4" cy="2221.5" r="7.0"/><circle cx="1666.4" cy="2221.5" r="7.0"/><circle cx="1670.1" cy="2221.5" r="7.0"/><circle cx="1673.8" cy="2221.5" r="7.0"/><circle cx="1677.6" cy="2221.5" r="7.0"/><circle cx="1688.7" cy="2221.5" r="7.0"/><circle cx="1702.7" cy="2221.5" r="7.0"/><circle cx="1706.4" cy="2221.5" r="7.0"/><circle cx="1726" cy="2221.5" r="7.0"/><circle cx="1754" cy="2221.5" r="7.0"/><circle cx="1758.6" cy="2221.5" r="7.0"/><circle cx="1763.3" cy="2221.5" r="7.0"/><circle cx="1805.2" cy="2221.5" r="7.0"/><circle cx="1845.3" cy="2221.5" r="7.0"/><circle cx="1845.3" cy="1762" r="7.0"/><circle cx="1845.3" cy="1973.4" r="7.0"/><circle cx="1845.3" cy="1986.6" r="7.0"/><circle cx="1845.5" cy="2060.6" r="7.0"/><circle cx="1846" cy="2056.7" r="7.0"/><circle cx="1846.1" cy="2090.3" r="7.0"/><circle cx="1846.1" cy="2100.3" r="7.0"/><circle cx="1845.3" cy="2139.3" r="7.0"/><circle cx="1845.3" cy="2159.8" r="7.0"/><circle cx="1845.3" cy="2173.1" r="7.0"/><circle cx="1845.3" cy="2195.1" r="7.0"/><circle cx="1845.6" cy="2198" r="7.0"/><circle cx="1845.7" cy="2201.9" r="7.0"/><circle cx="1844.9" cy="2205.8" r="7.0"/><circle cx="1845" cy="2209.8" r="7.0"/><circle cx="1844.9" cy="2213.7" r="7.0"/><circle cx="1844.8" cy="2217.6" r="7.0"/><circle cx="1854" cy="2220.7" r="7.0"/><circle cx="1850.1" cy="2218.4" r="7.0"/><circle cx="1850.1" cy="2220.4" r="7.0"/><circle cx="1845.4" cy="2219.5" r="7.0"/><circle cx="1852.2" cy="2221.1" r="7.0"/><circle cx="1846.5" cy="2215.7" r="7.0"/><circle cx="1845.3" cy="2216.1" r="7.0"/><circle cx="1846.2" cy="2210.8" r="7.0"/><circle cx="1846.9" cy="2217.7" r="7.0"/><circle cx="1856.5" cy="2221.3" r="7.0"/><circle cx="1854" cy="2220.9" r="7.0"/><circle cx="1845.3" cy="2212.8" r="7.0"/><circle cx="1845.4" cy="2217.4" r="7.0"/><circle cx="1845.8" cy="2217.7" r="7.0"/><circle cx="1846.4" cy="2218" r="7.0"/><circle cx="1847" cy="2218.3" r="7.0"/><circle cx="1847.8" cy="2218.5" r="7.0"/><circle cx="1848.7" cy="2218.8" r="7.0"/><circle cx="1849.6" cy="2219" r="7.0"/><circle cx="1850.6" cy="2219.3" r="7.0"/><circle cx="1851.8" cy="2219.5" r="7.0"/><circle cx="1853" cy="2219.7" r="7.0"/><circle cx="1854.2" cy="2219.9" r="7.0"/><circle cx="1855.6" cy="2220.1" r="7.0"/><circle cx="1857" cy="2220.2" r="7.0"/><circle cx="1858.5" cy="2220.4" r="7.0"/><circle cx="1860" cy="2220.6" r="7.0"/><circle cx="1861.6" cy="2220.7" r="7.0"/><circle cx="1863.3" cy="2220.8" r="7.0"/><circle cx="1865" cy="2220.9" r="7.0"/><circle cx="1866.8" cy="2221" r="7.0"/><circle cx="1868.6" cy="2221.1" r="7.0"/><circle cx="1870.5" cy="2221.2" r="7.0"/><circle cx="1872.5" cy="2221.3" r="7.0"/><circle cx="1874.5" cy="2221.4" r="7.0"/><circle cx="1876.6" cy="2221.4" r="7.0"/><circle cx="1878.7" cy="2221.4" r="7.0"/><circle cx="1880.8" cy="2221.5" r="7.0"/><circle cx="1883" cy="2221.5" r="7.0"/><circle cx="1885.3" cy="2221.5" r="7.0"/><circle cx="1889" cy="2221.5" r="7.0"/><circle cx="1892.9" cy="2221.5" r="7.0"/><circle cx="1896.9" cy="2221.5" r="7.0"/><circle cx="1900.8" cy="2221.5" r="7.0"/><circle cx="1904.7" cy="2221.5" r="7.0"/><circle cx="1908.6" cy="2221.5" r="7.0"/><circle cx="1912.5" cy="2221.5" r="7.0"/><circle cx="1916.4" cy="2221.5" r="7.0"/><circle cx="1920.3" cy="2221.5" r="7.0"/><circle cx="1924.3" cy="2221.5" r="7.0"/><circle cx="1928.2" cy="2221.5" r="7.0"/><circle cx="1932.1" cy="2221.5" r="7.0"/><circle cx="1936" cy="2221.5" r="7.0"/><circle cx="1939.9" cy="2221.5" r="7.0"/><circle cx="1943.8" cy="2221.5" r="7.0"/><circle cx="1947.7" cy="2221.5" r="7.0"/><circle cx="1960.8" cy="2221.5" r="7.0"/><circle cx="1976.6" cy="2221.5" r="7.0"/><circle cx="1981.3" cy="2221.5" r="7.0"/><circle cx="1985.9" cy="2221.5" r="7.0"/><circle cx="1989.6" cy="2221.5" r="7.0"/><circle cx="2009.2" cy="2221.5" r="7.0"/><circle cx="2022.3" cy="2221.5" r="7.0"/><circle cx="2026.9" cy="2221.5" r="7.0"/><circle cx="2032.5" cy="2221.5" r="7.0"/><circle cx="2048.3" cy="2221.5" r="7.0"/><circle cx="2059.5" cy="2221.5" r="7.0"/><circle cx="2069.8" cy="2221.5" r="7.0"/><circle cx="2069.8" cy="2184.8" r="7.0"/><circle cx="2069.8" cy="2156.9" r="7.0"/><circle cx="2069.8" cy="2092.3" r="7.0"/><circle cx="2069.8" cy="2089.4" r="7.0"/><circle cx="2069.8" cy="1957.3" r="7.0"/><circle cx="2069.8" cy="1949.9" r="7.0"/><circle cx="2069.8" cy="1716.5" r="7.0"/><circle cx="2069.8" cy="1697.4" r="7.0"/><circle cx="2069.8" cy="1690.1" r="7.0"/><circle cx="2069.8" cy="1685.7" r="7.0"/><circle cx="2069.8" cy="1676.9" r="7.0"/><circle cx="2069.8" cy="1553.6" r="7.0"/><circle cx="2069.8" cy="1541.8" r="7.0"/><circle cx="2069.8" cy="1428.8" r="7.0"/><circle cx="1629.1" cy="2197.3" r="7.0"/></g>
</g>
<g stroke="#2b2b2b" fill="none">
<path d="M296.2 1340.7 H278.2 V2366.5 H2290.6 V2348.5" stroke-width="5.2" stroke-linejoin="round"/>
<path d="M278.2 2221.5h18M278.2 2074.7h18M278.2 1927.9h18M278.2 1781.1h18M278.2 1634.3h18M278.2 1487.5h18M501.9 2366.5v-18M725.5 2366.5v-18M949.1 2366.5v-18M1172.6 2366.5v-18M1396.2 2366.5v-18M1619.8 2366.5v-18M1843.4 2366.5v-18M2067 2366.5v-18" stroke-width="4.6"/>
</g>
<rect x="382.6" y="1433.7" width="128.6" height="77.5" rx="1.5" fill="#fff" stroke="#858585" stroke-width="4"/>
<text class="an" transform="translate(447 1493.1) scale(1 1.04)" font-size="53.8" font-weight="bold" text-anchor="middle">2.16</text>
<rect x="328" y="2050.3" width="127" height="75.5" rx="1.5" fill="#fff" stroke="#858585" stroke-width="4"/>
<text class="an" transform="translate(391.5 2109.1) scale(1 1.04)" font-size="53.8" font-weight="bold" text-anchor="middle">2.16</text>
<rect x="553" y="2051.8" width="127" height="75.5" rx="1.5" fill="#fff" stroke="#858585" stroke-width="4"/>
<text class="an" transform="translate(616.5 2110.6) scale(1 1.04)" font-size="53.8" font-weight="bold" text-anchor="middle">2.59</text>
<rect x="774.5" y="2035.3" width="127" height="75.5" rx="1.5" fill="#fff" stroke="#858585" stroke-width="4"/>
<text class="an" transform="translate(838 2094.1) scale(1 1.04)" font-size="53.8" font-weight="bold" text-anchor="middle">3.03</text>
<rect x="995" y="2021.3" width="127" height="75.5" rx="1.5" fill="#fff" stroke="#858585" stroke-width="4"/>
<text class="an" transform="translate(1058.5 2080.1) scale(1 1.04)" font-size="53.8" font-weight="bold" text-anchor="middle">3.46</text>
<rect x="1220.5" y="1996.8" width="127" height="75.5" rx="1.5" fill="#fff" stroke="#858585" stroke-width="4"/>
<text class="an" transform="translate(1284 2055.6) scale(1 1.04)" font-size="53.8" font-weight="bold" text-anchor="middle">3.89</text>
<rect x="1440" y="1966.8" width="127" height="75.5" rx="1.5" fill="#fff" stroke="#858585" stroke-width="4"/>
<text class="an" transform="translate(1503.5 2025.6) scale(1 1.04)" font-size="53.8" font-weight="bold" text-anchor="middle">4.32</text>
<rect x="1664.5" y="1887.8" width="127" height="75.5" rx="1.5" fill="#fff" stroke="#858585" stroke-width="4"/>
<text class="an" transform="translate(1728 1946.6) scale(1 1.04)" font-size="53.8" font-weight="bold" text-anchor="middle">4.76</text>
<rect x="1891.5" y="1748.3" width="127" height="75.5" rx="1.5" fill="#fff" stroke="#858585" stroke-width="4"/>
<text class="an" transform="translate(1955 1807.1) scale(1 1.04)" font-size="53.8" font-weight="bold" text-anchor="middle">5.19</text>
<rect x="2089.5" y="1576.8" width="127" height="75.5" rx="1.5" fill="#fff" stroke="#858585" stroke-width="4"/>
<text class="an" transform="translate(2153 1635.6) scale(1 1.04)" font-size="53.8" font-weight="bold" text-anchor="middle">5.61</text>
<text transform="translate(206.5 3675.5) scale(1 1.05)" font-size="62" font-weight="bold" text-anchor="end">-1</text>
<text transform="translate(206.5 3546.2) scale(1 1.05)" font-size="62" font-weight="bold" text-anchor="end">0</text>
<text transform="translate(206.5 3416.9) scale(1 1.05)" font-size="62" font-weight="bold" text-anchor="end">1</text>
<text transform="translate(206.5 3287.6) scale(1 1.05)" font-size="62" font-weight="bold" text-anchor="end">2</text>
<text transform="translate(206.5 3158.3) scale(1 1.05)" font-size="62" font-weight="bold" text-anchor="end">3</text>
<text transform="translate(206.5 3029) scale(1 1.05)" font-size="62" font-weight="bold" text-anchor="end">4</text>
<text transform="translate(206.5 2899.8) scale(1 1.05)" font-size="62" font-weight="bold" text-anchor="end">5</text>
<text transform="translate(206.5 2770.5) scale(1 1.05)" font-size="62" font-weight="bold" text-anchor="end">6</text>
<text transform="translate(206.5 2641.2) scale(1 1.05)" font-size="62" font-weight="bold" text-anchor="end">7</text>
<text transform="translate(270.3 3752) scale(1 1.05)" font-size="62" font-weight="bold" text-anchor="middle">0</text>
<text transform="translate(494 3752) scale(1 1.05)" font-size="62" font-weight="bold" text-anchor="middle">24</text>
<text transform="translate(717.6 3752) scale(1 1.05)" font-size="62" font-weight="bold" text-anchor="middle">48</text>
<text transform="translate(941.3 3752) scale(1 1.05)" font-size="62" font-weight="bold" text-anchor="middle">72</text>
<text transform="translate(1165 3752) scale(1 1.05)" font-size="62" font-weight="bold" text-anchor="middle">96</text>
<text transform="translate(1388.6 3752) scale(1 1.05)" font-size="62" font-weight="bold" text-anchor="middle">120</text>
<text transform="translate(1612.3 3752) scale(1 1.05)" font-size="62" font-weight="bold" text-anchor="middle">144</text>
<text transform="translate(1836 3752) scale(1 1.05)" font-size="62" font-weight="bold" text-anchor="middle">168</text>
<text transform="translate(2059.7 3752) scale(1 1.05)" font-size="62" font-weight="bold" text-anchor="middle">192</text>
<text transform="translate(2283.3 3752) scale(1 1.05)" font-size="62" font-weight="bold" text-anchor="middle">216</text>
<text transform="translate(1265.5 3824)" font-size="62" font-weight="bold" text-anchor="middle">t (h)</text>
<text transform="translate(129 3164) rotate(-90)" font-size="62" font-weight="bold" text-anchor="middle">Creep rate (mm/h)</text>
<text transform="translate(37 2644)" font-size="84">(c)</text>
<text class="an" transform="translate(399.5 2679) scale(1 1.02)" font-size="54.099999999999994" font-weight="bold">No. p-c-3</text>
<text class="an" transform="translate(543.5 2775.5) scale(1 1.02)" font-size="54.099999999999994" font-weight="bold">Constant shear stress (MPa)</text>
<g filter="url(#db)">
<polyline points="279.8,3489.9 279.7,3491 279.2,3509.9 279.2,3518.9 278.9,3521.5 279.5,3524.1 279.7,3524.2 280.7,3525.3 282,3526.1 283.6,3526.5 285.5,3526.7 292,3526.7 316.2,3526.7 327.4,3526.7 331.1,3526.7 384.2,3526.7 456,3526.7 501.6,3526.7 501.6,3310.8 502.3,3358.2 500.5,3357.3 501.6,3370.3 501.6,3387.1 502.2,3413.2 500.5,3404.1 501.6,3409.8 501.6,3437.5 500.9,3447 501.3,3450.5 501.6,3469.2 501.6,3481.4 501.9,3513.8 501.4,3517 502,3520.2 501.4,3523.5 502,3523.7 502.9,3524.5 504.1,3525.2 505.6,3525.7 507.3,3526.2 509.3,3526.5 511.4,3526.6 513.7,3526.7 516.5,3526.7 520.2,3526.7 524,3526.7 527.7,3526.7 534.2,3526.7 557.5,3526.7 562.2,3526.7 566.8,3526.7 652.5,3526.7 726.1,3526.7 726.1,3304.3 726.1,3468.5 726.1,3498.3 725.9,3516.4 726.3,3519.8 726.1,3523.3 726.6,3523.7 727.5,3524.5 728.7,3525.2 730.1,3525.7 731.9,3526.2 733.8,3526.5 735.9,3526.6 738.3,3526.7 742,3526.7 746.6,3526.7 751.3,3526.7 782,3526.7 822.1,3526.7 917.1,3526.7 950.7,3526.7 950.7,3296.6 950.7,3416.8 951,3456.9 951.3,3457.2 950.7,3506 950.9,3516.4 951,3519.8 950.8,3523.3 951.1,3523.7 951.9,3524.5 953,3525.2 954.4,3525.7 956,3526.2 957.7,3526.5 959.7,3526.6 961.9,3526.7 969.3,3526.7 998.2,3526.7 1036.4,3526.7 1060.6,3526.7 1130.5,3526.7 1173.4,3526.7 1173.4,3233.2 1173.4,3490.5 1173.4,3507.3 1173.2,3513.8 1173.3,3517 1173.3,3520.2 1173.7,3523.5 1173.8,3523.6 1174.6,3524.2 1175.7,3524.8 1177,3525.3 1178.6,3525.7 1180.4,3526.1 1182.3,3526.4 1184.4,3526.5 1186.7,3526.7 1189.2,3526.7 1206,3526.7 1233.9,3526.7 1278.6,3526.7 1293.6,3526.7 1384.9,3526.7 1397,3526.7 1397,3203.5 1397,3500.8 1397,3504.7 1397,3508.6 1396.6,3511.2 1397.3,3515.1 1396.5,3518.9 1396.7,3522.8 1397.3,3523.4 1397.9,3523.9 1398.8,3524.3 1399.9,3524.7 1401.1,3525.1 1402.5,3525.4 1404,3525.7 1405.7,3526 1407.5,3526.2 1409.5,3526.4 1411.5,3526.5 1413.7,3526.6 1416,3526.7 1418.4,3526.7 1424,3526.7 1438.9,3526.7 1464.1,3526.7 1621.5,3526.7 1621.5,3084.5 1621.5,3409.7 1621.5,3458.2 1621.5,3487.9 1621.5,3498.3 1621.3,3500.8 1621.9,3504.1 1621.5,3507.3 1621.4,3510.5 1621.9,3513.8 1621.3,3517 1621.5,3520.2 1621.5,3523.5 1628.4,3525.2 1626.6,3525.4 1622.8,3524.4 1630.1,3526 1628.2,3526.3 1623.8,3518.9 1625.6,3526 1624.1,3518.5 1621.6,3523.1 1621.9,3523.4 1622.2,3523.7 1622.6,3523.9 1623,3524.2 1623.6,3524.4 1624.1,3524.6 1624.8,3524.8 1625.4,3525 1626.2,3525.2 1626.9,3525.4 1627.7,3525.6 1628.6,3525.7 1629.5,3525.9 1630.4,3526 1631.4,3526.1 1632.4,3526.2 1633.4,3526.3 1634.5,3526.4 1635.6,3526.5 1636.7,3526.6 1637.9,3526.6 1639.1,3526.6 1640.4,3526.7 1641.6,3526.7 1642.9,3526.7 1645.7,3526.7 1648.8,3526.7 1651.9,3526.7 1655,3526.7 1658,3526.7 1661.1,3526.7 1664.2,3526.7 1667.3,3526.7 1670.3,3526.7 1673.4,3526.7 1676.5,3526.7 1679.6,3526.7 1682.6,3526.7 1690.5,3526.7 1696,3526.7 1702.6,3526.7 1708.2,3526.7 1716.5,3526.7 1723.1,3526.7 1733.3,3526.7 1740.8,3526.7 1763.1,3526.7 1779.9,3526.7 1788.3,3526.7 1796.7,3526.7 1806,3526.7 1828.3,3526.7 1842.3,3526.7 1845.1,3526.7 1845.1,3482.1 1845.1,3469.2 1845.1,3450.4 1845.1,3433.6 1844.4,3414.7 1845.6,3413.9 1845.1,3371.6 1844.3,3287.4 1844.6,3295.4 1845.2,3293.4 1844.7,3295.3 1846.2,3295 1845.1,3066.4 1845.1,3047 1845.1,2836.3 1845.1,2809.1" fill="none" stroke="#444" stroke-width="4.8" stroke-linejoin="round"/>
<g fill="#fff" fill-opacity="0.2" stroke="none"><circle cx="279.8" cy="3489.9" r="7.0"/><circle cx="279.7" cy="3491" r="7.0"/><circle cx="279.2" cy="3509.9" r="7.0"/><circle cx="279.2" cy="3518.9" r="7.0"/><circle cx="278.9" cy="3521.5" r="7.0"/><circle cx="279.5" cy="3524.1" r="7.0"/><circle cx="280.7" cy="3525.3" r="7.0"/><circle cx="282" cy="3526.1" r="7.0"/><circle cx="283.6" cy="3526.5" r="7.0"/><circle cx="285.5" cy="3526.7" r="7.0"/><circle cx="292" cy="3526.7" r="7.0"/><circle cx="316.2" cy="3526.7" r="7.0"/><circle cx="327.4" cy="3526.7" r="7.0"/><circle cx="331.1" cy="3526.7" r="7.0"/><circle cx="384.2" cy="3526.7" r="7.0"/><circle cx="456" cy="3526.7" r="7.0"/><circle cx="501.6" cy="3526.7" r="7.0"/><circle cx="501.6" cy="3310.8" r="7.0"/><circle cx="502.3" cy="3358.2" r="7.0"/><circle cx="500.5" cy="3357.3" r="7.0"/><circle cx="501.6" cy="3370.3" r="7.0"/><circle cx="501.6" cy="3387.1" r="7.0"/><circle cx="502.2" cy="3413.2" r="7.0"/><circle cx="500.5" cy="3404.1" r="7.0"/><circle cx="501.6" cy="3409.8" r="7.0"/><circle cx="501.6" cy="3437.5" r="7.0"/><circle cx="500.9" cy="3447" r="7.0"/><circle cx="501.3" cy="3450.5" r="7.0"/><circle cx="501.6" cy="3469.2" r="7.0"/><circle cx="501.6" cy="3481.4" r="7.0"/><circle cx="501.9" cy="3513.8" r="7.0"/><circle cx="501.4" cy="3517" r="7.0"/><circle cx="502" cy="3520.2" r="7.0"/><circle cx="501.4" cy="3523.5" r="7.0"/><circle cx="502" cy="3523.7" r="7.0"/><circle cx="502.9" cy="3524.5" r="7.0"/><circle cx="504.1" cy="3525.2" r="7.0"/><circle cx="505.6" cy="3525.7" r="7.0"/><circle cx="507.3" cy="3526.2" r="7.0"/><circle cx="509.3" cy="3526.5" r="7.0"/><circle cx="511.4" cy="3526.6" r="7.0"/><circle cx="513.7" cy="3526.7" r="7.0"/><circle cx="516.5" cy="3526.7" r="7.0"/><circle cx="520.2" cy="3526.7" r="7.0"/><circle cx="524" cy="3526.7" r="7.0"/><circle cx="527.7" cy="3526.7" r="7.0"/><circle cx="534.2" cy="3526.7" r="7.0"/><circle cx="557.5" cy="3526.7" r="7.0"/><circle cx="562.2" cy="3526.7" r="7.0"/><circle cx="566.8" cy="3526.7" r="7.0"/><circle cx="652.5" cy="3526.7" r="7.0"/><circle cx="726.1" cy="3526.7" r="7.0"/><circle cx="726.1" cy="3304.3" r="7.0"/><circle cx="726.1" cy="3468.5" r="7.0"/><circle cx="726.1" cy="3498.3" r="7.0"/><circle cx="725.9" cy="3516.4" r="7.0"/><circle cx="726.3" cy="3519.8" r="7.0"/><circle cx="726.1" cy="3523.3" r="7.0"/><circle cx="726.6" cy="3523.7" r="7.0"/><circle cx="727.5" cy="3524.5" r="7.0"/><circle cx="728.7" cy="3525.2" r="7.0"/><circle cx="730.1" cy="3525.7" r="7.0"/><circle cx="731.9" cy="3526.2" r="7.0"/><circle cx="733.8" cy="3526.5" r="7.0"/><circle cx="735.9" cy="3526.6" r="7.0"/><circle cx="738.3" cy="3526.7" r="7.0"/><circle cx="742" cy="3526.7" r="7.0"/><circle cx="746.6" cy="3526.7" r="7.0"/><circle cx="751.3" cy="3526.7" r="7.0"/><circle cx="782" cy="3526.7" r="7.0"/><circle cx="822.1" cy="3526.7" r="7.0"/><circle cx="917.1" cy="3526.7" r="7.0"/><circle cx="950.7" cy="3526.7" r="7.0"/><circle cx="950.7" cy="3296.6" r="7.0"/><circle cx="950.7" cy="3416.8" r="7.0"/><circle cx="951" cy="3456.9" r="7.0"/><circle cx="951.3" cy="3457.2" r="7.0"/><circle cx="950.7" cy="3506" r="7.0"/><circle cx="950.9" cy="3516.4" r="7.0"/><circle cx="951" cy="3519.8" r="7.0"/><circle cx="950.8" cy="3523.3" r="7.0"/><circle cx="951.9" cy="3524.5" r="7.0"/><circle cx="953" cy="3525.2" r="7.0"/><circle cx="954.4" cy="3525.7" r="7.0"/><circle cx="956" cy="3526.2" r="7.0"/><circle cx="957.7" cy="3526.5" r="7.0"/><circle cx="959.7" cy="3526.6" r="7.0"/><circle cx="961.9" cy="3526.7" r="7.0"/><circle cx="969.3" cy="3526.7" r="7.0"/><circle cx="998.2" cy="3526.7" r="7.0"/><circle cx="1036.4" cy="3526.7" r="7.0"/><circle cx="1060.6" cy="3526.7" r="7.0"/><circle cx="1130.5" cy="3526.7" r="7.0"/><circle cx="1173.4" cy="3526.7" r="7.0"/><circle cx="1173.4" cy="3233.2" r="7.0"/><circle cx="1173.4" cy="3490.5" r="7.0"/><circle cx="1173.4" cy="3507.3" r="7.0"/><circle cx="1173.2" cy="3513.8" r="7.0"/><circle cx="1173.3" cy="3517" r="7.0"/><circle cx="1173.3" cy="3520.2" r="7.0"/><circle cx="1173.7" cy="3523.5" r="7.0"/><circle cx="1173.8" cy="3523.6" r="7.0"/><circle cx="1174.6" cy="3524.2" r="7.0"/><circle cx="1175.7" cy="3524.8" r="7.0"/><circle cx="1177" cy="3525.3" r="7.0"/><circle cx="1178.6" cy="3525.7" r="7.0"/><circle cx="1180.4" cy="3526.1" r="7.0"/><circle cx="1182.3" cy="3526.4" r="7.0"/><circle cx="1184.4" cy="3526.5" r="7.0"/><circle cx="1186.7" cy="3526.7" r="7.0"/><circle cx="1189.2" cy="3526.7" r="7.0"/><circle cx="1206" cy="3526.7" r="7.0"/><circle cx="1233.9" cy="3526.7" r="7.0"/><circle cx="1278.6" cy="3526.7" r="7.0"/><circle cx="1293.6" cy="3526.7" r="7.0"/><circle cx="1384.9" cy="3526.7" r="7.0"/><circle cx="1397" cy="3526.7" r="7.0"/><circle cx="1397" cy="3203.5" r="7.0"/><circle cx="1397" cy="3500.8" r="7.0"/><circle cx="1397" cy="3504.7" r="7.0"/><circle cx="1397" cy="3508.6" r="7.0"/><circle cx="1396.6" cy="3511.2" r="7.0"/><circle cx="1397.3" cy="3515.1" r="7.0"/><circle cx="1396.5" cy="3518.9" r="7.0"/><circle cx="1396.7" cy="3522.8" r="7.0"/><circle cx="1397.3" cy="3523.4" r="7.0"/><circle cx="1397.9" cy="3523.9" r="7.0"/><circle cx="1398.8" cy="3524.3" r="7.0"/><circle cx="1399.9" cy="3524.7" r="7.0"/><circle cx="1401.1" cy="3525.1" r="7.0"/><circle cx="1402.5" cy="3525.4" r="7.0"/><circle cx="1404" cy="3525.7" r="7.0"/><circle cx="1405.7" cy="3526" r="7.0"/><circle cx="1407.5" cy="3526.2" r="7.0"/><circle cx="1409.5" cy="3526.4" r="7.0"/><circle cx="1411.5" cy="3526.5" r="7.0"/><circle cx="1413.7" cy="3526.6" r="7.0"/><circle cx="1416" cy="3526.7" r="7.0"/><circle cx="1418.4" cy="3526.7" r="7.0"/><circle cx="1424" cy="3526.7" r="7.0"/><circle cx="1438.9" cy="3526.7" r="7.0"/><circle cx="1464.1" cy="3526.7" r="7.0"/><circle cx="1621.5" cy="3526.7" r="7.0"/><circle cx="1621.5" cy="3084.5" r="7.0"/><circle cx="1621.5" cy="3409.7" r="7.0"/><circle cx="1621.5" cy="3458.2" r="7.0"/><circle cx="1621.5" cy="3487.9" r="7.0"/><circle cx="1621.5" cy="3498.3" r="7.0"/><circle cx="1621.3" cy="3500.8" r="7.0"/><circle cx="1621.9" cy="3504.1" r="7.0"/><circle cx="1621.5" cy="3507.3" r="7.0"/><circle cx="1621.4" cy="3510.5" r="7.0"/><circle cx="1621.9" cy="3513.8" r="7.0"/><circle cx="1621.3" cy="3517" r="7.0"/><circle cx="1621.5" cy="3520.2" r="7.0"/><circle cx="1621.5" cy="3523.5" r="7.0"/><circle cx="1628.4" cy="3525.2" r="7.0"/><circle cx="1626.6" cy="3525.4" r="7.0"/><circle cx="1622.8" cy="3524.4" r="7.0"/><circle cx="1630.1" cy="3526" r="7.0"/><circle cx="1628.2" cy="3526.3" r="7.0"/><circle cx="1623.8" cy="3518.9" r="7.0"/><circle cx="1625.6" cy="3526" r="7.0"/><circle cx="1624.1" cy="3518.5" r="7.0"/><circle cx="1621.6" cy="3523.1" r="7.0"/><circle cx="1621.9" cy="3523.4" r="7.0"/><circle cx="1622.6" cy="3523.9" r="7.0"/><circle cx="1623" cy="3524.2" r="7.0"/><circle cx="1623.6" cy="3524.4" r="7.0"/><circle cx="1624.1" cy="3524.6" r="7.0"/><circle cx="1624.8" cy="3524.8" r="7.0"/><circle cx="1625.4" cy="3525" r="7.0"/><circle cx="1626.2" cy="3525.2" r="7.0"/><circle cx="1626.9" cy="3525.4" r="7.0"/><circle cx="1627.7" cy="3525.6" r="7.0"/><circle cx="1628.6" cy="3525.7" r="7.0"/><circle cx="1629.5" cy="3525.9" r="7.0"/><circle cx="1630.4" cy="3526" r="7.0"/><circle cx="1631.4" cy="3526.1" r="7.0"/><circle cx="1632.4" cy="3526.2" r="7.0"/><circle cx="1633.4" cy="3526.3" r="7.0"/><circle cx="1634.5" cy="3526.4" r="7.0"/><circle cx="1635.6" cy="3526.5" r="7.0"/><circle cx="1636.7" cy="3526.6" r="7.0"/><circle cx="1637.9" cy="3526.6" r="7.0"/><circle cx="1639.1" cy="3526.6" r="7.0"/><circle cx="1640.4" cy="3526.7" r="7.0"/><circle cx="1641.6" cy="3526.7" r="7.0"/><circle cx="1642.9" cy="3526.7" r="7.0"/><circle cx="1645.7" cy="3526.7" r="7.0"/><circle cx="1648.8" cy="3526.7" r="7.0"/><circle cx="1651.9" cy="3526.7" r="7.0"/><circle cx="1655" cy="3526.7" r="7.0"/><circle cx="1658" cy="3526.7" r="7.0"/><circle cx="1661.1" cy="3526.7" r="7.0"/><circle cx="1664.2" cy="3526.7" r="7.0"/><circle cx="1667.3" cy="3526.7" r="7.0"/><circle cx="1670.3" cy="3526.7" r="7.0"/><circle cx="1673.4" cy="3526.7" r="7.0"/><circle cx="1676.5" cy="3526.7" r="7.0"/><circle cx="1679.6" cy="3526.7" r="7.0"/><circle cx="1682.6" cy="3526.7" r="7.0"/><circle cx="1690.5" cy="3526.7" r="7.0"/><circle cx="1696" cy="3526.7" r="7.0"/><circle cx="1702.6" cy="3526.7" r="7.0"/><circle cx="1708.2" cy="3526.7" r="7.0"/><circle cx="1716.5" cy="3526.7" r="7.0"/><circle cx="1723.1" cy="3526.7" r="7.0"/><circle cx="1733.3" cy="3526.7" r="7.0"/><circle cx="1740.8" cy="3526.7" r="7.0"/><circle cx="1763.1" cy="3526.7" r="7.0"/><circle cx="1779.9" cy="3526.7" r="7.0"/><circle cx="1788.3" cy="3526.7" r="7.0"/><circle cx="1796.7" cy="3526.7" r="7.0"/><circle cx="1806" cy="3526.7" r="7.0"/><circle cx="1828.3" cy="3526.7" r="7.0"/><circle cx="1842.3" cy="3526.7" r="7.0"/><circle cx="1845.1" cy="3526.7" r="7.0"/><circle cx="1845.1" cy="3482.1" r="7.0"/><circle cx="1845.1" cy="3469.2" r="7.0"/><circle cx="1845.1" cy="3450.4" r="7.0"/><circle cx="1845.1" cy="3433.6" r="7.0"/><circle cx="1844.4" cy="3414.7" r="7.0"/><circle cx="1845.6" cy="3413.9" r="7.0"/><circle cx="1845.1" cy="3371.6" r="7.0"/><circle cx="1844.3" cy="3287.4" r="7.0"/><circle cx="1844.6" cy="3295.4" r="7.0"/><circle cx="1845.2" cy="3293.4" r="7.0"/><circle cx="1846.2" cy="3295" r="7.0"/><circle cx="1845.1" cy="3066.4" r="7.0"/><circle cx="1845.1" cy="3047" r="7.0"/><circle cx="1845.1" cy="2836.3" r="7.0"/><circle cx="1845.1" cy="2809.1" r="7.0"/></g>
<g fill="none" stroke="#000" stroke-opacity="0.8" stroke-width="2.8"><circle cx="279.8" cy="3489.9" r="7.0"/><circle cx="279.7" cy="3491" r="7.0"/><circle cx="279.2" cy="3509.9" r="7.0"/><circle cx="279.2" cy="3518.9" r="7.0"/><circle cx="278.9" cy="3521.5" r="7.0"/><circle cx="279.5" cy="3524.1" r="7.0"/><circle cx="280.7" cy="3525.3" r="7.0"/><circle cx="282" cy="3526.1" r="7.0"/><circle cx="283.6" cy="3526.5" r="7.0"/><circle cx="285.5" cy="3526.7" r="7.0"/><circle cx="292" cy="3526.7" r="7.0"/><circle cx="316.2" cy="3526.7" r="7.0"/><circle cx="327.4" cy="3526.7" r="7.0"/><circle cx="331.1" cy="3526.7" r="7.0"/><circle cx="384.2" cy="3526.7" r="7.0"/><circle cx="456" cy="3526.7" r="7.0"/><circle cx="501.6" cy="3526.7" r="7.0"/><circle cx="501.6" cy="3310.8" r="7.0"/><circle cx="502.3" cy="3358.2" r="7.0"/><circle cx="500.5" cy="3357.3" r="7.0"/><circle cx="501.6" cy="3370.3" r="7.0"/><circle cx="501.6" cy="3387.1" r="7.0"/><circle cx="502.2" cy="3413.2" r="7.0"/><circle cx="500.5" cy="3404.1" r="7.0"/><circle cx="501.6" cy="3409.8" r="7.0"/><circle cx="501.6" cy="3437.5" r="7.0"/><circle cx="500.9" cy="3447" r="7.0"/><circle cx="501.3" cy="3450.5" r="7.0"/><circle cx="501.6" cy="3469.2" r="7.0"/><circle cx="501.6" cy="3481.4" r="7.0"/><circle cx="501.9" cy="3513.8" r="7.0"/><circle cx="501.4" cy="3517" r="7.0"/><circle cx="502" cy="3520.2" r="7.0"/><circle cx="501.4" cy="3523.5" r="7.0"/><circle cx="502" cy="3523.7" r="7.0"/><circle cx="502.9" cy="3524.5" r="7.0"/><circle cx="504.1" cy="3525.2" r="7.0"/><circle cx="505.6" cy="3525.7" r="7.0"/><circle cx="507.3" cy="3526.2" r="7.0"/><circle cx="509.3" cy="3526.5" r="7.0"/><circle cx="511.4" cy="3526.6" r="7.0"/><circle cx="513.7" cy="3526.7" r="7.0"/><circle cx="516.5" cy="3526.7" r="7.0"/><circle cx="520.2" cy="3526.7" r="7.0"/><circle cx="524" cy="3526.7" r="7.0"/><circle cx="527.7" cy="3526.7" r="7.0"/><circle cx="534.2" cy="3526.7" r="7.0"/><circle cx="557.5" cy="3526.7" r="7.0"/><circle cx="562.2" cy="3526.7" r="7.0"/><circle cx="566.8" cy="3526.7" r="7.0"/><circle cx="652.5" cy="3526.7" r="7.0"/><circle cx="726.1" cy="3526.7" r="7.0"/><circle cx="726.1" cy="3304.3" r="7.0"/><circle cx="726.1" cy="3468.5" r="7.0"/><circle cx="726.1" cy="3498.3" r="7.0"/><circle cx="725.9" cy="3516.4" r="7.0"/><circle cx="726.3" cy="3519.8" r="7.0"/><circle cx="726.1" cy="3523.3" r="7.0"/><circle cx="726.6" cy="3523.7" r="7.0"/><circle cx="727.5" cy="3524.5" r="7.0"/><circle cx="728.7" cy="3525.2" r="7.0"/><circle cx="730.1" cy="3525.7" r="7.0"/><circle cx="731.9" cy="3526.2" r="7.0"/><circle cx="733.8" cy="3526.5" r="7.0"/><circle cx="735.9" cy="3526.6" r="7.0"/><circle cx="738.3" cy="3526.7" r="7.0"/><circle cx="742" cy="3526.7" r="7.0"/><circle cx="746.6" cy="3526.7" r="7.0"/><circle cx="751.3" cy="3526.7" r="7.0"/><circle cx="782" cy="3526.7" r="7.0"/><circle cx="822.1" cy="3526.7" r="7.0"/><circle cx="917.1" cy="3526.7" r="7.0"/><circle cx="950.7" cy="3526.7" r="7.0"/><circle cx="950.7" cy="3296.6" r="7.0"/><circle cx="950.7" cy="3416.8" r="7.0"/><circle cx="951" cy="3456.9" r="7.0"/><circle cx="951.3" cy="3457.2" r="7.0"/><circle cx="950.7" cy="3506" r="7.0"/><circle cx="950.9" cy="3516.4" r="7.0"/><circle cx="951" cy="3519.8" r="7.0"/><circle cx="950.8" cy="3523.3" r="7.0"/><circle cx="951.9" cy="3524.5" r="7.0"/><circle cx="953" cy="3525.2" r="7.0"/><circle cx="954.4" cy="3525.7" r="7.0"/><circle cx="956" cy="3526.2" r="7.0"/><circle cx="957.7" cy="3526.5" r="7.0"/><circle cx="959.7" cy="3526.6" r="7.0"/><circle cx="961.9" cy="3526.7" r="7.0"/><circle cx="969.3" cy="3526.7" r="7.0"/><circle cx="998.2" cy="3526.7" r="7.0"/><circle cx="1036.4" cy="3526.7" r="7.0"/><circle cx="1060.6" cy="3526.7" r="7.0"/><circle cx="1130.5" cy="3526.7" r="7.0"/><circle cx="1173.4" cy="3526.7" r="7.0"/><circle cx="1173.4" cy="3233.2" r="7.0"/><circle cx="1173.4" cy="3490.5" r="7.0"/><circle cx="1173.4" cy="3507.3" r="7.0"/><circle cx="1173.2" cy="3513.8" r="7.0"/><circle cx="1173.3" cy="3517" r="7.0"/><circle cx="1173.3" cy="3520.2" r="7.0"/><circle cx="1173.7" cy="3523.5" r="7.0"/><circle cx="1173.8" cy="3523.6" r="7.0"/><circle cx="1174.6" cy="3524.2" r="7.0"/><circle cx="1175.7" cy="3524.8" r="7.0"/><circle cx="1177" cy="3525.3" r="7.0"/><circle cx="1178.6" cy="3525.7" r="7.0"/><circle cx="1180.4" cy="3526.1" r="7.0"/><circle cx="1182.3" cy="3526.4" r="7.0"/><circle cx="1184.4" cy="3526.5" r="7.0"/><circle cx="1186.7" cy="3526.7" r="7.0"/><circle cx="1189.2" cy="3526.7" r="7.0"/><circle cx="1206" cy="3526.7" r="7.0"/><circle cx="1233.9" cy="3526.7" r="7.0"/><circle cx="1278.6" cy="3526.7" r="7.0"/><circle cx="1293.6" cy="3526.7" r="7.0"/><circle cx="1384.9" cy="3526.7" r="7.0"/><circle cx="1397" cy="3526.7" r="7.0"/><circle cx="1397" cy="3203.5" r="7.0"/><circle cx="1397" cy="3500.8" r="7.0"/><circle cx="1397" cy="3504.7" r="7.0"/><circle cx="1397" cy="3508.6" r="7.0"/><circle cx="1396.6" cy="3511.2" r="7.0"/><circle cx="1397.3" cy="3515.1" r="7.0"/><circle cx="1396.5" cy="3518.9" r="7.0"/><circle cx="1396.7" cy="3522.8" r="7.0"/><circle cx="1397.3" cy="3523.4" r="7.0"/><circle cx="1397.9" cy="3523.9" r="7.0"/><circle cx="1398.8" cy="3524.3" r="7.0"/><circle cx="1399.9" cy="3524.7" r="7.0"/><circle cx="1401.1" cy="3525.1" r="7.0"/><circle cx="1402.5" cy="3525.4" r="7.0"/><circle cx="1404" cy="3525.7" r="7.0"/><circle cx="1405.7" cy="3526" r="7.0"/><circle cx="1407.5" cy="3526.2" r="7.0"/><circle cx="1409.5" cy="3526.4" r="7.0"/><circle cx="1411.5" cy="3526.5" r="7.0"/><circle cx="1413.7" cy="3526.6" r="7.0"/><circle cx="1416" cy="3526.7" r="7.0"/><circle cx="1418.4" cy="3526.7" r="7.0"/><circle cx="1424" cy="3526.7" r="7.0"/><circle cx="1438.9" cy="3526.7" r="7.0"/><circle cx="1464.1" cy="3526.7" r="7.0"/><circle cx="1621.5" cy="3526.7" r="7.0"/><circle cx="1621.5" cy="3084.5" r="7.0"/><circle cx="1621.5" cy="3409.7" r="7.0"/><circle cx="1621.5" cy="3458.2" r="7.0"/><circle cx="1621.5" cy="3487.9" r="7.0"/><circle cx="1621.5" cy="3498.3" r="7.0"/><circle cx="1621.3" cy="3500.8" r="7.0"/><circle cx="1621.9" cy="3504.1" r="7.0"/><circle cx="1621.5" cy="3507.3" r="7.0"/><circle cx="1621.4" cy="3510.5" r="7.0"/><circle cx="1621.9" cy="3513.8" r="7.0"/><circle cx="1621.3" cy="3517" r="7.0"/><circle cx="1621.5" cy="3520.2" r="7.0"/><circle cx="1621.5" cy="3523.5" r="7.0"/><circle cx="1628.4" cy="3525.2" r="7.0"/><circle cx="1626.6" cy="3525.4" r="7.0"/><circle cx="1622.8" cy="3524.4" r="7.0"/><circle cx="1630.1" cy="3526" r="7.0"/><circle cx="1628.2" cy="3526.3" r="7.0"/><circle cx="1623.8" cy="3518.9" r="7.0"/><circle cx="1625.6" cy="3526" r="7.0"/><circle cx="1624.1" cy="3518.5" r="7.0"/><circle cx="1621.6" cy="3523.1" r="7.0"/><circle cx="1621.9" cy="3523.4" r="7.0"/><circle cx="1622.6" cy="3523.9" r="7.0"/><circle cx="1623" cy="3524.2" r="7.0"/><circle cx="1623.6" cy="3524.4" r="7.0"/><circle cx="1624.1" cy="3524.6" r="7.0"/><circle cx="1624.8" cy="3524.8" r="7.0"/><circle cx="1625.4" cy="3525" r="7.0"/><circle cx="1626.2" cy="3525.2" r="7.0"/><circle cx="1626.9" cy="3525.4" r="7.0"/><circle cx="1627.7" cy="3525.6" r="7.0"/><circle cx="1628.6" cy="3525.7" r="7.0"/><circle cx="1629.5" cy="3525.9" r="7.0"/><circle cx="1630.4" cy="3526" r="7.0"/><circle cx="1631.4" cy="3526.1" r="7.0"/><circle cx="1632.4" cy="3526.2" r="7.0"/><circle cx="1633.4" cy="3526.3" r="7.0"/><circle cx="1634.5" cy="3526.4" r="7.0"/><circle cx="1635.6" cy="3526.5" r="7.0"/><circle cx="1636.7" cy="3526.6" r="7.0"/><circle cx="1637.9" cy="3526.6" r="7.0"/><circle cx="1639.1" cy="3526.6" r="7.0"/><circle cx="1640.4" cy="3526.7" r="7.0"/><circle cx="1641.6" cy="3526.7" r="7.0"/><circle cx="1642.9" cy="3526.7" r="7.0"/><circle cx="1645.7" cy="3526.7" r="7.0"/><circle cx="1648.8" cy="3526.7" r="7.0"/><circle cx="1651.9" cy="3526.7" r="7.0"/><circle cx="1655" cy="3526.7" r="7.0"/><circle cx="1658" cy="3526.7" r="7.0"/><circle cx="1661.1" cy="3526.7" r="7.0"/><circle cx="1664.2" cy="3526.7" r="7.0"/><circle cx="1667.3" cy="3526.7" r="7.0"/><circle cx="1670.3" cy="3526.7" r="7.0"/><circle cx="1673.4" cy="3526.7" r="7.0"/><circle cx="1676.5" cy="3526.7" r="7.0"/><circle cx="1679.6" cy="3526.7" r="7.0"/><circle cx="1682.6" cy="3526.7" r="7.0"/><circle cx="1690.5" cy="3526.7" r="7.0"/><circle cx="1696" cy="3526.7" r="7.0"/><circle cx="1702.6" cy="3526.7" r="7.0"/><circle cx="1708.2" cy="3526.7" r="7.0"/><circle cx="1716.5" cy="3526.7" r="7.0"/><circle cx="1723.1" cy="3526.7" r="7.0"/><circle cx="1733.3" cy="3526.7" r="7.0"/><circle cx="1740.8" cy="3526.7" r="7.0"/><circle cx="1763.1" cy="3526.7" r="7.0"/><circle cx="1779.9" cy="3526.7" r="7.0"/><circle cx="1788.3" cy="3526.7" r="7.0"/><circle cx="1796.7" cy="3526.7" r="7.0"/><circle cx="1806" cy="3526.7" r="7.0"/><circle cx="1828.3" cy="3526.7" r="7.0"/><circle cx="1842.3" cy="3526.7" r="7.0"/><circle cx="1845.1" cy="3526.7" r="7.0"/><circle cx="1845.1" cy="3482.1" r="7.0"/><circle cx="1845.1" cy="3469.2" r="7.0"/><circle cx="1845.1" cy="3450.4" r="7.0"/><circle cx="1845.1" cy="3433.6" r="7.0"/><circle cx="1844.4" cy="3414.7" r="7.0"/><circle cx="1845.6" cy="3413.9" r="7.0"/><circle cx="1845.1" cy="3371.6" r="7.0"/><circle cx="1844.3" cy="3287.4" r="7.0"/><circle cx="1844.6" cy="3295.4" r="7.0"/><circle cx="1845.2" cy="3293.4" r="7.0"/><circle cx="1846.2" cy="3295" r="7.0"/><circle cx="1845.1" cy="3066.4" r="7.0"/><circle cx="1845.1" cy="3047" r="7.0"/><circle cx="1845.1" cy="2836.3" r="7.0"/><circle cx="1845.1" cy="2809.1" r="7.0"/></g>
</g>
<g stroke="#2b2b2b" fill="none">
<path d="M296 2621.7 H278 V3656.1 H2290.5 V3638.1" stroke-width="5.2" stroke-linejoin="round"/>
<path d="M278 3526.7h18M278 3397.4h18M278 3268.1h18M278 3138.8h18M278 3009.5h18M278 2880.2h18M278 2751h18M501.6 3656.1v-18M725.2 3656.1v-18M948.8 3656.1v-18M1172.4 3656.1v-18M1396 3656.1v-18M1619.6 3656.1v-18M1843.3 3656.1v-18M2066.9 3656.1v-18" stroke-width="4.6"/>
</g>
<rect x="391.1" y="2718.7" width="128.6" height="77.5" rx="1.5" fill="#fff" stroke="#858585" stroke-width="4"/>
<text class="an" transform="translate(455.5 2778.1) scale(1 1.04)" font-size="53.8" font-weight="bold" text-anchor="middle">2.16</text>
<rect x="324" y="3302.8" width="127" height="75.5" rx="1.5" fill="#fff" stroke="#858585" stroke-width="4"/>
<text class="an" transform="translate(387.5 3361.6) scale(1 1.04)" font-size="53.8" font-weight="bold" text-anchor="middle">2.16</text>
<rect x="549.5" y="3303.8" width="127" height="75.5" rx="1.5" fill="#fff" stroke="#858585" stroke-width="4"/>
<text class="an" transform="translate(613 3362.6) scale(1 1.04)" font-size="53.8" font-weight="bold" text-anchor="middle">2.59</text>
<rect x="769.5" y="3286.8" width="127" height="75.5" rx="1.5" fill="#fff" stroke="#858585" stroke-width="4"/>
<text class="an" transform="translate(833 3345.6) scale(1 1.04)" font-size="53.8" font-weight="bold" text-anchor="middle">3.03</text>
<rect x="990.5" y="3273.8" width="127" height="75.5" rx="1.5" fill="#fff" stroke="#858585" stroke-width="4"/>
<text class="an" transform="translate(1054 3332.6) scale(1 1.04)" font-size="53.8" font-weight="bold" text-anchor="middle">3.46</text>
<rect x="1220.5" y="3221.8" width="127" height="75.5" rx="1.5" fill="#fff" stroke="#858585" stroke-width="4"/>
<text class="an" transform="translate(1284 3280.6) scale(1 1.04)" font-size="53.8" font-weight="bold" text-anchor="middle">3.89</text>
<rect x="1444.5" y="3188.3" width="127" height="75.5" rx="1.5" fill="#fff" stroke="#858585" stroke-width="4"/>
<text class="an" transform="translate(1508 3247.1) scale(1 1.04)" font-size="53.8" font-weight="bold" text-anchor="middle">4.32</text>
<rect x="1668.5" y="3075.8" width="127" height="75.5" rx="1.5" fill="#fff" stroke="#858585" stroke-width="4"/>
<text class="an" transform="translate(1732 3134.6) scale(1 1.04)" font-size="53.8" font-weight="bold" text-anchor="middle">4.76</text>
<rect x="1862.5" y="2914.3" width="127" height="75.5" rx="1.5" fill="#fff" stroke="#858585" stroke-width="4"/>
<text class="an" transform="translate(1926 2973.1) scale(1 1.04)" font-size="53.8" font-weight="bold" text-anchor="middle">5.19</text>
</svg>
</body></html>
